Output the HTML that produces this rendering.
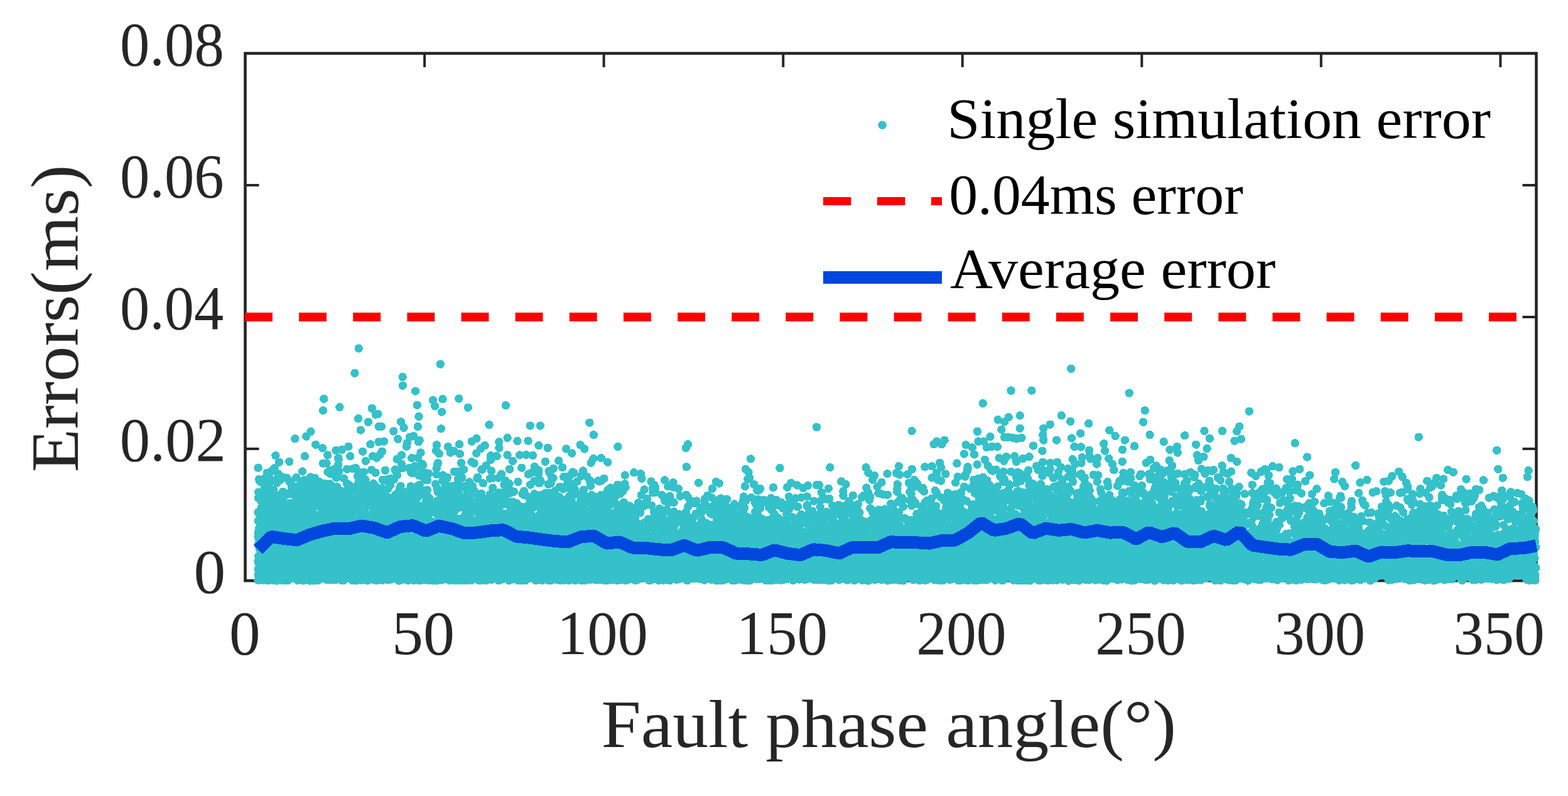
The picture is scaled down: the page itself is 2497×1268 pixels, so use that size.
<!DOCTYPE html>
<html><head><meta charset="utf-8"><title>Errors vs fault phase angle</title>
<style>html,body{margin:0;padding:0;background:#fff}svg{display:block}text{font-family:"Liberation Serif","DejaVu Serif",serif;font-size:100px}</style>
</head><body>
<svg width="2497" height="1268" viewBox="0 0 2497 1268">
<rect width="2497" height="1268" fill="#fff"/>
<rect x="390.5" y="85" width="2056" height="840" fill="none" stroke="#262626" stroke-width="4.6"/><path d="M676.1,85V107M676.1,925V903M961.6,85V107M961.6,925V903M1247.2,85V107M1247.2,925V903M1532.7,85V107M1532.7,925V903M1818.3,85V107M1818.3,925V903M2103.8,85V107M2103.8,925V903M2389.4,85V107M2389.4,925V903M390.5,715.0H412.5M2446.5,715.0H2424.5M390.5,505.0H412.5M2446.5,505.0H2424.5M390.5,295.0H412.5M2446.5,295.0H2424.5" stroke="#262626" stroke-width="4" fill="none"/>
<path d="M411.1 745.1h0m0 71h0m0 13.7h0m0 18.8h0m0 7h0m0 12.4h0m0 25.5h0m0 1.2h0m0 11.7h0m0 9.4h0m0 8.3h0m.3-130.7h0m.3 92.3h0m0 11h0m.1 10.8h0m0 8.8h0m.1-132.3h0m.2 31.1h0m.5-51.5h0m.1 78h0m.2 44.6h0m.1-25.5h0m.2 44.7h0m.1-139.5h0m0 85.9h0m.1 56.1h0m.1-43.4h0m.1-7.8h0m0 10.6h0m0 7.3h0m.1-20.5h0m0 60h0m.1-82.2h0m.1-46.4h0m0 62.5h0m.2 7.9h0m.1-18.1h0m0 3.6h0m.1 67.8h0m0 13.8h0m.1-134.1h0m.1 81.2h0m0 52.6h0m.1-55h0m.1-20.7h0m.1-24.8h0m0 76.8h0m.1 1.9h0m0 5.2h0m.1-66.3h0m.1-2h0m0 6h0m.2-12.5h0m0 40.7h0m.2-54h0m.1 29.2h0m0 9.7h0m.2 62.1h0m.1-34.4h0m.1-86.5h0m.1-30.1h0m0 151.1h0m.1-24.6h0m.1-51.6h0m.1 30.8h0m.2-65.6h0m0 100.5h0m.1-41.6h0m.2 44.1h0m.2-63.5h0m.2 19.1h0m.1-14.7h0m.1 38.6h0m.2-52h0m0 40.1h0m0 38.6h0m.1-91.4h0m.1 25h0m0 22.8h0m.1 36.7h0m.1-92.9h0m0 75.9h0m.2-80.1h0m.1 30.7h0m0 80.1h0m.1-46.3h0m.2 36h0m.1-57h0m0 8.3h0m.1-28.1h0m.1-20.2h0m.2 25.2h0m.4 55h0m.3-76.2h0m.1 38h0m.1-74.5h0m0 128h0m.2-80.2h0m.1 11.6h0m.1-63h0m0 33.1h0m.2 31.7h0m.4-82.9h0m.1 116.7h0m0 17.3h0m.1-46.4h0m0 9h0m0 13.6h0m.1 17.9h0m.1-6.1h0m0 7.4h0m.1-84.1h0m0 22.9h0m.2-54.8h0m0 138.9h0m.1-134.4h0m0 101.7h0m0 7h0m0 14.2h0m.1-28.6h0m0 3.8h0m0 6.6h0m0 28.2h0m.1-117.5h0m.3-2.1h0m.1 81.8h0m0 11.7h0m.1-50.3h0m0 62.6h0m0 12.6h0m.1-2.9h0m.1-95.9h0m.5 24.1h0m0 3h0m0 65.5h0m.1-33.7h0m.1-32.1h0m0 36.4h0m0 21.3h0m.2-4.1h0m0 1.8h0m.1-5.4h0m0 18.2h0m.1-84.7h0m0 44.7h0m0 13.1h0m.1-.1h0m0 28.4h0m0 11h0m.4-80.8h0m.1-16.5h0m0 32.6h0m.1-51.7h0m0 3.1h0m.1 56.7h0m0 11.9h0m.2-112.4h0m0 158.1h0m.1 2.1h0m.1-68.5h0m0 8.1h0m.1-110.3h0m.2 9.1h0m0 76.1h0m.1 4.3h0m.1 40.8h0m.1-21.9h0m0 16.5h0m.1-103.3h0m0 63.3h0m.1 73.4h0m.1-1.4h0m.1-18.3h0m0 32.7h0m.1-164h0m.2 90.9h0m.2 31.8h0m.1-43.4h0m.2 67.4h0m.2-117.3h0m0 6.1h0m.1 65.2h0m.1-43.3h0m.1 58.3h0m0 35.9h0m.1-16.9h0m.1-71.6h0m0 24.4h0m.3-12.3h0m0 29h0m.2-16.4h0m0 53.2h0m.1-94.5h0m.1 74.1h0m.1 14.2h0m.2-85.3h0m0 45.9h0m.1 3.4h0m0 8.9h0m.2-98.1h0m0 111.5h0m0 28.9h0m0 13.8h0m.5-170.8h0m0 61.4h0m.2 90.7h0m.1-59h0m.1-3.9h0m.3-33.9h0m0 92.8h0m.2-81.4h0m0 54h0m.1 8.2h0m0 39.1h0m.1-45.7h0m.1-93.2h0m0 55.6h0m0 64.8h0m0 17h0m.1-6.4h0m.2 2.7h0m0 3h0m.2-32.2h0m.2-52.1h0m0 4.4h0m0 44.2h0m0 .4h0m0 29.9h0m.1-42.4h0m.2-26h0m.2-80.1h0m0 108.8h0m.1-50.7h0m0 56.5h0m.1-129.3h0m.1 154.4h0m.1-24h0m.1-15h0m.2 11.3h0m.3-32.8h0m.1 52.3h0m.1 10.3h0m.1-83.5h0m.2 39.2h0m.1 28.2h0m0 18.9h0m.1-18.3h0m.2 25h0m.3-38.2h0m0 26.8h0m.2-58.9h0m0 13.5h0m0 35.3h0m0 8.9h0m.1-33.8h0m0 25.1h0m0 9.3h0m.1-83.9h0m0 71.8h0m.2 .6h0m.1-98.3h0m.1 27.1h0m.2-35.5h0m0 10.1h0m0 14.7h0m0 55.3h0m0 43.9h0m.4 13.6h0m.1-103.6h0m0 31.3h0m0 18.7h0m0 33h0m0 15.7h0m.1 4.7h0m.1-143.6h0m0 110.2h0m0 24.3h0m.1-19.7h0m.1-78.2h0m.1 6.5h0m.4 48.3h0m0 23.9h0m.2-50.3h0m.2 30.2h0m.1-24.5h0m0 44.1h0m0 7.6h0m.1-156.9h0m.2 40.5h0m0 41.8h0m.1 93.3h0m.1 1.4h0m.3-92h0m.2 47.2h0m.1-40.9h0m0 79.4h0m.2-51.6h0m.3-25h0m0 31.3h0m.2-57.7h0m.1-18h0m.1-69.7h0m.1 197.8h0m.1-50.7h0m.1 12.9h0m0 1.1h0m.1-8.8h0m0 42.1h0m.1-31.4h0m.1-30h0m.1-17.9h0m0 40.1h0m.3-117.3h0m0 99.9h0m.1 16.8h0m0 31h0m.1-34.7h0m0 1.1h0m0 44.7h0m.1-117.1h0m0 8.2h0m.1 22.5h0m.1 74.4h0m.1-39.7h0m.1-19h0m.2-16h0m0 27.7h0m.1-54.3h0m0 76.4h0m0 39.4h0m.3-155.9h0m0 121.9h0m.1 10.9h0m.1-63.6h0m.3-2.6h0m0 27.3h0m.1-38.4h0m0 36h0m0 22.8h0m.1 8.7h0m0 9.5h0m0 20.3h0m.1-20.9h0m.1-56.8h0m.4 30.6h0m0 30.6h0m.1-66.1h0m0 63.2h0m0 1.2h0m.2-63.7h0m.2 63.6h0m.2-141.5h0m0 29.7h0m0 69.4h0m0 58.2h0m0 .8h0m.2-25.6h0m.1-139.7h0m0 143.7h0m0 21.3h0m.2-95.9h0m.1-28.7h0m0 46.8h0m0 44.9h0m.1-53.4h0m.2-18.9h0m0 22.2h0m.2 42.5h0m0 14.8h0m0 1.4h0m0 28.1h0m.1-23.1h0m0 3.3h0m.1-33h0m.1-134.7h0m0 83.2h0m0 83.9h0m.1-57.1h0m.3 34.4h0m0 7.5h0m.3 1.2h0m.2 5.6h0m.3-63h0m0 60.2h0m0 6.1h0m0 16.7h0m.2-23h0m.1-80.2h0m0 63.3h0m.1-85.5h0m0 61.4h0m0 47.8h0m0 21.9h0m.1-90.4h0m0 33h0m.1 28h0m.2-44.7h0m.1-82.3h0m0 108.1h0m0 44h0m.2-51.6h0m0 13.4h0m.1-28.1h0m0 54.5h0m.1-26.3h0m.1 40.7h0m.1-23.7h0m0 22.4h0m.2-31.2h0m.2-71.3h0m.1 56.2h0m0 33.8h0m.1-2.9h0m.1-92.6h0m.1 111.1h0m.4-67h0m0 38.4h0m.1-73.8h0m.1 62.4h0m.2-120.2h0m.1 47.2h0m0 68.1h0m.2-25.1h0m.2 35.4h0m.2-26.8h0m.1 34.1h0m0 19.5h0m0 10.5h0m.2-42.1h0m0 43.1h0m.2-77.2h0m0 36.4h0m.1-27.3h0m0 20h0m.2-93.1h0m.1 63.3h0m0 14.7h0m.1-35h0m0 51h0m.1-24.8h0m.1 56.7h0m.1-18.6h0m.1-101.7h0m.2 80.6h0m0 25.3h0m.2 29.6h0m.1-108.1h0m.1-55.5h0m0 57h0m.1-8.5h0m0 100.1h0m.2-64.6h0m0 57.7h0m.1-69.9h0m0 6.2h0m0 53.6h0m.2-26.7h0m.4 9.6h0m0 18.1h0m.4-28.3h0m.1 57.6h0m.1-71.5h0m.1-41.7h0m0 28.4h0m.1 21.3h0m0 52.3h0m0 3.1h0m.2-6.4h0m.1-106.9h0m0 86.4h0m.1 31.4h0m.1-6.1h0m.1-50.6h0m.1 36.4h0m.2-16.8h0m0 13.4h0m.6-17.8h0m0 17.9h0m.1-106.7h0m.3 56.1h0m.1-33.8h0m.2 .9h0m0 82.5h0m0 26.9h0m.1-18.7h0m.1 1.2h0m0 14.4h0m.1-91.5h0m0 23.7h0m0 34.7h0m0 24.1h0m.3-1.9h0m.1-37.5h0m0 22.8h0m0 26h0m.1-100.7h0m0 90.8h0m0 7.6h0m.2-37.7h0m.1-117.1h0m0 163h0m.1-13.2h0m.1-18.8h0m.2-63.3h0m0 56.6h0m.1-30.1h0m0 49.5h0m.1 1.1h0m.6-15.5h0m.1-103.7h0m.1 96.6h0m.1 5.7h0m0 27.6h0m.1-32.2h0m0 30.1h0m.1-2.3h0m.1 3.6h0m.1-44.6h0m.2-61.7h0m0 114.3h0m.1-79.9h0m0 61.7h0m0 13.3h0m.2-27.9h0m0 23.4h0m0 4.7h0m.1-48.6h0m0 33.3h0m.2-19.6h0m.1-7h0m0 12.6h0m.2-30.1h0m0 44.1h0m0 12h0m.1-85.8h0m.1 92.4h0m.1-106.8h0m0 46.9h0m.1 16.7h0m.3-113.4h0m0 124.6h0m.1 15.4h0m.1-88.8h0m0 54.8h0m.2-136.9h0m.1 30.9h0m.1 42h0m0 87.5h0m0 7.9h0m.1 16.2h0m.1-2.9h0m0 1h0m.1-34.9h0m0 7.2h0m.1 2.4h0m0 26.9h0m.1-151.6h0m0 98.3h0m.1-19.9h0m.3 1.6h0m0 67.3h0m.1-37.6h0m.1-2.6h0m0 25.5h0m.2-13.6h0m.3-10h0m0 37h0m.1-51.9h0m.2-60.8h0m0 119.7h0m.1-21.8h0m.3-11h0m0 25.8h0m.3-59.1h0m0 25.9h0m0 27.8h0m.1-69.8h0m0 81.2h0m.2-92.6h0m0 49.3h0m.1-65h0m0 69.9h0m0 2.6h0m.2-108.4h0m.1-4.3h0m0 70.6h0m0 31.6h0m.4-94.1h0m0 137.8h0m0 3.1h0m.1-63.8h0m.1-69.7h0m0 100.5h0m0 17.4h0m0 6.9h0m.1-20.5h0m0 4.4h0m.3-36.1h0m.3 1h0m0 .3h0m.1 12.4h0m0 2.3h0m.1-27.2h0m0 60.9h0m.1-33.9h0m.2-26.8h0m.2 34.6h0m0 12.4h0m.4 3h0m.1-60.7h0m0 59h0m0 20.8h0m.3-69.8h0m0 60.7h0m.3-70.5h0m.1-8.3h0m.1 79.5h0m.1-133.2h0m.1 74.7h0m0 65.3h0m.2-90.4h0m0 45.7h0m.1-27.7h0m.1 15.5h0m0 21.6h0m.1 28h0m.1-90.5h0m0 80.6h0m.1-95.6h0m0 13.5h0m0 38.8h0m0 5.7h0m0 50.9h0m0 1.1h0m.1-64.4h0m.1 71.6h0m.1-32.1h0m0 21.5h0m.1 7.2h0m.1-134.1h0m.1 92.9h0m0 19.8h0m.1-42.6h0m.2-52.8h0m.1-11.7h0m.1 125.6h0m.1-84h0m.2-131.2h0m.1 152.7h0m.1 42.8h0m.1-12.2h0m0 9.1h0m.3-13.8h0m.1 9.7h0m0 3h0m.1-71.6h0m.3 7h0m0 49.7h0m.2-87.5h0m0 12.5h0m0 105.5h0m.3-43.4h0m.1 42.6h0m.1-68.2h0m0 .7h0m0 46.9h0m.1 11.4h0m0 24.7h0m.1-159.8h0m.1 95.4h0m0 42h0m0 4.9h0m.2-20h0m.2-19.7h0m.2-28.5h0m0 73.9h0m.1-18.5h0m0 29.7h0m.1-21.1h0m0 19.4h0m.1-107.7h0m0 58.9h0m.1-38.9h0m0 52.1h0m0 26.5h0m0 10.6h0m.1-15.8h0m.2-20.7h0m.1 3.3h0m0 10h0m.2-24.5h0m0 30.6h0m.1-34.8h0m0 40h0m.5-113.5h0m0 130.4h0m.2-45.5h0m.2-52.8h0m.4-29h0m.1 39.5h0m0 42.6h0m.2-27.2h0m0 40.6h0m.4 27.3h0m.1-11.8h0m.1-102.1h0m.1-11.4h0m.1 57.3h0m.2-5.1h0m0 25.8h0m0 42h0m.2-51h0m.2-90.6h0m0 37.8h0m0 101.8h0m.1-23.6h0m0 12.2h0m.1 6.1h0m.1-75.1h0m0 64.9h0m.3-32.3h0m0 21.8h0m.2 9h0m0 25.5h0m.2-44.4h0m.1-28.8h0m0 20h0m0 28.2h0m.1-118.9h0m0 32.4h0m.3 48.1h0m0 2.4h0m0 56.8h0m.2-138.5h0m.2 97.8h0m.2 21.9h0m.1-47.3h0m0 17.5h0m0 50.9h0m.2-30.1h0m.2-97.6h0m.1 22.4h0m0 88.7h0m0 12.9h0m.2-47.2h0m0 34.6h0m0 9.4h0m0 8.9h0m.1 1.7h0m.2-7.7h0m.1-37.9h0m0 13.7h0m.2 28.8h0m.1-47.7h0m.1 7.5h0m.2-65h0m0 19.7h0m0 84.2h0m.1-125.5h0m0 8.4h0m.1 13.4h0m0 57.7h0m.2 31.7h0m.1-35.1h0m0 10.3h0m.1 12h0m.1-124.9h0m0 79.6h0m0 28.1h0m.1-69.3h0m.1-54.2h0m0 108.9h0m0 39.3h0m0 24.2h0m.1-92.8h0m.1 9.3h0m.2 3.9h0m.1 .1h0m.1 21.9h0m.1 14h0m.1 29.9h0m.1-97h0m0 75.1h0m.1-62.8h0m0 14.9h0m0 35.8h0m0 28.3h0m.2-25.9h0m0 46.8h0m.2-35.1h0m.1 .5h0m0 33.9h0m.2-134.6h0m0 18.8h0m0 106.7h0m.1-114.4h0m0 66.6h0m.1-43.2h0m0 53.8h0m.3-62.4h0m0 51.2h0m.4-45.3h0m0 71.2h0m.3-54.6h0m0 56.4h0m0 5.7h0m.2-89.8h0m0 21.7h0m0 3.7h0m0 24.9h0m0 20h0m.1 7.8h0m0 25.5h0m.1-11.2h0m.1-138h0m0 68.6h0m0 39.3h0m.3-4.7h0m0 1.5h0m.1-99.1h0m.1-43.6h0m.2 90.8h0m.1-20h0m.1 116.3h0m.2-6.4h0m.1-48.7h0m0 21.5h0m0 1.5h0m0 3.2h0m.2-58h0m0 42.9h0m.1 25h0m0 28.5h0m.5-54h0m.1-78.8h0m.1 55.1h0m.1 51.1h0m0 2.7h0m.2-3.3h0m.3-200.9h0m.1 162h0m0 6.9h0m.1 29.9h0m0 26.2h0m.1-36.5h0m0 40h0m.1-75.5h0m.2 59.8h0m.1-45.4h0m0 41.7h0m.3-93.5h0m0 33.8h0m.2-26.2h0m0 105.5h0m.1-105.1h0m0 96.4h0m.1-109.3h0m0 67.8h0m.1-48.1h0m0 40.5h0m0 26.8h0m0 13h0m.1-125.4h0m0 107.6h0m.1 11.6h0m0 20.6h0m.1-67.1h0m.1-68.4h0m0 124.9h0m.1-68.2h0m.1-41.8h0m0 79.7h0m.1-59.2h0m0 50.9h0m.5-43.9h0m0 41.5h0m.1 26.3h0m.1-59.9h0m0 74.5h0m.1-64.5h0m.1 16.9h0m0 25.6h0m.1-109.6h0m.2 67.2h0m0 23.6h0m0 47.8h0m.1-30.9h0m.3-72.1h0m0 51.4h0m0 53.9h0m.4-116.3h0m0 84.2h0m.2-84h0m.1-22.9h0m0 127.1h0m.3-141.1h0m0 73.8h0m0 30.1h0m.1-1.1h0m.1 53.5h0m.1-35.1h0m.2-20.2h0m0 9.8h0m.2 16.1h0m.1-19.7h0m.1-25.1h0m0 5.3h0m.1 30.5h0m.2-53.2h0m.2 94.4h0m.2-69h0m.1 19.7h0m.1-68.1h0m0 40.6h0m0 24.2h0m0 34.9h0m.1-81.1h0m.1 1.8h0m0 74.5h0m0 16h0m.1-158.5h0m0 71.4h0m.1 51.7h0m0 39.8h0m.1-91.6h0m.1-143.7h0m0 127.7h0m0 42.8h0m.1 15h0m0 30.6h0m.1 1.9h0m.2-14.4h0m0 2.1h0m.1-23.3h0m.1-63.1h0m.1 10.2h0m.2 76.8h0m.1-41.8h0m.1 71.2h0m.1-156.5h0m.3 150.3h0m.1-121.3h0m0 47h0m0 54.6h0m.1-7.7h0m0 23.5h0m.1-73.3h0m.1-5.3h0m.4-19.1h0m0 17.4h0m.1 59.8h0m.1-14.2h0m.1 42.8h0m.1-106.3h0m0 94.8h0m.2 2.7h0m.1-46.2h0m.2-45.4h0m.1 37.5h0m0 23h0m.3 .3h0m0 3.7h0m.1 38.7h0m0 .8h0m.1-137.4h0m.2 86.7h0m0 42.8h0m.1-49.8h0m.2 37.1h0m.1-41.1h0m0 58.9h0m.2-52.3h0m.5-76.3h0m0 8.4h0m.1 5.2h0m0 41.9h0m0 2.5h0m.4-20.7h0m.2 45.5h0m0 17.1h0m.2-23h0m0 16.1h0m.1 27.5h0m.1-77.5h0m0 42h0m.1-103.6h0m0 70.6h0m0 21.7h0m0 6.5h0m0 41.3h0m.1-37.9h0m0 18.8h0m.2-121.6h0m.1 117.5h0m.1-130.1h0m.2 115.6h0m.2-36h0m.1 49h0m0 9.4h0m.2-24.3h0m0 12.5h0m.2-38.5h0m0 59h0m.2-200h0m.2 67.7h0m0 120.1h0m0 18.9h0m.3-57.5h0m0 59.9h0m.2-138.9h0m.1 67.6h0m0 76.6h0m.3-98.4h0m0 12h0m0 75.9h0m.2-64.9h0m0 7.9h0m0 5.2h0m0 27.4h0m0 36.7h0m.1-63.8h0m0 46.3h0m.1 .6h0m.1-66h0m.1 38.8h0m0 35h0m.1-67.1h0m.3-28h0m.1 101.1h0m.2-28.6h0m.3 4.4h0m.2-65.8h0m.1 92.8h0m.2-3.8h0m.1-122.7h0m0 33.6h0m0 48.4h0m.1-52.3h0m0 81.5h0m.1-129.9h0m0 14.4h0m.2 39.8h0m.1 24.7h0m.1-35.9h0m0 31.2h0m.1 54.7h0m0 16.1h0m.2-9.6h0m.1-47.7h0m.1-14.5h0m0 2.3h0m0 53.3h0m.6-31.1h0m0 15.8h0m0 .6h0m.1-111.9h0m.2 53.2h0m.1 82.6h0m.1-147.5h0m0 130.6h0m.1-3.1h0m.1-90.5h0m.2-38.8h0m0 31.1h0m.1 94.6h0m.1-12.6h0m0 19.1h0m0 6.9h0m.1-15.4h0m.1-22.6h0m0 53.2h0m.1-86.3h0m.1 75.6h0m.3-25.3h0m.3 9.2h0m0 3.3h0m.1-75.7h0m0 67.9h0m0 14.3h0m.2 16.9h0m.1-66.6h0m0 7.7h0m.1-3.8h0m0 7.9h0m0 40.9h0m.3-41.9h0m.1 1.4h0m0 11.7h0m0 6h0m0 2.1h0m.3-47.1h0m.1 61.1h0m.1-96.1h0m0 77.3h0m.1 38.2h0m.3-3.7h0m.2-130.9h0m.1 69.3h0m0 21.3h0m0 19.8h0m.2-47.5h0m0 9.9h0m0 20.1h0m0 7.1h0m.1-65.9h0m0 68.8h0m.1 25.4h0m.1-104.7h0m0 46.5h0m0 53.6h0m.2-56.9h0m0 49.2h0m.3-128.4h0m0 92.3h0m0 44.6h0m.1-92h0m0 99h0m.1-31.7h0m.3-45.5h0m0 17.8h0m.1-42.9h0m.2-101.5h0m.1 204.3h0m.2-122.6h0m0 54.8h0m0 35.9h0m0 7.9h0m.1-156.1h0m.1 99.4h0m0 30.2h0m0 43.5h0m0 7.7h0m.1-24.7h0m.1-59.8h0m.1-180.5h0m0 206.8h0m.1 35.6h0m.1-29.8h0m.1 9.8h0m.1-77.6h0m.1 109.2h0m.2-74.9h0m0 60.3h0m.1-89.2h0m0 33.3h0m0 66.1h0m.1-69.1h0m0 76.7h0m.1-132.9h0m.1-142.8h0m0 216.7h0m.2 25.2h0m0 31.5h0m.4 10.1h0m.1-23.1h0m.1-15.5h0m.3 12h0m.3-34.6h0m0 .5h0m0 63.7h0m.1-151.3h0m0 18.3h0m.2 65.9h0m0 10.3h0m.1 33.1h0m.1-55.1h0m.1 19.6h0m.2-56.1h0m0 67.4h0m0 46.8h0m.1 .2h0m.1-31.7h0m.1-61.2h0m0 88.9h0m.3 1.6h0m0 1.8h0m.1-67.7h0m0 31.9h0m0 21.7h0m.1-124.9h0m.1 70.4h0m.2 45.4h0m0 3.1h0m0 .4h0m.1-98.8h0m0 88.8h0m.1-51.7h0m0 24.9h0m0 26.6h0m0 29.4h0m.3-9.7h0m.2-80.5h0m.1 40h0m0 41.7h0m.1-44.9h0m.1-128.5h0m.1 68h0m.4-34.9h0m0 101h0m.1-62.9h0m0 98.8h0m0 9.4h0m.1-37.2h0m0 14h0m.1-32.7h0m.1 62.3h0m.1-116.6h0m.3 51.9h0m.1-51.1h0m.1 103.1h0m.3-186.2h0m0 106h0m0 18.5h0m.1 60.6h0m.1-158.1h0m.1 81.2h0m.1 54.1h0m.1-35.6h0m.1-47.3h0m0 6.3h0m.1 103.5h0m.1-119.5h0m.1 31.1h0m0 59.1h0m.1-13.2h0m.1-31.4h0m0 18.6h0m0 21h0m.2 32.2h0m.2-64.8h0m0 19.3h0m0 33.8h0m.2-17h0m0 3.7h0m.1-100.9h0m0 12.8h0m0 69.6h0m.1 16.1h0m.2-6.1h0m.1-47.7h0m.1 16.6h0m.1-68.4h0m0 29.6h0m0 21.3h0m.2-3.1h0m0 24.4h0m0 43.6h0m0 14.3h0m.1-104.3h0m.1 111.4h0m.2-.5h0m.1-53.4h0m.2 6h0m0 30.8h0m0 11.7h0m0 12.7h0m.3-88.5h0m0 37.1h0m0 14.1h0m0 4.6h0m.2-119.9h0m.3-21.7h0m0 70.3h0m0 4.8h0m.2 4.4h0m.1 49.9h0m0 27h0m0 13.5h0m.1-164.2h0m.1 109.8h0m0 38h0m.4-110h0m0 95h0m.1-43.1h0m.1 76.5h0m.1-124.3h0m.1 110.4h0m.2-127.3h0m.1 49.9h0m.1 20.7h0m0 6.7h0m0 22.1h0m0 17.9h0m0 18.8h0m0 7.4h0m.1-33.5h0m.2-38.9h0m0 1h0m0 38.5h0m.3-32h0m0 14.8h0m.1-39.3h0m0 57.3h0m.2-107.3h0m.1 72.1h0m0 31.9h0m.2 13.8h0m.2-58.5h0m.1 14.8h0m.1 31.2h0m.4-64.8h0m0 4.1h0m0 46.3h0m.2-44.6h0m.1 8.8h0m0 8.9h0m0 15.4h0m0 .7h0m.1 7.1h0m.1-46.7h0m.1 98.7h0m.2-49.7h0m.1 14.2h0m0 .9h0m.2-28.7h0m0 19.3h0m0 25.7h0m.1-25.5h0m0 35.8h0m.1-6.2h0m.2-111.9h0m0 125.5h0m.1-147.4h0m0 95.3h0m.2-57.8h0m0 38.3h0m.1-37.3h0m0 65.4h0m.1-92.2h0m0 87h0m0 49h0m.1-63.3h0m.1 63.7h0m.2-132.1h0m0 126.8h0m.1-71.1h0m0 1h0m.1 19.9h0m.1-120.5h0m0 137.7h0m.2 15.2h0m.1-100.1h0m.1 47.4h0m0 55.1h0m.1-21.6h0m.1-13.2h0m0 40.5h0m.1-22.6h0m.1 14.6h0m0 17.6h0m.1-137.2h0m0 94h0m0 11.9h0m0 20.4h0m.4-30h0m0 46.2h0m.1-81.9h0m.1 60.8h0m.1-79.8h0m.2 24.4h0m.1 10h0m0 38.4h0m.1-45.3h0m0 64.8h0m.2-37.5h0m.1 31.5h0m.1-79.1h0m0 43.8h0m.1-46.8h0m0 37.4h0m.2-146.6h0m0 143.7h0m0 19.7h0m0 19.3h0m.1-15.7h0m.1-54h0m.1 43.4h0m.1-11.4h0m0 21.9h0m0 7.7h0m.3-130.8h0m0 15.6h0m0 76.8h0m.1 69.8h0m.1-91.1h0m.1 84.2h0m.2-106.5h0m.1 98.7h0m.1-157.9h0m.1 41h0m0 25.2h0m0 102.5h0m.1-54.6h0m0 54.9h0m.1-59.7h0m0 44h0m.1-53h0m.1-93.1h0m0 18h0m0 31.8h0m0 62.6h0m.2-83.7h0m.1 47.5h0m0 40.9h0m.3-11.7h0m.1-114.3h0m.1 57.9h0m0 52.8h0m0 2.4h0m.1-66.3h0m0 34.5h0m.1 86.8h0m.2-93.5h0m.1-24.5h0m0 29.8h0m.2 30.4h0m0 45.3h0m.3-84.1h0m0 86.2h0m.1-177.1h0m0 10.4h0m0 90.4h0m.2-16.2h0m0 50.4h0m.1-15.9h0m0 32.3h0m.1-149.4h0m.2 167.9h0m.1-6.8h0m.2-72.2h0m0 33.8h0m0 3.5h0m0 27.5h0m0 2.3h0m0 7.1h0m0 23.7h0m.1-82.3h0m0 2.7h0m.1-88.1h0m.2 136.1h0m.4-3.6h0m.2-36.5h0m.2-198.1h0m.2 261.4h0m0 6.4h0m.1-43h0m.1 12.4h0m0 17.7h0m.1-110.7h0m.3 127.5h0m.1-93.3h0m0 35.5h0m.1 28.9h0m.1-80.1h0m0 35.2h0m0 6.7h0m.2 50h0m0 16.6h0m.1-94.9h0m.1-42.9h0m0 113.4h0m.1-44.1h0m.1 30.1h0m0 14.2h0m.2-29.9h0m.1-8.4h0m.1 35.8h0m.1-35.4h0m.2-7.8h0m0 25.5h0m0 16h0m.4-109.1h0m.1 67.4h0m.1 50.2h0m0 15.1h0m.1-8.7h0m.1-76h0m.1 87.8h0m.1-35.7h0m.2-166.1h0m0 145.6h0m.1-24.4h0m0 63.9h0m0 23h0m.1-106.9h0m0 85.2h0m.1 6.1h0m.1-87.8h0m.1 77.4h0m.1-41.9h0m0 25.5h0m.1 42.3h0m.1-66.5h0m.1-54.8h0m.4 73.8h0m.1-33.1h0m0 43.9h0m.3-68.3h0m.5 78.1h0m0 17.5h0m.2-48.8h0m.1-6.5h0m0 13.9h0m.1 50.8h0m.3-30.4h0m.1-131.8h0m0 70.1h0m0 31.1h0m0 11.5h0m0 2.1h0m0 17h0m.2-108.2h0m0 135.2h0m0 .4h0m.2-129.7h0m0 66.8h0m.4 37.1h0m.1-46.4h0m.1 28.1h0m.1-12h0m0 39.1h0m.1-2.9h0m0 1.7h0m.4-101.1h0m0 95.9h0m.1-67.8h0m0 74.2h0m0 9.1h0m.4-38.5h0m.1-31.7h0m.1-33.2h0m.2 90.2h0m0 15.6h0m.1-48.7h0m0 33.1h0m.5-96.6h0m.1 56.7h0m.1 38.9h0m.1-36.5h0m.1 8h0m0 5.9h0m.1-42.5h0m0 77.5h0m.1-22.7h0m0 32h0m.2-118.1h0m0 49.9h0m.1 43.8h0m.2-85h0m.1 106.1h0m.2-21.1h0m.1-85.3h0m.1 78.4h0m0 24.6h0m.2-52.7h0m.1-91.1h0m0 50h0m0 11.3h0m.2-19.5h0m0 35.3h0m0 42.3h0m.1-142.4h0m0 118.3h0m.2 12.9h0m.1-2.4h0m0 30.9h0m.2-65.2h0m.2-16.6h0m0 58.2h0m.3-110.5h0m0 128.6h0m0 9.5h0m.2-130.2h0m0 4h0m0 70.4h0m0 25.5h0m.2-18h0m0 53.4h0m.1-136h0m0 84.5h0m.3 42h0m.3-195.5h0m0 175.6h0m.1-43h0m.1 66.1h0m.2-2h0m.1-16.1h0m.2-84.9h0m.1-34.5h0m0 79h0m.1 24.7h0m0 37.2h0m.2-32.7h0m0 2.1h0m.3-66.2h0m.1 75.7h0m.2-76.1h0m0 74.3h0m.2 1h0m.3-93.4h0m.1 6.1h0m0 99.1h0m.2-58.7h0m0 73.7h0m.1-88.3h0m.1 58.9h0m.1-162.1h0m0 62.5h0m0 47.9h0m0 79.3h0m.1-10h0m0 3.5h0m.1-91.1h0m.1 29.1h0m0 48.5h0m0 12.4h0m.1-59h0m0 52.8h0m.1-67.3h0m.2 10.5h0m0 10h0m0 27.2h0m0 32.3h0m.2-61.9h0m0 22.5h0m.1 21.9h0m.1-8.7h0m.1-10.3h0m.1-16.3h0m.1-30.3h0m.1 3.7h0m.2 15.3h0m0 11.6h0m0 38.4h0m.1-71.8h0m.2 82.6h0m0 7.7h0m.1-75.3h0m0 39.5h0m0 27.7h0m.2-4.7h0m.1-15.3h0m0 9.6h0m.3-4.6h0m.1-39.1h0m.2-32.8h0m.1 99.6h0m.1-120.2h0m0 58.8h0m.1-36.1h0m0 66.4h0m.2-51.6h0m0 71.7h0m.6-20.2h0m0 29.9h0m.2-87.9h0m.1-32.7h0m.1 113.2h0m.1-37.3h0m.1-131.6h0m.3 95.3h0m0 20h0m0 42.7h0m0 19.4h0m.2-20.5h0m.1 9.4h0m.1-60.4h0m0 .3h0m.2-71.9h0m0 99h0m0 18.2h0m.3-48.6h0m.1 26.6h0m0 13.2h0m.1-28.1h0m.2 9h0m.1-64h0m0 67.9h0m.2-19.3h0m.1 65.9h0m0 1.4h0m.1-73.7h0m.1-2.9h0m.2-50.2h0m0 10.5h0m0 5.1h0m0 90.3h0m.1-307h0m.1 308.7h0m.1-51.1h0m.2 57.8h0m.2 11.6h0m0 .7h0m.2-112.3h0m0 86.5h0m.2-26.6h0m.2-19.4h0m.1-40h0m0 37.7h0m0 62h0m0 5.4h0m.1-80.8h0m0 18.3h0m.1-4.7h0m.2-102.5h0m.1 110h0m.1-9.1h0m.3-71.8h0m.1 150.2h0m.1-72.7h0m0 9.6h0m.1 13.5h0m0 18.3h0m.2-35.1h0m0 38.2h0m.3-44.4h0m0 19h0m0 41.6h0m0 3.5h0m0 5.3h0m.2 1h0m.4-24.6h0m0 3.9h0m.2-98h0m.1 42.9h0m.2 16.6h0m0 14.4h0m.1-9.1h0m.1-54.4h0m0 74.7h0m.3 27.1h0m.1-157.9h0m0 44.1h0m.2-30h0m0 74.2h0m0 44.4h0m.4-18.4h0m.2-5.2h0m0 38.2h0m.1-5h0m.1-233.8h0m0 256.9h0m.2-133.7h0m.1 93.5h0m0 9.4h0m.3 7.1h0m.1-345h0m.2 338.1h0m.1-21.5h0m0 25h0m0 8.9h0m0 8.8h0m.1-124.8h0m0 130.5h0m0 1.1h0m.1-156.6h0m0 15.4h0m0 46.7h0m.6-41.6h0m0 119.6h0m.1-25.5h0m.3-126.7h0m.1 110.8h0m.2-52h0m0 11.8h0m0 3.4h0m0 48.4h0m.1-10h0m0 19.5h0m.2 32.8h0m.3 .7h0m.1-8.2h0m.1-86.4h0m.1 47.8h0m.2 17.9h0m0 32.3h0m.1-236.1h0m.1 88h0m.2 66.3h0m.1-61.9h0m.2-20.7h0m0 131.8h0m.1-1.7h0m0 6.3h0m.1-60.1h0m0 90.9h0m.1-32.2h0m.2-103.3h0m.1 39.8h0m0 32.5h0m.2 61.3h0m.3-101.1h0m0 83.6h0m.1-60.9h0m.1-19.7h0m0 .9h0m.1-7.7h0m0 59.3h0m.2-29.7h0m.2 49.4h0m.1-39.6h0m.2-7.9h0m.2 73h0m.1-46.3h0m.1-16.2h0m.1-71.8h0m0 35.7h0m0 39.7h0m.1-143.6h0m0 197.7h0m.3-125.3h0m0 67.6h0m0 64.3h0m.2-107.1h0m0 4h0m.1 101.6h0m.2-78.6h0m0 73.3h0m.1-18.4h0m.3 2.1h0m.1-23.2h0m0 35.6h0m.1-11.1h0m.2-.2h0m.1-69.2h0m0 90.6h0m.2-170.8h0m.2 150.3h0m.3-117.5h0m0 7.1h0m.1 62.8h0m.1-83.7h0m0 119.1h0m0 11.4h0m0 3h0m0 13.2h0m.1-117.2h0m.1 11.9h0m.4 67.1h0m0 30.1h0m.2 6.2h0m.1-152.3h0m0 108.1h0m0 35.8h0m.1-107.6h0m0 108.4h0m.1-61.6h0m0 16.5h0m0 36.7h0m.1 3.6h0m.1-10.5h0m.3-26.3h0m0 2.8h0m0 26.8h0m.1-132.3h0m0 13h0m.2 146.6h0m.1-136.1h0m.1-53.2h0m0 131.6h0m.1-6h0m0 23.3h0m.2-80.8h0m0 80.6h0m.2-111.8h0m0 13.2h0m0 96.3h0m.2-23.9h0m.2 53.5h0m.2-29.7h0m0 19.3h0m0 6h0m.1-23.3h0m.1 32.2h0m.1-54.1h0m.1-75.4h0m0 16.8h0m.3 69h0m0 6.6h0m.1-71.5h0m0 21.8h0m.1-46.1h0m0 126.5h0m0 4.1h0m.1 6.8h0m.3-16.3h0m0 20.9h0m.1-31.3h0m0 1.7h0m0 13.1h0m.1-26.1h0m.1 8.2h0m.1 35.4h0m.1-43.3h0m.1-34.7h0m.1 1.8h0m.1-65.2h0m.1 70.9h0m.1-55.9h0m0 91.7h0m0 8.8h0m0 15.9h0m.2-2.4h0m.2-12.9h0m.2-12.1h0m.1-215.2h0m0 242h0m.1-88h0m.2-21.5h0m0 53h0m.2-65.7h0m0 69.7h0m.1-.6h0m.2-68.9h0m0 35.9h0m0 18.5h0m.1 68.8h0m.1-52.9h0m.3 22.8h0m0 29.2h0m.1-51.7h0m.1-9.4h0m0 28h0m.1 36.7h0m.2-95.2h0m.1-34.6h0m0 48.9h0m.1 25.9h0m.1 39.4h0m0 7.8h0m0 8.6h0m.2-98.4h0m0 56.8h0m.1-33.7h0m.3 19.5h0m0 21.9h0m0 27.7h0m.4-85.2h0m.1 5h0m0 81.9h0m.2-33.7h0m.1-173h0m.2 193.2h0m.1-81.1h0m.1 .3h0m.1 11.7h0m0 25.4h0m.5-9.1h0m.1-58.4h0m0 63h0m.1 28.3h0m.1-1h0m.2 18.1h0m.1-149.7h0m0 126.4h0m.1 39.3h0m.1-23.9h0m0 7.9h0m.1-8.3h0m.1-22.7h0m0 46.8h0m.2-106.6h0m0 24.9h0m0 23.4h0m.1 4.1h0m0 40.5h0m.1-249.8h0m0 187.2h0m.1 20.9h0m.1-17h0m0 56.3h0m.1-41.6h0m0 66.5h0m.1-127.4h0m0 80.7h0m.2-5.3h0m.1-34.5h0m.1-7.2h0m0 48.3h0m0 36h0m.1-12.7h0m.1-48.4h0m.2 29.6h0m.1-155.2h0m0 171h0m.2-53h0m.1-67.5h0m0 87.2h0m.1 57.9h0m.2-122.9h0m0 25.5h0m0 53.2h0m0 .3h0m0 40.7h0m.2-88.6h0m0 65.4h0m.1-125.8h0m0 42.1h0m0 22.7h0m0 86h0m.1-76.7h0m.1 14.5h0m0 54.5h0m0 9.9h0m.3-116.9h0m0 16h0m0 60.4h0m0 17.3h0m.1-27.7h0m0 51.7h0m.1-102.7h0m0 53.6h0m0 30.8h0m.1-73.7h0m0 66.8h0m0 24.9h0m.1-95.9h0m.1 38.1h0m.1-67.2h0m0 56.7h0m0 65.8h0m.3-112.8h0m.2 55.2h0m0 10.8h0m.1 31.2h0m.1-127.8h0m0 72h0m.1 24.4h0m0 25.2h0m.3-91.7h0m.2 38.6h0m0 57.6h0m.1-67.9h0m.1 76.3h0m.1-1h0m.2-133.6h0m0 106.8h0m.7-131.4h0m0 85.9h0m0 50.9h0m.1-115.1h0m0 122.7h0m0 10h0m.2-247.2h0m0 211.5h0m0 17.7h0m.1 20.6h0m.1-44.1h0m.1 54.4h0m.1-98.2h0m0 80.3h0m.1-100.7h0m.1-12.6h0m0 92.9h0m.1 7h0m0 19.6h0m0 8.2h0m.2-66.7h0m.1-3.7h0m.1 45.7h0m.2-94.6h0m0 114.7h0m.2-182.9h0m0 144.1h0m0 14.1h0m0 37h0m.1-63.6h0m.1 2.3h0m.1 10.7h0m.1-35.2h0m0 55.1h0m.1-2.9h0m.2-4.8h0m.1-1h0m.2 1.4h0m.1-14.5h0m0 13.9h0m0 8.6h0m0 14.2h0m.1-20.9h0m.1-18.6h0m.2 27.8h0m.1-12.6h0m.2-44.4h0m0 28.4h0m.1 25.3h0m0 27h0m.1-261.1h0m0 222.4h0m0 22.3h0m0 6h0m.3-52.6h0m.1 35.5h0m.1-71.5h0m0 96.2h0m.1-81.3h0m0 1.7h0m.1 66.5h0m.1-29.6h0m0 11.6h0m.2-78.2h0m0 17.6h0m0 48h0m.1 22.3h0m.1-217h0m0 24.5h0m.1 89.9h0m0 122.2h0m.2-36.2h0m.1-29h0m0 35h0m.2 16.4h0m0 3h0m.1-118.2h0m0 85.5h0m.2-16h0m0 59.5h0m.1-96.5h0m.1 85.4h0m0 7h0m.1-1.2h0m.1-35.1h0m0 21h0m.1 .1h0m.2-40.9h0m.1-41h0m.1-90.6h0m0 60.4h0m0 56.3h0m0 70.5h0m0 11.8h0m.1-80h0m.1-27.3h0m.1 63.1h0m0 3.5h0m0 3.9h0m0 19h0m.1-106.4h0m0 52.9h0m0 53.9h0m.1-30.6h0m0 32.5h0m.1-126.8h0m0 72.3h0m0 52.3h0m.1-71.1h0m.4 4h0m0 66.9h0m.2-37.8h0m.1-53.1h0m.1 9.8h0m.1 51.9h0m.1-8.4h0m.1-38.2h0m.1-31.3h0m.1 107.2h0m.1-35h0m0 35.2h0m0 14h0m.2-23.8h0m.4-216.4h0m0 222.7h0m.1-86.2h0m.2-19h0m0 113.9h0m.1-56.4h0m.1 61.4h0m.1-138.2h0m.1 69.6h0m0 24.1h0m.1 4.2h0m.1-156.4h0m0 64.9h0m0 1.5h0m.1 67h0m0 14.1h0m0 34.4h0m0 0h0m0 21.7h0m.2-100.6h0m0 70h0m0 .5h0m0 13.9h0m.4 17.5h0m.1-48.7h0m0 30.9h0m.1-141.8h0m0 100.8h0m.2 24.5h0m.2-84.5h0m.1 113.7h0m.1-9.4h0m.1-58h0m.1 20.2h0m0 41.7h0m.1-36.6h0m.2-89.2h0m0 88.2h0m0 31.9h0m.1-17.9h0m0 32.8h0m.1-70.1h0m.1-10.6h0m0 6.9h0m0 55.8h0m.1-50h0m.1-73.2h0m0 32.8h0m0 106.4h0m.2-138.2h0m.2-79.4h0m0 214.1h0m.2-115.6h0m0 12.9h0m0 62.9h0m.2-6.4h0m.1-45.6h0m0 43.2h0m.1 31.2h0m.1-32.6h0m0 44.7h0m.1-43.4h0m.1-33.4h0m.3-1.2h0m.1 21.9h0m.2-2.9h0m.1 21.9h0m0 37.8h0m.2-32.4h0m.1-6.3h0m.2-124.6h0m0 167.6h0m.1-20.9h0m.1 16h0m0 3h0m.1-77h0m.1 68.2h0m.1-103.5h0m.2 32.4h0m0 9.7h0m.1-9.7h0m.6-10.8h0m0 35.8h0m0 12h0m0 5.8h0m0 29.3h0m.1-55.2h0m.1 30.4h0m.1-29.1h0m.2 47.5h0m.1-136.7h0m.2 138.3h0m.1-104.5h0m.2 87.7h0m.1-10.9h0m.1-31.8h0m.2-17.5h0m.1-9.3h0m.1-9h0m0 108h0m.2-89.6h0m.1 33.9h0m0 45.5h0m.1-79.1h0m0 48.8h0m0 48.8h0m.2-6.6h0m.1-7.5h0m.2-34.5h0m.2-40.9h0m.1-54.9h0m.3 78.6h0m.1-18h0m.1-70.9h0m0 26h0m0 84.5h0m0 33.5h0m.1-46.3h0m0 2.1h0m.1-14.3h0m.1-8.9h0m.1 32.8h0m.2-85.3h0m.2 127.1h0m.1-94.7h0m.1 39.3h0m0 22.9h0m.1-35.1h0m.1-9.2h0m0 21.8h0m.2-34.4h0m.1-14.4h0m0 77.9h0m.1-123.4h0m.1 29.1h0m0 25.9h0m0 56.9h0m0 2.6h0m.1-38.2h0m.1 54.9h0m.1 12.3h0m.2-102.6h0m0 50.2h0m0 14.1h0m.1 20.8h0m.1 14.5h0m.2-48.6h0m0 50.2h0m.2-93.5h0m.1-57h0m.1 142.9h0m.3-34.1h0m.1-98.2h0m0 62.6h0m.2 87.7h0m.6-81.3h0m.1 6.4h0m0 64.5h0m.1-48.2h0m.2 5.2h0m0 35.3h0m0 13.8h0m.2-124.4h0m0 44.3h0m.1-26.2h0m.1 37.1h0m.3 2.5h0m0 64.7h0m.1-7.7h0m.4-67.2h0m.1 36.6h0m0 42.5h0m.2-126.7h0m.1 51.8h0m.1 1.5h0m0 31h0m0 5.2h0m0 13.7h0m.1-46.5h0m.2 53.4h0m.1-9.2h0m.1-29.5h0m0 2.3h0m.1-38.8h0m.2 87.1h0m.1-62.4h0m.2 20.2h0m.6-37.3h0m.3 67.4h0m.2-1h0m.1-216.2h0m0 109.2h0m0 24.7h0m.3-57.1h0m.2 36.7h0m.2-4h0m.1 74.9h0m.1-56h0m0 45.7h0m.1-24.1h0m.2 47.2h0m0 19.1h0m.1-74.8h0m.1 74.6h0m.1-12.3h0m.1-30.1h0m0 30.9h0m.2 4.6h0m.1-51.9h0m0 48.9h0m.1 2.7h0m.1-7.6h0m0 26.2h0m.1-166.4h0m0 143.9h0m0 2.3h0m.1-87.7h0m.1 82.9h0m0 20.4h0m.2-121.3h0m0 51h0m0 20.3h0m.3 61.8h0m.2-42h0m.3 7.8h0m0 5h0m.1-34.1h0m0 25.2h0m0 26.3h0m.3-16.3h0m.1-69.7h0m0 71.4h0m.2 10.2h0m.1-87h0m.1 70.3h0m.1-135.7h0m0 106.5h0m0 23.5h0m.1-36.3h0m.1 4.7h0m.4 63.9h0m.1-62.9h0m.2-121h0m0 70.3h0m.1 71.6h0m0 37.3h0m.1-85.4h0m.3-68.5h0m.1 87.2h0m.2 43.2h0m.1-76.5h0m.1 36.8h0m.3-56.1h0m0 91.6h0m0 24.1h0m.1-28.8h0m.1-179h0m0 86.1h0m.1 12h0m0 100.5h0m0 4.8h0m0 17.1h0m.1-43.7h0m0 8.5h0m0 10.1h0m.2-71.2h0m0 88.2h0m0 3.5h0m.1-73.7h0m.1 38.4h0m0 10.8h0m.1-18.7h0m0 8.7h0m.1-77.8h0m.1 18.5h0m0 7.3h0m0 13.8h0m.3-16.6h0m.2 36h0m0 63.1h0m.1-86h0m.1 31.8h0m0 43.8h0m.1-126.1h0m.2 65.2h0m0 58.5h0m.2-54.1h0m0 38.1h0m.2-20.8h0m.1-84.8h0m.1 61.9h0m.2-30.4h0m0 56.5h0m.2-99.7h0m0 27.9h0m0 86.1h0m.1 15.4h0m.1-62.7h0m0 22.7h0m0 9.7h0m.1-45h0m.1-43.1h0m.1 48.6h0m0 44.4h0m0 37.2h0m.2-73.2h0m0 50.1h0m.1-76h0m0 21.5h0m.1 48.5h0m.1 2.4h0m.1-89.9h0m.2 49.7h0m0 19.3h0m.1-98.2h0m0 83.6h0m.2 10.4h0m0 19.3h0m0 3.5h0m0 25.1h0m.1-107h0m0 17.6h0m.1-154.9h0m0 118h0m.1 112.4h0m.1 17.4h0m.1-55.4h0m.2 41.6h0m0 16.6h0m.3-16.6h0m.1-166.8h0m0 78.3h0m.1 100.5h0m.3-193h0m.2 66.4h0m0 57.8h0m0 37.1h0m0 36.9h0m.1-24.6h0m.1-52.8h0m0 4.8h0m0 11.6h0m0 23.2h0m.1-52.7h0m.2 67.5h0m.1-110.1h0m0 90.5h0m0 4.1h0m0 29.7h0m.2-10.3h0m.2 4.9h0m0 10.8h0m.1-63.5h0m0 26.1h0m0 16.8h0m.1-298.7h0m0 235h0m0 36.3h0m.2-1.6h0m0 51.6h0m.1-307.5h0m0 131.4h0m.1 170.9h0m.1-13.8h0m.1-118.4h0m.2 105.9h0m.1 26.6h0m.1-24.2h0m.1-40.1h0m0 69.5h0m.1-97.8h0m0 98.8h0m.1-88.4h0m.1 76.4h0m.1-107.5h0m0 105.2h0m0 13h0m.4-103.9h0m0 90.9h0m.1-227.4h0m.1 125.5h0m0 74.2h0m0 1.3h0m0 6.7h0m0 30.2h0m.1-96.5h0m.2 78.8h0m.1-39.5h0m.2-23.1h0m.2 67.9h0m.2-105.7h0m0 64h0m.1-32.7h0m.1 39.3h0m.3-41.7h0m.1 39.6h0m0 22.2h0m.1 20.7h0m.2-99.8h0m0 29.7h0m0 17.2h0m.2 41h0m.1-59.8h0m0 71.3h0m.1-24.4h0m.1-57.6h0m0 33.7h0m0 48.3h0m0 9.9h0m.1-129h0m.1 11.9h0m0 99h0m.2-50.3h0m0 29.7h0m.2-7.1h0m.1-55.9h0m0 75.3h0m.1-50.8h0m.1 53.2h0m.1 20.5h0m.1-19.7h0m.1-81.3h0m0 51.9h0m.3-38.7h0m0 65.5h0m0 15.7h0m.3-20.2h0m.1-180.5h0m.2 139.3h0m0 16.4h0m.1 13.9h0m.1 33.1h0m.1-65.3h0m.1 4.4h0m.1-147.1h0m0 145.6h0m.1 32.9h0m.3-73.9h0m.1 19.4h0m0 59.8h0m.3-10.4h0m.1-37.1h0m0 21.3h0m0 36.3h0m0 22.5h0m.1-41.4h0m.1-4h0m0 46.9h0m.1-13.9h0m.2-50.7h0m0 18.5h0m0 36.1h0m.1 10.9h0m.6-27.1h0m.1-.6h0m0 25.3h0m.1-49.3h0m0 33.9h0m.1-52.5h0m.1-45.9h0m.1 66.2h0m.1 .9h0m.3-83.9h0m0 100.3h0m.1-146.4h0m.1 106.6h0m.1 42.1h0m.1-113.2h0m.1 115.1h0m0 23.9h0m.2-15.9h0m.1-28.4h0m0 15.8h0m0 5h0m0 4.6h0m.1-95.3h0m0 73h0m.1 11.9h0m.1-43.1h0m0 12.8h0m0 44.8h0m.2-208.9h0m0 207.6h0m.1-82.2h0m0 66.5h0m.1 8.9h0m.1-103.9h0m0 30.3h0m0 86.7h0m0 8h0m.1-56.4h0m0 34.1h0m0 18h0m.1-4.8h0m.1-58.6h0m.1-1.7h0m.1 62.9h0m0 9.3h0m.2-61.6h0m0 2.5h0m.1-78.3h0m0 138.5h0m.2-14.7h0m.1-37.6h0m.1-47.4h0m.2 83.2h0m.1-131h0m0 144.2h0m.5-166.3h0m0 160.7h0m.1-95.4h0m0 22.6h0m0 64.9h0m0 10.6h0m.1-2.2h0m.1-70.6h0m.1 73.3h0m.1-74.4h0m.1-63.9h0m0 15.7h0m.3 107h0m0 22.1h0m.1-193.4h0m0 144.2h0m0 28.7h0m.1-82.9h0m0 28.9h0m.3-52.9h0m0 105.6h0m.2-30.3h0m0 33.7h0m.1-150.7h0m.2 137h0m.5-61.4h0m0 4.2h0m0 56.5h0m.1 22.3h0m0 2h0m.1-111.3h0m.1 82.2h0m0 22.9h0m.1-14.1h0m.2-27.2h0m0 10.4h0m.1 14.2h0m.2-39.6h0m0 .8h0m0 44.2h0m.2-64h0m0 45.6h0m.1-99.5h0m0 19.7h0m0 7h0m0 108.3h0m.2-219.5h0m0 144.1h0m.3-16.1h0m0 45.7h0m0 32.4h0m0 6.6h0m0 17.1h0m.2-106.1h0m0 103.5h0m.2-59.7h0m0 26.9h0m0 26h0m.2-49h0m.3 22h0m0 2.7h0m.2-9.5h0m.3-26.2h0m.1 10.4h0m.2-34.7h0m0 72.1h0m0 2.1h0m.1-162.5h0m.1 169h0m0 9.2h0m.1-133.8h0m0 75.3h0m0 30.4h0m.1 17.6h0m.2-56.4h0m.1 58.5h0m.1-46.1h0m.1-243h0m0 200.9h0m0 40.8h0m0 32.5h0m.2-31.4h0m0 40h0m.2 6.4h0m.3-23.6h0m.2-42h0m0 61.4h0m.2-45h0m.4 18.3h0m.2-29.2h0m0 17.5h0m.2 22h0m.1-75.8h0m.1 34.2h0m0 27.2h0m0 2.8h0m.1-3.8h0m.1-2.8h0m.2 10.2h0m0 2h0m.1-110.9h0m0 94.4h0m.1-29.4h0m0 54.1h0m0 6h0m.1-254.5h0m0 181.6h0m.4 29.5h0m.1 12.4h0m0 28.9h0m.3-39.8h0m0 32.5h0m.2-211h0m0 207.6h0m.2-142.1h0m0 59.5h0m.1-75.2h0m0 135.8h0m.1-73.1h0m0 101.9h0m0 8.8h0m.2-91.8h0m.1 56.7h0m0 9.7h0m.3 8.4h0m0 17.2h0m0 12.8h0m0 8.6h0m.1-220.5h0m0 84h0m0 62.4h0m0 14.5h0m.1 20.2h0m.1 22.5h0m.1-28.8h0m.1-28.2h0m0 36.2h0m0 29.8h0m.2-253h0m0 240.6h0m.1-66.3h0m.1 69.7h0m.1-149.7h0m0 62.5h0m.2-34.7h0m.3 126.9h0m.1-4.2h0m.2-207h0m0 71.2h0m.2 117.9h0m0 27.8h0m.1-16h0m.3-20.7h0m.2 .1h0m.6-101.7h0m.1 61.1h0m0 36.7h0m.2-12h0m0 7.6h0m0 28.5h0m0 13h0m0 9.6h0m.1-166.3h0m0 51.9h0m.1-88.8h0m0 165h0m0 32h0m.1-94.3h0m.3 1.7h0m.2-73.4h0m.1 148.4h0m0 8.4h0m.1 .2h0m.1-73.2h0m0 77.6h0m.1-51.3h0m.1 19h0m.2 31.9h0m.2-103.7h0m0 111.5h0m.1-134.9h0m0 20.7h0m0 21.7h0m0 8h0m0 4.9h0m.3-102.3h0m.3 114.4h0m.3-24.8h0m0 73.8h0m.1-69.3h0m0 56.7h0m0 3.3h0m0 18.6h0m.1-32.4h0m.1-95.8h0m0 49.4h0m.1 41.6h0m0 22h0m.2-139.5h0m0 138.8h0m.1-29.1h0m.2 54.2h0m.3-99.2h0m.1-80.9h0m0 135.2h0m0 43.2h0m.1-166.5h0m0 144h0m.2 8.6h0m.1-48.7h0m.1 15.9h0m.2 13.8h0m0 33.9h0m.2-138.8h0m0 109.3h0m.1-78.2h0m0 58.7h0m.2-37.3h0m.1 41.6h0m.2 5.2h0m0 40.4h0m.1-54.9h0m0 25.7h0m.4-28.8h0m0 42.4h0m.1-51h0m.1-13.4h0m.1-77h0m.2 118h0m0 36.5h0m.1-76.7h0m0 73.2h0m.1 1.7h0m.3-31.5h0m0 3.5h0m.1-79.5h0m.2 8.4h0m0 50.7h0m0 36h0m0 19.1h0m.1-169.1h0m.1 102.4h0m.1-67.2h0m0 59.9h0m.1 26.7h0m.1-10.9h0m.1-44.1h0m.3 88.6h0m.1-56.8h0m.1 13.9h0m0 46.3h0m.1-113.8h0m.3-13.9h0m.2 125.3h0m.2-157.3h0m.1 111.1h0m0 56.6h0m.1-85.8h0m0 5.8h0m0 13.5h0m0 54.4h0m.1-.8h0m.1-113.5h0m0 112.2h0m0 .5h0m.1-79.7h0m0 79.1h0m0 7.9h0m.2-31.2h0m.3-57.6h0m0 47h0m.2-14h0m.1 43.3h0m0 13.6h0m.2-135.4h0m0 58.8h0m0 40h0m0 2.7h0m0 15.2h0m0 23.3h0m.2-77.3h0m.1-78.3h0m0 106.3h0m.2-35.1h0m0 66.6h0m.1-88h0m0 31.6h0m.2-7h0m.2 46.2h0m0 28.3h0m0 8.9h0m.2-82.3h0m.1 79.1h0m.1-49.9h0m.2 35.5h0m.1-26.1h0m.1-65.6h0m.1-.7h0m.1 93.6h0m0 15.2h0m.2-14.2h0m.2-152.7h0m0 47.7h0m0 122h0m.3-52.6h0m.1-52.5h0m0 71.6h0m.2 14.5h0m.2-63.3h0m.1-46.5h0m.1-2.1h0m0 85.1h0m.1 3.7h0m.1-36.8h0m.1-30.2h0m.2-9h0m0 57h0m0 8.7h0m0 5.1h0m.1-1.9h0m0 45.4h0m.2-88.3h0m0 79.2h0m.2-65.2h0m0 63.7h0m.3-29.4h0m.1-51.1h0m0 35.5h0m.1 25.8h0m.1 11.2h0m.1-103.4h0m0 2.4h0m.1 50.9h0m.1 8.4h0m0 3h0m.2-5h0m0 37.7h0m.3-79.8h0m.2 79.8h0m.1-1.3h0m0 18.4h0m.1-80.9h0m0 37.8h0m.1-59.1h0m.1 50h0m.3-23.7h0m.2 63.9h0m.4 4h0m.1-36.7h0m.1 8.5h0m0 40.4h0m.3-65h0m0 47.5h0m0 24.1h0m.2-8.3h0m.1-67h0m0 14h0m0 22.2h0m.1-13.5h0m.2-66.5h0m.1 2.1h0m0 49.8h0m0 67.9h0m.2-65.3h0m.2-49.7h0m.1-172h0m0 255.9h0m.2-56.9h0m0 32.1h0m0 17.8h0m0 20.9h0m.1-70.5h0m.1 8.5h0m.1 33.2h0m.2-77.3h0m0 85h0m0 8.5h0m.1 30.2h0m.2-69.7h0m.1 27.6h0m.1 37.8h0m.1-82.3h0m.1 80.6h0m.1-26.8h0m.1-21.6h0m0 46.8h0m.1-4.2h0m.1-102.4h0m.5 75.9h0m0 25.5h0m.2-60.1h0m.5 10h0m.2-215.1h0m0 276.4h0m.2-49.5h0m0 45.6h0m.1-68.2h0m0 13.2h0m.1-10.8h0m0 34.1h0m.2-1.5h0m.1 1.4h0m.3-82h0m.1 114.3h0m.1-148.8h0m0 108.8h0m0 .1h0m.3-62.8h0m.1-99.4h0m0 183.4h0m.2-9.5h0m0 1.9h0m0 19.8h0m.1-10.1h0m.2-7h0m.3-149.8h0m0 178.4h0m.2-68.9h0m.1-100.3h0m.1-46.9h0m.1 210.5h0m.1-42.5h0m.1-78.8h0m0 70.5h0m.2 25.5h0m.1 2.2h0m0 1.7h0m0 15.3h0m0 5.6h0m.2-140.3h0m0 25.9h0m0 84h0m0 4.4h0m.1-73.6h0m0 58.7h0m0 39h0m.1-176.9h0m0 161.2h0m.1-13h0m.4-15.7h0m.1-88.7h0m.1 65h0m0 69h0m.1-76.1h0m.1 42.9h0m.1-55.6h0m0 27.9h0m.1-119.4h0m0 63.7h0m0 52.8h0m0 4.4h0m0 33.2h0m.3 12h0m.7-90.6h0m.3 70.1h0m.1-29h0m.1 43.9h0m.2-175.3h0m0 151.8h0m0 49h0m.5-95.4h0m.2-8.8h0m0 73.9h0m.1-34.7h0m.2 33.6h0m0 27h0m.1-1.2h0m0 4.9h0m.1-.4h0m.1-62.4h0m0 9h0m0 27.7h0m.3-17.4h0m0 32.8h0m.1-63.3h0m.1 50.3h0m.1-319h0m.2 241.1h0m0 86.3h0m.2-55.3h0m.2 50.2h0m0 1.9h0m.1-48.6h0m.2 68.2h0m.1-132.8h0m.1-108.2h0m.1 212.8h0m.2 23.9h0m.3-134.4h0m0 34.9h0m0 64.6h0m.1-44.2h0m0 68.9h0m.1-65.1h0m.1 42.6h0m0 15.1h0m.1-18h0m.1-11.5h0m0 19.4h0m.1-235.7h0m.1 126h0m.1 14.6h0m0 29.4h0m0 13.6h0m.1 10h0m0 71.4h0m.1-49h0m.1-68.6h0m0 42.5h0m0 61.6h0m.1-62.2h0m.2 72.8h0m.3 5.1h0m.3-1.9h0m.1-285.6h0m0 279.8h0m.1-149.6h0m0 82.6h0m0 54.4h0m0 10.8h0m0 4.9h0m.1-161.8h0m0 51.9h0m.3 65.6h0m.3-44.5h0m.1 85.7h0m.2-25h0m.1-10.2h0m.1 24.4h0m0 13.6h0m0 1.7h0m.1-75.3h0m0 23.9h0m.1-7.9h0m0 47.4h0m.1-93.5h0m0 17.9h0m0 88.7h0m.1-35.9h0m0 1.4h0m0 5.5h0m.1-125.2h0m0 129.4h0m.2-8.4h0m0 7.3h0m.1-11.6h0m0 27.5h0m.3 3.9h0m.1-118.3h0m0 49.8h0m0 9h0m0 46.7h0m.3-33.3h0m.1 11.1h0m.1 18.2h0m.6 8.2h0m0 15.7h0m.1-119.8h0m0 25.4h0m0 18h0m0 70.1h0m.3 2.5h0m.1-144.2h0m0 83.7h0m0 52.7h0m.1-12.6h0m0 5.9h0m.1-95h0m0 58.3h0m.1-16.2h0m.1-26.9h0m.2 29h0m.4-91.1h0m0 138.3h0m.3-74.8h0m0 49.1h0m0 15.3h0m.1-33.7h0m0 1.7h0m0 9.5h0m0 29.9h0m.2-78.2h0m.1 17.7h0m0 43.7h0m.2 31.9h0m.1-29.4h0m0 18h0m.3-30.6h0m0 18.8h0m0 24.4h0m.1-2h0m.1-110.2h0m.2 34.4h0m0 11.3h0m.2-85h0m.2 51.7h0m.1 77.9h0m.1 29.1h0m.1-160.4h0m0 71.4h0m.1 24.7h0m0 39.8h0m.2-4.2h0m.1-101.7h0m0 84.1h0m.1-22.3h0m0 12.7h0m0 7.6h0m0 25.5h0m.1-115h0m0 32h0m.2 22.3h0m.2-125.9h0m.2 94.8h0m0 24.3h0m.1 73.5h0m.2-64h0m0 41.7h0m.2-89.6h0m0 130.5h0m.3-62.4h0m.1-71.8h0m.1 15.4h0m0 106h0m.2-93h0m0 92.4h0m.1-61h0m0 27h0m.1 1.8h0m0 26.3h0m.2-8.1h0m0 21.2h0m.1-99.6h0m.1 91.7h0m.1-10.3h0m.1-2.8h0m.1 28.7h0m.1-136.7h0m0 54.8h0m.1 17.6h0m.2-80.6h0m.2 45.9h0m0 77.3h0m.3-63.3h0m0 21h0m.1 35.6h0m0 4.7h0m.1-9.7h0m0 5.5h0m.3-46.8h0m0 19.9h0m.1-148.4h0m0 117.1h0m.1 37.5h0m0 6.8h0m.1 40.1h0m.1-17.8h0m.2-13.3h0m0 28.7h0m.1-10h0m.1-11.6h0m.1-85.8h0m0 11.7h0m0 70.8h0m.2-120.5h0m.2 108.8h0m.1-29.7h0m.1 45.2h0m.1-5.1h0m.2-72.3h0m.1-19.2h0m0 57.5h0m0 63.2h0m.1-44.8h0m.2-20.4h0m.1 58.3h0m.1-33.8h0m.5-41.1h0m0 74.1h0m.1-123h0m0 126.1h0m.1-137.2h0m0 46.1h0m.1 38.4h0m.3-31h0m.1-19.7h0m0 107.7h0m.1-.3h0m.2-66.8h0m.2 37.4h0m.1-22.4h0m.1 42.4h0m.1-110.8h0m.1 104.5h0m.1-107.2h0m.1 57.1h0m.1 5.5h0m.1-17.4h0m0 40.6h0m.3-85.3h0m.1 1.2h0m0 91.5h0m.3-118.9h0m0 74.5h0m0 61.5h0m.1-71.7h0m.1-25.5h0m.1-94.2h0m0 123.7h0m0 50.4h0m0 4.1h0m.3-145.4h0m0 115.8h0m.1 46.5h0m0 6.2h0m.1-117.6h0m.2 122.5h0m.2-39.1h0m0 17.3h0m0 20.6h0m.1-109.1h0m0 59.5h0m.2-18.4h0m0 22h0m.2 43.6h0m.1-124.2h0m0 38.2h0m0 23.7h0m.1-.3h0m.3 37.7h0m0 9.9h0m0 6.6h0m.1-28.9h0m.1 11.2h0m.3-40.8h0m0 7.2h0m0 54.1h0m.1-105.8h0m0 66.8h0m0 23.6h0m.2-11.2h0m.1-103h0m0 93.7h0m.1-17.5h0m.1-13.7h0m.1-63.8h0m0 87.9h0m.1-45.9h0m0 23h0m.3-14.9h0m.1 4.4h0m.1 33h0m0 33.2h0m.1 .7h0m0 7.6h0m.2-27.3h0m.1 33h0m.1-43.6h0m.1 48.5h0m.1-46.8h0m.1 25.6h0m.1-38.9h0m0 50.9h0m0 9.3h0m.1-24.8h0m.2-31.2h0m.1 44.5h0m.1-122.5h0m0 94h0m.1 37.3h0m.1-2.2h0m.1-167.8h0m.1 22.5h0m.1 140.8h0m.1-69.6h0m.1 73.7h0m.4-72.7h0m0 3.9h0m0 8.3h0m0 30.7h0m0 28.1h0m.2-154h0m0 11.1h0m.3 79.9h0m.1 12.8h0m0 38.4h0m.1-121.7h0m0 92.3h0m.1 16.2h0m0 9.4h0m0 22h0m.1-151.6h0m0 80.1h0m0 34.6h0m.1-32.6h0m.1 11.2h0m.1 46.9h0m.1-85.5h0m0 4.3h0m0 68.2h0m0 15.8h0m.1-30.7h0m.2-249.5h0m.1 131.8h0m0 72.4h0m0 56.1h0m.2-107.5h0m0 76.1h0m.1 45.3h0m.1-116.3h0m.1-85.1h0m0 170.2h0m.1-69.8h0m.2-12.2h0m0 75.6h0m0 35.4h0m.2-59.5h0m0 30.8h0m.3-8.3h0m.1-147h0m0 40.9h0m0 101.7h0m.1 49.1h0m0 6.9h0m.2-52.2h0m0 10.5h0m.3-48.4h0m0 84.9h0m.1-13.4h0m.3-110.9h0m0 127.5h0m.1-122.9h0m.1 104.2h0m.1-28.3h0m0 52.2h0m.2-98.3h0m.2 48h0m.1-31.4h0m.1 39.7h0m0 27.3h0m0 7.8h0m.1-22h0m.1-137.1h0m0 73.2h0m.1-94.5h0m0 91.2h0m0 60.5h0m.3-28h0m0 30.3h0m.1-28.7h0m.3-36.9h0m.1-27.7h0m0 41.6h0m0 84.6h0m.2-94h0m.1-68.8h0m0 142.6h0m.1-128.5h0m.2 133.3h0m0 1.9h0m.1-60.5h0m.1-101.7h0m0 48.3h0m.2 56.8h0m0 21.3h0m.2-41.5h0m0 82.1h0m.3-81.1h0m.5 33.5h0m0 39.5h0m0 11.9h0m.2-7.3h0m.3-65.9h0m.1 37.4h0m.1-13.6h0m.1-33.7h0m.1 68.1h0m.1 13.3h0m.1-118h0m0 113.9h0m.1-119.9h0m.1-45.9h0m0 161.6h0m.1-70h0m.1-63.3h0m.1 87.2h0m0 56.1h0m.1-34.5h0m0 20.9h0m.2-58.4h0m.2 40.6h0m.1-53.2h0m0 80.8h0m.1-91.8h0m0 82.4h0m.1-57.5h0m0 61.6h0m.2-1.5h0m.2-56.7h0m0 21.6h0m0 7.6h0m0 41h0m.2-78.5h0m.2 34.3h0m0 10.6h0m.1-12.8h0m0 25.8h0m.2-82.4h0m.1 48.8h0m.2 42.7h0m0 11.1h0m.1-111.7h0m0 23.5h0m0 57.2h0m.1 25h0m0 1.2h0m.1-37.8h0m.1-37.5h0m0 82.7h0m.1-80.5h0m0 25.5h0m0 7.2h0m.1-41.2h0m0 38h0m0 4.9h0m.2-14.5h0m.1-89.6h0m0 23.6h0m0 107.9h0m.3-38.1h0m.1 3.8h0m0 37.7h0m.1-41.9h0m.1 26.9h0m0 27.9h0m.1-111.2h0m.1 89.8h0m.1-94h0m0 76.7h0m0 16.2h0m0 2h0m.1 3.4h0m.1-38.3h0m0 31.6h0m0 24h0m.1-97.4h0m.3-43.7h0m0 57.9h0m.2 62.3h0m.1-71.5h0m0 48.8h0m.2 24.5h0m.1-6h0m.1 9h0m.1-12.7h0m0 15.6h0m.2-10.4h0m.1-112.8h0m0 74.9h0m.2-58.6h0m.1 59.8h0m0 54.9h0m.3-267.8h0m0 268.9h0m.1-9.7h0m.2-5.8h0m.1 11.3h0m.1-54.2h0m0 3.6h0m.2-33.2h0m.1-29.4h0m.1 123.5h0m.1-130.2h0m0 107.3h0m.2-22.1h0m0 16h0m0 3.1h0m.2-119.6h0m0 57.2h0m.2-41.7h0m.1 74.4h0m0 40.2h0m0 1.2h0m.1-10.8h0m.1-16.5h0m.2-35.3h0m.1-79.4h0m.2 143.2h0m.2-47.9h0m0 11.3h0m.1-55.6h0m0 5.1h0m.3 65h0m0 19h0m.2-120.3h0m.5 25.7h0m0 41.4h0m0 24.2h0m.1-33.6h0m.1-62.3h0m.1 108h0m.3-65h0m.1 73.1h0m.1-95.7h0m0 23.6h0m0 23.3h0m0 47.9h0m.2-94.4h0m0 82.1h0m.2-46h0m.1 9.3h0m0 21.2h0m.1-16.7h0m.1-41.5h0m0 96.2h0m.1-82.4h0m.2 22.8h0m0 19.4h0m0 3.8h0m.2-136.4h0m0 161.6h0m.2-90.9h0m.1-103.4h0m.1 221h0m.1-63.9h0m.1 29.6h0m.4-31.2h0m.1 29.9h0m0 26.1h0m.1-140.4h0m0 .5h0m0 12.4h0m0 101.8h0m.1 11.6h0m.3 15.1h0m.3-34.4h0m0 30.8h0m.1-5.9h0m.1-20.3h0m.2-41.9h0m0 2.2h0m.2 27.5h0m0 25.8h0m.3-5.4h0m0 12h0m.1-1.6h0m.1-95.7h0m0 60.5h0m0 25h0m.2-40.9h0m.1 57.8h0m.2-69.5h0m.3 23.1h0m0 22.3h0m0 6.4h0m0 4.3h0m.3-159.6h0m0 160.3h0m0 12.1h0m.1-67.9h0m.1-8.5h0m.1 6.5h0m0 9.8h0m.1-10.6h0m0 60.3h0m.1-117.6h0m0 86.5h0m.1 39h0m.1 13.5h0m.1-115h0m0 34.5h0m0 31.6h0m.3 42.5h0m.1 5h0m.6-42.1h0m0 21.7h0m.1-14.7h0m.1 11.9h0m.1-17h0m.1 6h0m.3-81.7h0m0 67.6h0m0 12.1h0m0 36.3h0m.1-64.9h0m.1-12h0m.1 3.7h0m0 24.7h0m.1-12.1h0m0 3.6h0m.1-22.9h0m0 10.7h0m0 17.1h0m.1-55h0m0 87.5h0m.4-99.4h0m.1-2.2h0m.1 32.6h0m.1-133.2h0m0 23.6h0m.1 180.1h0m0 10.2h0m.2-36.3h0m0 45.8h0m.3-3.6h0m.2-45.1h0m0 19.9h0m.2 25.7h0m.1-156.3h0m.1 144.6h0m.2-41.7h0m.3-22.8h0m.1-82.1h0m0 90.2h0m0 72.5h0m.1-33.9h0m0 30.6h0m.3-102.5h0m.2 81.1h0m0 8.6h0m.1-24.7h0m.1 41.8h0m.1-126.3h0m0 8.8h0m.1 28.4h0m.2 35.1h0m.1 21.8h0m.3-53.1h0m0 79.3h0m.2-70.6h0m.2-57.7h0m0 46.7h0m0 38.6h0m.2 30.4h0m.1-9.4h0m.1-69.6h0m0 38.3h0m.2 58.6h0m.2-28.9h0m.1-27.4h0m.1-31.8h0m0 67.1h0m.1 11.1h0m.1-96.3h0m.3 77.1h0m.1-64.7h0m0 78.1h0m.1-36.1h0m0 24.1h0m.2-58.9h0m0 41.3h0m.3 27h0m.5-72.9h0m0 92.3h0m.4-210h0m0 101.1h0m0 46.9h0m.4 44.5h0m.2-37.5h0m.1-83.2h0m0 114.9h0m.1-19.8h0m0 14h0m.1 26h0m.1-173.6h0m0 160.1h0m0 7.4h0m.1-7.9h0m0 .1h0m.2 13.2h0m.6-172.6h0m.2 99.6h0m.1-3.4h0m.2-2h0m0 62.4h0m.1-22.2h0m.1-62.2h0m0 52.1h0m0 37.5h0m.2-100.8h0m0 67.6h0m.2-.8h0m0 16.9h0m.1-53.5h0m.1-29.7h0m.2 91.4h0m.1-131.2h0m.1 52.3h0m.1 67.8h0m0 11.9h0m.1-57.4h0m.1 7.1h0m.1 50h0m0 8.1h0m.1-95.9h0m0 41.3h0m0 29.6h0m.2 15h0m.1-65.5h0m0 43.1h0m.1-23.7h0m.1 39.5h0m0 30.9h0m.1-126.9h0m.1 112.7h0m.1-103.2h0m0 84.5h0m.2-29.2h0m0 33.5h0m.2 9.5h0m.2-56.4h0m.1-8.2h0m0 28.6h0m0 20.7h0m.1 26.1h0m.1-94.5h0m0 55.3h0m.1-58.9h0m.1 76.7h0m0 27.1h0m.1-91.7h0m0 36.4h0m.1 28.2h0m.2-184.5h0m0 203.7h0m.1-19.3h0m.1-17.3h0m.1 7.1h0m0 40.6h0m.3-23.5h0m.1-16.3h0m.1 26h0m0 .4h0m0 9.9h0m.2-39.9h0m0 16.4h0m.1-84.5h0m.2 13.4h0m.5-84.5h0m0 85h0m0 5.4h0m0 58.9h0m.1-12h0m0 30.7h0m0 13h0m.2-58.7h0m0 32.7h0m.2-14.9h0m0 16.5h0m.1-38.2h0m0 23.8h0m.1 3.8h0m0 24h0m0 5.8h0m.1-27.9h0m.2-43.3h0m0 18h0m.1 31.1h0m0 5.6h0m0 18.1h0m.1-52.6h0m0 57.5h0m.2-17.6h0m.2-60.3h0m.2 31.8h0m0 13.4h0m.2-11h0m0 2.7h0m.1 9.9h0m0 .7h0m.1-10.1h0m.3-1.8h0m.1 22.1h0m0 2.3h0m0 17.2h0m.1-9.5h0m.2-50.8h0m.1 17.5h0m0 24.5h0m.2-38.4h0m0 49.3h0m.1-107.3h0m0 27.6h0m.4-12.8h0m0 10.9h0m0 56.5h0m.5 15.9h0m.2-114.7h0m.1 115.4h0m.2-109.8h0m0 70.7h0m.3-191.7h0m.2 185.5h0m0 54.5h0m.2-104.3h0m.2 57.1h0m0 .3h0m.4-62.8h0m.1 79.7h0m0 22.6h0m.1-64.2h0m0 75.4h0m.2-133h0m0 49.2h0m0 75.2h0m.1-149.9h0m0 118.8h0m0 9.5h0m0 15.5h0m.1-92.6h0m.1 18.7h0m0 5.2h0m0 36.2h0m.4-43h0m0 60h0m.2-88.7h0m0 16.7h0m.1-85.9h0m.2-6.7h0m0 170.5h0m.2 22h0m.2-5.6h0m0 5h0m.1-19.8h0m0 9h0m.1-48.5h0m.1-56.7h0m0 74.3h0m0 3.2h0m0 15.6h0m.1-144.8h0m.1 107.6h0m.1 65.9h0m.2-27.8h0m.4-11.4h0m.1 26.7h0m.1-47.5h0m.1 25.8h0m.1-7.5h0m.1-27.2h0m0 12.5h0m.5-24.1h0m0 3.5h0m0 63.5h0m.1-148.4h0m.1 103h0m0 15.1h0m.1-30.9h0m.1-9.1h0m0 73.9h0m.1-39.7h0m0 2.8h0m0 42.6h0m.1-47.3h0m.1-94.9h0m0 26.5h0m.1 47.4h0m.1 57.3h0m.1-34.6h0m.2-26.4h0m.1-4.7h0m0 34.2h0m.1-34.7h0m0 10.8h0m.1 13.2h0m.1 24.8h0m0 2.9h0m.1-47h0m0 29.5h0m0 10.3h0m.1-73.6h0m0 36.1h0m0 37.5h0m.1-72.4h0m.2 73.6h0m.2-11.2h0m0 20.8h0m.1-89.3h0m0 111.4h0m.1-106.4h0m0 48h0m0 53.4h0m.3-78.6h0m.1 84.6h0m.1-61.4h0m.2 30h0m.1-10.6h0m.1-88.1h0m0 21.9h0m.1 91.1h0m.2 14.4h0m.1-77.8h0m.1 36.2h0m.1-29.8h0m0 20.8h0m.1 2.9h0m.2 12.6h0m.2-66.5h0m0 15.5h0m0 85.5h0m.2-85.1h0m0 41.3h0m0 24.2h0m0 2.2h0m.3-75.8h0m.2 96.9h0m.1-129.9h0m0 68.2h0m.3-25.5h0m.1 77.4h0m.2-23.2h0m.3-5.3h0m.2-72.4h0m0 96.9h0m.2-117.8h0m0 7.3h0m.1 73.1h0m0 51.4h0m.1-18.7h0m.1-175.7h0m0 146.7h0m.1-26.8h0m0 27.8h0m.1-39.4h0m.1 36.5h0m0 11.1h0m0 3h0m.2-29.2h0m0 38.6h0m0 18.8h0m.2-85h0m0 40.6h0m0 47.6h0m.6-84.8h0m0 59.1h0m0 25.4h0m.5-130.9h0m0 72.9h0m.4 33h0m.2-41h0m.1 28.8h0m0 14.2h0m.2-89.9h0m0 83.3h0m.1-125.8h0m0 132.5h0m.1-108.9h0m.1 102.4h0m0 37.4h0m.1-42.2h0m.1-16.1h0m.1-5.6h0m.2-15.3h0m0 9.2h0m.2-54.1h0m0 58.5h0m0 64.2h0m.1-219.3h0m0 9.5h0m.1 81.1h0m0 94h0m.5-80h0m0 49.6h0m.1 4.1h0m.2 59.7h0m.1-73.2h0m.1 10.2h0m0 34.7h0m.1-29.5h0m0 49.1h0m.3-2.9h0m.1-83.3h0m.2-5.2h0m0 38.9h0m0 9.9h0m0 30.1h0m.2-12.5h0m.1 27.7h0m.2-28.5h0m0 14.1h0m.2-9.9h0m0 24.4h0m.1-3.1h0m.1-.5h0m.1-72.1h0m.2 38.6h0m0 34.2h0m.1-128.1h0m0 43.2h0m.1 46.8h0m0 6.2h0m.3-59.9h0m.1 97.2h0m.1-163.5h0m0 144.8h0m.1-48.4h0m.1 17.4h0m0 54.2h0m.1-70.1h0m0 4.1h0m.1 32.6h0m.2-20h0m.1 15.3h0m.2-98.4h0m.1 14.8h0m0 29.5h0m0 48.5h0m.2-61.2h0m0 55.2h0m0 13.1h0m.2-85.1h0m0 27.1h0m.2 70.5h0m0 15.8h0m.2 3.7h0m.1-89.7h0m.2 84.6h0m.1-7.3h0m.1-65.5h0m.4 43.9h0m.1-24.9h0m.1-19.2h0m.1 33.4h0m.2-48.1h0m0 24.1h0m.1 28.4h0m0 19.3h0m.2-20.8h0m.1 39.2h0m0 5.5h0m.1-19.1h0m0 .1h0m0 18.2h0m.1-69.1h0m.1 50.4h0m.1-24.1h0m.3 35.5h0m.2-141.3h0m.1 115.7h0m0 25h0m.1-30.8h0m0 30.2h0m.1-109.3h0m0 54.6h0m.1-71.1h0m.1-2.3h0m0 70.7h0m.2 51h0m0 2h0m.1-40.4h0m0 47.7h0m.1-4.1h0m.2-33.8h0m0 13.7h0m0 23h0m.1-24.1h0m0 5.4h0m.1-15.5h0m.1-86.5h0m0 64.1h0m0 16.7h0m0 9.8h0m0 26.3h0m0 7.9h0m.1-74.5h0m0 19.6h0m.1 40.3h0m.1-85.2h0m0 5.8h0m0 47.4h0m0 2.4h0m.1-35.9h0m.2-72.1h0m0 74.8h0m0 29.9h0m.2-224.6h0m.3 229.1h0m.1-34.8h0m.2 68.5h0m0 1.6h0m.1-122.1h0m0 62h0m0 24h0m.2 5.9h0m.1 5h0m0 24.1h0m.3-77.7h0m0 21.3h0m.1-13h0m0 37.7h0m0 13.7h0m.1-67.4h0m0 56.2h0m.1-14.7h0m0 .6h0m.1 2.3h0m.2-40.6h0m.1-24.3h0m0 95.3h0m.1-34.4h0m0 45.3h0m.2-25.4h0m.1-55.3h0m0 60.1h0m.1-43.1h0m.1-13.1h0m0 76.1h0m0 12h0m.2-223.3h0m0 27.5h0m0 50.6h0m0 91.8h0m.1 35.7h0m0 .5h0m0 5.6h0m.1-91.1h0m.1 68.6h0m.1-60.3h0m.1 71.5h0m.1 12.1h0m.4-44.9h0m.1 49.1h0m.1-31.9h0m.4-4.7h0m.2-48h0m0 65.6h0m0 3.6h0m.3-25.3h0m.1 48.3h0m.1-94.5h0m.1 72.6h0m.2-28.5h0m0 36.9h0m0 16.5h0m.1-23.8h0m.1 15.4h0m.2-59.3h0m0 37.8h0m.1-124.2h0m.2 55.6h0m0 41.2h0m.1-120.1h0m0 92.2h0m0 33.5h0m.1-35.2h0m0 23.8h0m.1 56.5h0m.1-54.5h0m.4 9.2h0m.1-.9h0m.1 40.6h0m.1-127h0m.1 98.7h0m.1-34.5h0m0 32.7h0m.1-74.6h0m0 58.9h0m.1-34.2h0m.1-31.2h0m0 74.4h0m.2-10.9h0m.1-13.8h0m.2-37.9h0m0 93.6h0m.1-62.5h0m0 30.7h0m0 26.6h0m.2-15.7h0m.1-17.5h0m.1-68.4h0m0 17.7h0m.2-12.2h0m0 68.3h0m0 37.9h0m.4-48.5h0m.1 41.7h0m.1-122.5h0m0 96.1h0m.2-33.8h0m.1 73.8h0m.1-18.3h0m.2-49.1h0m0 64.2h0m.1 7h0m0 .6h0m.1-23.8h0m.1-74.7h0m.1 20.8h0m0 11.7h0m0 65.1h0m.1-67h0m.1 8.1h0m0 53.5h0m.1-67.3h0m0 38.8h0m.1-87.4h0m0 116.1h0m.1 3.3h0m0 2.9h0m.1-188.6h0m.1 65.1h0m.3 111.9h0m.1-33.8h0m0 34.8h0m.1-4.5h0m.1-80.9h0m.1 1.6h0m0 49.8h0m0 40.6h0m.3-32.9h0m0 29.4h0m.5-99.4h0m0 86.7h0m0 4.1h0m.1-24.8h0m.2-.1h0m.1-98.6h0m0 70.7h0m.1-44.9h0m0 66.3h0m.1-61.2h0m0 93.3h0m.1-54h0m.1 17.8h0m0 22h0m.1-31.7h0m0 1.7h0m0 23.1h0m0 4.4h0m.1-41.4h0m0 73.2h0m.1-46.4h0m.3 39.1h0m.3-4h0m.3-28.1h0m.1 22.1h0m0 10h0m.1-55h0m.1 61.8h0m.3-67.2h0m.2-15.4h0m0 19.6h0m0 18.3h0m0 16.4h0m.1-6.1h0m0 7.5h0m0 12.8h0m.1-14.1h0m.3-17.9h0m.2 27.3h0m.1-25.5h0m.5-52.3h0m.3-4.9h0m0 35h0m0 29.4h0m.1-50.7h0m.1 16.7h0m.2-49.3h0m.2 98.5h0m.2-3.4h0m.1-24.1h0m0 20.4h0m0 3h0m.1 2.3h0m.1-6.7h0m.1-25.2h0m0 7h0m.1-35.1h0m0 60.5h0m.1 7.5h0m.1-203.9h0m0 151.1h0m.5-32.6h0m0 60.8h0m.2 3.9h0m.3-118.2h0m0 156h0m.1-89.8h0m.2 90.7h0m.3-49.9h0m.1 27.8h0m0 15h0m.2-37h0m.1-10.2h0m0 11.5h0m.1-51.7h0m0 21.5h0m.1-45.6h0m0 30.8h0m.1-22h0m.1 86.3h0m.2 18.3h0m.1-31.3h0m.3 1h0m0 30.6h0m.1-26.9h0m.1-11.6h0m0 33h0m.2-80.4h0m.1 79.6h0m0 .1h0m.2-66.1h0m0 8.5h0m.1-130.8h0m0 173.9h0m.1-69.4h0m.1 80.3h0m.1-54.6h0m.2 58.2h0m.1-31.1h0m0 28.5h0m.1-42.1h0m.2 51.4h0m.2-67.3h0m.1 21.1h0m.1 11h0m.1 31.5h0m0 6.6h0m.1-105.8h0m0 81.6h0m.3-71.7h0m.2 .1h0m.4 4.8h0m0 83.1h0m.1-103.4h0m.1 91.1h0m.1-63.4h0m.1 55.1h0m0 10h0m0 19.9h0m.1-5.4h0m.1-48.5h0m0 54h0m.1-179.2h0m0 101.1h0m.1 63h0m.1-44.2h0m0 49.1h0m.2-72.2h0m0 67.3h0m.1-9.3h0m.1-92.4h0m0 98.8h0m.3-14.8h0m.3-105h0m0 107.9h0m.1-61.3h0m.1 79.6h0m.1-62h0m.4 54.6h0m.1-19.9h0m.1 8.7h0m.3-19.6h0m0 9.6h0m.1-3h0m.1-43.6h0m0 55.4h0m.1-58.6h0m.1 55h0m.1 0h0m.1-8.2h0m.1-67.6h0m.1 71.5h0m0 29.7h0m.2-31.8h0m0 21.8h0m.1-72.6h0m0 48.6h0m.2 20.9h0m.1-119.5h0m0 32.6h0m.1 26.9h0m0 74h0m.1-33.1h0m.1 3.1h0m.1-97h0m0 117.4h0m.2-68.2h0m0 72.2h0m.1-16.7h0m.5-30.2h0m.1-30.8h0m0 39.7h0m.3-2.9h0m.1-36.2h0m0 78.9h0m.1-11.5h0m.1 24.3h0m.1-91.7h0m0 38.1h0m0 15.4h0m.1-30.5h0m0 9.7h0m.2 44.5h0m.1-13.7h0m.1-40.9h0m.2 37.2h0m.1-9.9h0m.4-63.1h0m.1-30h0m.1 128.3h0m.1-193.6h0m0 162.5h0m.1-21h0m0 36.9h0m.1-35.8h0m.1 39h0m.1-46.1h0m0 9.7h0m.1 48.6h0m.1-4.1h0m.2-59.6h0m.2-24.1h0m.1 41.4h0m.1 5.1h0m0 17.4h0m.1-45.1h0m0 48.3h0m.1-6.8h0m.2-5.8h0m0 3.5h0m0 6h0m.4 8.7h0m0 13h0m.1-27.1h0m0 30.8h0m.1-42.3h0m.1-46.9h0m.2-25.1h0m.2 75.1h0m0 19.6h0m.1-16h0m.1-182.1h0m0 191.5h0m.2-5.6h0m.2-132.6h0m0 141.2h0m.1 8.8h0m.2-49.9h0m.1 10.5h0m.2-2h0m.2-5h0m.1-36.3h0m.1 91.1h0m.1-96.2h0m0 80.5h0m.1-74.7h0m.2 24h0m0 48.2h0m.3-86.9h0m0 42.6h0m.1 34.1h0m0 22.7h0m.4-23.3h0m.3 15.5h0m0 16h0m.2-118.3h0m.2-120h0m0 139.1h0m.3 69.2h0m.1-114.3h0m.3 65.3h0m0 79.5h0m.1-62.4h0m.2 63h0m.2-93.1h0m0 2.6h0m0 82.3h0m.2-39.1h0m.1 15.5h0m.1-132.4h0m0 120.7h0m.1 46.3h0m.1-19.5h0m.1-17.1h0m.1-26.6h0m0 3h0m.1-67h0m.1 44.5h0m.1-45.3h0m0 32.3h0m0 85.7h0m.2 1.9h0m.1-22.3h0m.1-51.7h0m.3 82.3h0m.3-126.7h0m.4 106.2h0m.3-76h0m.2-98.6h0m0 172h0m.2-99.3h0m0 55.7h0m.1-7.8h0m0 53.7h0m.1-50.7h0m0 65.3h0m.2-92.1h0m.2 65.8h0m0 6.1h0m0 3h0m0 14.7h0m.1-33h0m0 36h0m.1-72.2h0m.1 60.4h0m.3-94.9h0m.1 32.9h0m.2 67.1h0m.1-36.2h0m.1 5.1h0m0 14h0m.1-8.5h0m0 2h0m.3-118h0m0 148.5h0m.2-128.1h0m0 66.6h0m0 26.5h0m0 3.4h0m.3-140h0m0 45.6h0m0 37h0m.3 44.8h0m0 24.2h0m.3-22.7h0m.2-6.3h0m0 43.5h0m.2-38.4h0m0 3.9h0m.2-4.2h0m.1 3.5h0m.1 8.2h0m.2-6h0m.2-13.7h0m0 36h0m.2-61.1h0m0 27.6h0m0 45.2h0m0 4.8h0m0 9.2h0m.2-28.8h0m.3-49.7h0m.1 3.5h0m.1 49h0m.3 16.6h0m.3-115.9h0m.1 108.6h0m.1-103h0m.1 103.8h0m.1 3.5h0m.1-89.3h0m0 100.6h0m.1-55.7h0m0 52.6h0m.3-77h0m.1 65.9h0m0 3h0m.1 6.2h0m.1-84.7h0m.2-6.8h0m0 72.7h0m.1-23h0m0 34.4h0m.1-78.3h0m.2 90.5h0m.1-61.3h0m.1-39h0m0 68.5h0m.1-64.4h0m.2 83.3h0m0 .5h0m.2-35.9h0m0 43.7h0m.1-44.9h0m.1-28.7h0m0 60.8h0m.1-57.6h0m.1-93.5h0m.1 132.9h0m.1 36.1h0m.1-174.7h0m0 106.7h0m0 66.8h0m.1-41.8h0m.1-171h0m.2 181.1h0m.1-29.5h0m.2 6.8h0m.1-29.2h0m0 22h0m.2-91.1h0m.1 126.6h0m0 24.5h0m.8-32.2h0m.2-48.4h0m0 19.3h0m.1-18h0m0 57.2h0m0 15h0m.1-149.3h0m.1-86.4h0m0 213.5h0m.1-34.1h0m.1-9.8h0m.4 66.7h0m.2-125.5h0m0 53.4h0m.1-75.7h0m0 45.9h0m0 88.6h0m.1 8h0m0 6.9h0m.2 3.5h0m.1-38.5h0m.1-3.4h0m.2 26.7h0m.1-44.2h0m0 9.9h0m.1 42.5h0m.1-104.4h0m0 42.3h0m0 70.6h0m.3-127.6h0m.1 87.5h0m.1-40.1h0m0 48.6h0m.1 15.9h0m.1-36.6h0m0 49.3h0m0 .2h0m.1-32.3h0m0 13.3h0m0 4.5h0m0 17h0m.1-113.2h0m.1 104.8h0m.1-52.7h0m0 15.3h0m.1-76.7h0m0 126.2h0m.1-120.4h0m0 46.5h0m.2-51.3h0m0 58.4h0m0 8.7h0m0 36.1h0m.2-18.7h0m.1-16.1h0m0 38.5h0m0 .7h0m.4-20.8h0m.2-46.4h0m0 11.8h0m0 18.9h0m0 43.4h0m0 3.8h0m.4-83.8h0m0 67.3h0m.1-53.7h0m0 2.6h0m0 55.3h0m.1 11.5h0m.1-115h0m0 18.8h0m0 97h0m.1-23.7h0m0 .4h0m.1-33h0m.1-13.2h0m.1 37.9h0m.5-47.4h0m.1 78.4h0m.1-12.4h0m0 8.5h0m.1-39.4h0m.4-47.1h0m0 55.8h0m.1 9.3h0m0 8.1h0m.5 22.5h0m.1-22.1h0m.2 7.5h0m0 14h0m.1-2h0m.1-80.6h0m.2-42.1h0m0 28.5h0m0 75.4h0m.1-111.9h0m.1 55.2h0m.1-108.8h0m0 158h0m.1 14.6h0m.1-48.9h0m0 57.9h0m.1-123.7h0m0 25.4h0m0 22h0m.2 23.3h0m0 55.7h0m.1-134.4h0m0 83.5h0m0 18.6h0m0 12.5h0m0 7.3h0m.2-29.5h0m.1-21.6h0m.2-54.3h0m0 84.3h0m.1-39.3h0m0 18h0m.2 9.9h0m.1 35.6h0m.1-23.7h0m.1-65.7h0m.1 45.8h0m.1-57.6h0m0 55.7h0m.1-46.3h0m0 77.1h0m0 10.9h0m.1-42.1h0m.1-55.6h0m.1 83.4h0m.2-32.3h0m.1 14.2h0m0 11.5h0m.1 34.4h0m.1-122.9h0m0 45.1h0m0 50.5h0m0 9.5h0m.3 11h0m.2-31.7h0m0 40.1h0m.2-1.2h0m.2-32.7h0m0 36.4h0m.2-210.5h0m0 180.3h0m.1 23.8h0m.2-13.2h0m0 6.2h0m0 .3h0m.1-71.5h0m0 60.8h0m.1-14.6h0m0 16.6h0m.1-49.2h0m0 15.7h0m0 33.2h0m.1-51.2h0m0 8.1h0m.1-87.3h0m.1 130.8h0m0 17.3h0m0 2.2h0m.1-33h0m.1-23.1h0m0 7.8h0m.1-44.9h0m0 60h0m0 17.3h0m.1 18h0m.2-61.5h0m0 11.1h0m0 49.5h0m.1-3.8h0m.1-63.9h0m.1-104.9h0m.2 112.1h0m0 40.2h0m.1-49.6h0m.1 10.1h0m.6-15.6h0m.1-58.8h0m0 112.4h0m.1-45h0m0 11.8h0m0 29.6h0m0 16.3h0m.1 3.6h0m.1-132.2h0m0 43.7h0m.2-24.9h0m0 105.8h0m0 .4h0m.1-155.9h0m0 125.4h0m.1-65.7h0m.1 61.2h0m.1-26.9h0m.1 21.6h0m0 10.6h0m.2-.6h0m0 15.5h0m0 14.1h0m.1-16.3h0m.1-97.2h0m0 46.7h0m.2 82h0m.2-154.7h0m.1 130.9h0m0 17.4h0m0 4.4h0m.2-80.1h0m.8 56.9h0m0 15.7h0m.2 6.9h0m.1-161.5h0m0 128.1h0m.7-12.4h0m.1-17h0m0 9.9h0m0 22h0m.1 5.1h0m0 25h0m.2-67h0m0 17h0m.1-10.5h0m.1 44.3h0m0 14.6h0m.3-93.9h0m0 20.5h0m0 8.1h0m0 30.5h0m.1-94.3h0m.1 25h0m.1 65.1h0m0 13.6h0m0 23.9h0m.1-69.9h0m.1 9.8h0m.2-55.6h0m0 78.8h0m0 40.7h0m.3-160.5h0m0 154.3h0m.1-87.9h0m0 45.2h0m0 6.7h0m0 34.9h0m.1-43.4h0m0 5.5h0m.1-130.4h0m0 167.1h0m.2-90.9h0m0 94.4h0m.1-99.5h0m.3 13.4h0m.2 42.7h0m.4-3.8h0m.1-60.4h0m.1 59.4h0m.1 52.3h0m.3-48.3h0m0 3.5h0m0 1.2h0m0 1.5h0m0 18.9h0m.1 7.1h0m.2-28.6h0m.1-1.9h0m.2 36.9h0m.1-73.5h0m.3-56h0m0 82.8h0m.1 46h0m.3-25h0m0 23.8h0m.1-31h0m.1-13.7h0m0 57.1h0m.1-31.7h0m.1-87h0m0 57.7h0m.1-.3h0m.1-54.1h0m.1 85.6h0m.1-92.1h0m0 79.3h0m.1-51.2h0m0 53.2h0m0 11.7h0m.1 21.9h0m.1-58.5h0m0 18.3h0m.2 31.9h0m.2-37.5h0m0 16.9h0m.1-85.8h0m0 73.2h0m0 7h0m.1-66h0m0 89h0m.2-97.2h0m0 6.1h0m0 83.1h0m.1-94.2h0m0 117h0m.1-18.9h0m0 24h0m.2-118.3h0m0 2.9h0m0 69.8h0m.1 40.8h0m.2-11.7h0m.1-37.9h0m.2 30.8h0m.4 .4h0m0 8.1h0m.1-15.1h0m.2-65.4h0m.1 87h0m.1-95.5h0m0 101.6h0m.1-40.6h0m.1 31.1h0m.2-.6h0m.1-76.2h0m.2 67.4h0m0 17.9h0m.1-25.9h0m0 21.9h0m.1-41.1h0m0 18.5h0m.3 5.2h0m.2-57.9h0m0 15.6h0m0 22.6h0m.1-144.9h0m0 181.6h0m.1-65.8h0m0 21.6h0m.1-43.4h0m.1 .1h0m.1 23h0m0 46.9h0m.1 9.4h0m.2-35.3h0m.1 27.6h0m.2-9.7h0m0 5.2h0m0 28.1h0m.1-58.9h0m.2 48.1h0m.1-120.5h0m0 49.3h0m.1 69.1h0m.1-87.1h0m.1-47.6h0m.3 85.5h0m0 34.2h0m0 21.7h0m.2-4.5h0m.1-60.6h0m.6 .8h0m0 2.4h0m0 69.2h0m.1-3.6h0m.2 .2h0m.1-7.5h0m.1-75.9h0m.1 55.5h0m.6-90.5h0m0 98.6h0m.1 8.2h0m.1-37.2h0m0 5.7h0m0 33.2h0m.1-44.9h0m.1-46.6h0m0 40.7h0m.3-13.5h0m.1-17.7h0m.2 1.2h0m.2 6.2h0m.1 64.1h0m.1-36.3h0m.1 4.3h0m0 39.3h0m.1-131.4h0m0 33.8h0m0 88h0m.2-51.9h0m.1-101.6h0m.2 123h0m0 17.3h0m0 4h0m.1-63.2h0m.3 43h0m.1 40.8h0m.2-68.1h0m0 14.5h0m0 23h0m.1-100h0m.1 67.8h0m0 76.8h0m.1-22.8h0m0 21.2h0m.2-50.5h0m0 40h0m.1-115.2h0m.1 127.8h0m.1-70.7h0m.1 67.7h0m.2-161.6h0m0 57.7h0m0 94.3h0m.1-94.7h0m.1 71.4h0m.2 19.3h0m.1-21.2h0m0 35.7h0m.1-67.9h0m.1 23.8h0m0 26.3h0m.3-60.1h0m0 60.1h0m.1-82.3h0m0 49.5h0m.1-29h0m.1 77h0m.1-86.9h0m0 79.8h0m.1-19.9h0m.2-80.8h0m0 16.7h0m0 87.3h0m.3-45.4h0m.1 15.7h0m.3-8.4h0m0 14.8h0m.1-3.3h0m0 19.2h0m.1-51.6h0m.1-51.3h0m0 35.5h0m.1 39.2h0m.3-24h0m.3-24.5h0m0 25.4h0m.2-33.5h0m.1 99.4h0m.2-110.7h0m.1 51.1h0m0 30.2h0m0 29.7h0m.1-208.1h0m.1 157.3h0m.1 3.3h0m.1-77.8h0m0 15.4h0m0 73.8h0m.2 17.4h0m.1-144.8h0m0 138.5h0m.7-11.2h0m.3 10.2h0m.1-39.7h0m.1-80.6h0m0 83.9h0m0 45.6h0m.1-99.7h0m.1-37h0m0 78.3h0m0 53.6h0m0 22.5h0m.1-40.8h0m.1 18h0m.1-49.8h0m0 41.8h0m.1-30.2h0m.2-89h0m.3 84.9h0m.1 62h0m.5-37.4h0m.2-12h0m0 53.1h0m.2-74.9h0m0 23.6h0m.2 6.4h0m.3-88.8h0m.2 26.3h0m.2 9.5h0m.1 44.6h0m0 12.3h0m0 19.2h0m0 4.9h0m0 3.2h0m.1 9.7h0m.2-85.1h0m0 43.3h0m.1-79.5h0m0 10.3h0m.1 93.3h0m0 9.4h0m.1-154h0m0 11.7h0m0 53.8h0m.2 51.9h0m.2-96.4h0m0 126.5h0m.1 1.3h0m.2-102.9h0m0 16.1h0m0 44.8h0m0 1.7h0m0 30.1h0m.1-102.9h0m.1 85h0m.1-48.3h0m0 54.6h0m.1-25.2h0m.1 56.9h0m.1-77.1h0m.1 75.8h0m.1-45.9h0m.1 1.3h0m.2 7.1h0m.2 36.6h0m.3-23.1h0m0 11.1h0m.2-53.8h0m0 4.9h0m0 59.4h0m.2-73.7h0m.1 52.9h0m.1-3h0m0 28.4h0m.3-75.4h0m0 4.7h0m0 24.4h0m0 10.6h0m0 18.9h0m.2 16.6h0m.1-195.7h0m0 77.2h0m0 122.9h0m.1-71.5h0m.1 19.6h0m.1 29.5h0m.1-128h0m0 74.5h0m.1 53.6h0m0 1.9h0m.2-42.4h0m.1 48.3h0m.1-155.7h0m.2 56.7h0m.1 86.1h0m0 8.7h0m.1-52.8h0m.1-46.7h0m0 89.6h0m.1-44.1h0m.1 3.3h0m.1 30.8h0m0 28.4h0m.1-97.6h0m.1 108.3h0m.1-33.1h0m.1-100.7h0m0 113.2h0m.1 6.7h0m.2-123.6h0m.1 103h0m.1 28.3h0m.1-29.8h0m.2 11h0m.1-30.8h0m0 22.2h0m0 26.3h0m0 5.2h0m0 3.1h0m.1-170.3h0m0 87.7h0m.1 33.2h0m0 29.4h0m.1-40.5h0m.1-34.7h0m0 21.1h0m.1-27.1h0m.2 86.6h0m.4-128.7h0m0 120.5h0m.1-45.7h0m0 24.9h0m.2-52.3h0m.1 40.3h0m0 48.7h0m.2-137.1h0m.1 52.4h0m.3 3h0m0 89.7h0m.1-13.7h0m.1-82.1h0m0 42.4h0m.1 24.8h0m.1-39.8h0m.1 48.6h0m.1-76.1h0m0 42.8h0m.5-45.4h0m0 41.3h0m0 .9h0m0 8.8h0m.1 25.5h0m.3-31.1h0m0 20.7h0m.6 9.2h0m0 4.6h0m0 6.7h0m0 7.1h0m.3-91.8h0m0 52.8h0m0 16.6h0m.1-92.4h0m0 82.4h0m0 28h0m.2-55.6h0m0 10.7h0m0 14.7h0m0 14.8h0m.1-5.9h0m.2-127.1h0m0 111h0m0 19.5h0m.1 11.4h0m.1-122.1h0m0 96.4h0m.2-64.3h0m.4 103.4h0m.1-17.8h0m0 15.6h0m.1-34h0m0 6.2h0m.1-48.5h0m0 25.7h0m.3 26.6h0m.2-39.3h0m.2 58.6h0m.1-31.1h0m.1-65.7h0m.1-9.9h0m.1 31.7h0m.1 61.8h0m0 4.5h0m.4 10.4h0m.1-65.5h0m.5 42.9h0m.1-12.4h0m0 23.4h0m0 5.9h0m.1 2.1h0m0 2.5h0m.2 3.5h0m.1-32.5h0m.2-16.2h0m.1 5.2h0m.3-19.8h0m.1-68.2h0m.2 108.2h0m.1-57.9h0m0 14.6h0m.1 11h0m.2 21.8h0m.1-177h0m0 141.9h0m.1 55.9h0m.2-11.4h0m0 10.8h0m0 16.9h0m.1-90.9h0m.1 20.7h0m.1-55.2h0m.1 7.9h0m.1 112.4h0m.1-74.8h0m0 17.5h0m0 6.6h0m0 1.2h0m0 48.2h0m.1-124.6h0m.1-33.6h0m0 117.2h0m0 1.3h0m.1-56.1h0m0 26h0m0 44.1h0m.1-98.7h0m.1 64.7h0m.1 34.2h0m.1-38.2h0m.2 63.5h0m0 8.2h0m.1-37.6h0m.1 12.2h0m0 21.5h0m.4-9.6h0m.2 10.1h0m.1-72.5h0m0 21.2h0m.3 25.7h0m.1 6.4h0m.2-71.5h0m.1 21.4h0m.2 69.3h0m.1-14.7h0m.1-22.8h0m.6-133.6h0m0 81.8h0m.2-77.1h0m.2 169.5h0m.1-54.3h0m0 2h0m.2 3.3h0m.1-55.7h0m0 78.9h0m.1-92.3h0m0 88.3h0m.1-114.1h0m0 120h0m0 23.3h0m.1-135.1h0m.4 29.1h0m0 7.9h0m0 73.8h0m.1-44.2h0m0 54.2h0m.1-84.7h0m.1-18.5h0m.3 30.8h0m.1-121.9h0m.1 191.7h0m.1-77.5h0m.1 34.4h0m.1 37.6h0m.2-18.7h0m.1-21.2h0m.1-17.2h0m0 31.8h0m0 36.9h0m.3-73.1h0m.3-19.5h0m.4 51.6h0m0 28.1h0m.1-22.6h0m.1-25.2h0m0 61.9h0m0 10.2h0m.1-92.5h0m0 29.8h0m.1-20.9h0m0 20h0m0 26.1h0m.2 11.9h0m0 11.8h0m.1 1.6h0m.1-111.3h0m0 64.1h0m.1 19.9h0m.1-13.2h0m.1 11.5h0m.2-83.9h0m0 21h0m.3 48.4h0m.3 42.4h0m.3-92.4h0m0 29.5h0m0 58.6h0m.1-67.6h0m0 1h0m0 1.6h0m0 27.7h0m.1-110h0m.1 130.9h0m0 22.6h0m.2-59.4h0m0 40.9h0m0 8.8h0m.1-47h0m.2-30.7h0m.1 39.4h0m0 35.9h0m.4 12.3h0m.2-72.8h0m0 56.1h0m.1-.7h0m.4-25.3h0m.1 24.5h0m.2-80.4h0m0 97.2h0m.2-80h0m.2 56h0m0 31.9h0m.1-44h0m.1-.6h0m0 10.4h0m.5 29.5h0m.2-82h0m0 3.5h0m0 57.4h0m0 15.8h0m.1-4.6h0m.2-85.6h0m0 46h0m.1-2.1h0m.1-190h0m.2 248.5h0m.2-156.3h0m.1 33.8h0m.2 38.9h0m.1 82.7h0m.1-70h0m.1-14.9h0m0 26.6h0m0 2.3h0m0 8.3h0m.1 26.7h0m0 23.4h0m.1-154.5h0m.1 23.4h0m0 55.6h0m0 34.7h0m0 37h0m.3-145.3h0m0 39.9h0m0 71.7h0m.1 22.9h0m.1-58.4h0m.1 32.8h0m.1 36.2h0m.1-77h0m.2-105h0m0 144.6h0m.5 33.4h0m.2-113.1h0m.1-13.5h0m0 97h0m.1-60.7h0m0 .2h0m.1 16.8h0m.2 80.8h0m.2-37.6h0m.1-5.3h0m.3-.9h0m.1-16.3h0m0 58.2h0m.1-36.3h0m.3 36.9h0m.3-4h0m.1-46.2h0m0 15.8h0m.2 18.8h0m.5 1.9h0m.2 9.9h0m.1-2.9h0m.1-184.2h0m.4-37.8h0m0 158.3h0m.1-18.7h0m.2 8.3h0m0 80.3h0m.4-54.5h0m0 12.7h0m.1-73.3h0m0 113.8h0m.3-24.9h0m0 7.8h0m.1 13.4h0m.1-105.2h0m.2 45.2h0m.1 67.2h0m.1-129.1h0m.2 64.4h0m0 6.7h0m.2-73.5h0m0 93.6h0m.1-12.2h0m.1-26.9h0m.1 34.1h0m.1 19.1h0m.2 12.2h0m.1-42.4h0m0 44.6h0m.2-24.3h0m.1 7.6h0m.1-68.5h0m0 56.9h0m.6-39.7h0m0 51.7h0m0 5.4h0m.1-19.6h0m.1 40.7h0m.1-81.5h0m0 43.4h0m.2-14.8h0m.2 17.7h0m.2-26.8h0m.1-29.1h0m0 44.2h0m.2 39.8h0m.1-98h0m0 95.8h0m.1-78h0m0 80.7h0m.1-62h0m0 28h0m.1-12.1h0m.3 42h0m.1 2h0m.1-1.8h0m.2-6.8h0m.5-6.7h0m.1-60.8h0m.1 24.3h0m.1-.3h0m0 41.5h0m.1-34.1h0m.1-104.5h0m0 71.1h0m.1-35.8h0m.2 71h0m.1-38.3h0m0 13.7h0m0 16.7h0m.1 53.3h0m.1-74.5h0m.2 76.9h0m.2-45.9h0m.4-57.1h0m.1-8h0m0 29.8h0m0 7.5h0m0 53.8h0m.1-50.8h0m0 3.2h0m0 33.8h0m.1 18.8h0m.2-93.2h0m0 57.1h0m.4-102.2h0m.5 146.4h0m0 10.3h0m.3-121.4h0m.1 65.4h0m.1 29.5h0m.1-54.1h0m.1 59.6h0m0 15.1h0m.7-128.9h0m0 4.5h0m0 79.5h0m.4 1.9h0m.2-145.1h0m0 36.3h0m0 80.8h0m0 45.8h0m.1-45h0m0 39.3h0m.2-17.5h0m.1 14.5h0m.1-33.8h0m0 41.7h0m.1-71.6h0m0 45h0m0 35.4h0m0 14.5h0m.2-85.3h0m.4-21.5h0m.1 58.3h0m0 54.8h0m.2 1.2h0m.1-17.6h0m0 14.5h0m.1-86.1h0m.1 5.2h0m0 62.4h0m0 22.4h0m.5-41.9h0m0 38h0m.2-17.6h0m.1 21.9h0m.2-128.2h0m.1 46h0m0 46.5h0m.1 19.3h0m.2-7.4h0m.1-42.6h0m0 33.6h0m0 26.1h0m.2-22.4h0m0 14.6h0m.1-102.3h0m.1 12.7h0m.1 26.5h0m0 72.8h0m.1-74.3h0m0 29.9h0m.1-70.9h0m.1 59.9h0m.1-72.2h0m0 87h0m.1 10.2h0m.2 13.4h0m.1-139.7h0m0 80.8h0m.1-20.8h0m0 62h0m.3-8.2h0m0 6.9h0m.2 14.6h0m.3 25.1h0m.1-38.3h0m0 15.1h0m.4-13.1h0m.2 38.3h0m.2-93.6h0m.1 10.3h0m.1-12.5h0m.1 56.8h0m0 20.3h0m.1-44.6h0m0 3h0m.2-40.9h0m0 79.1h0m.1 20h0m.1-132h0m.3 59h0m0 47.3h0m0 2.6h0m.1-34.8h0m0 42h0m0 10.2h0m.1-47.6h0m0 10.5h0m0 13.7h0m.3-6.5h0m.1-87.4h0m.1 100.8h0m.2-83.1h0m.3-10h0m0 47.2h0m0 59.7h0m.1-70.3h0m.1 14.5h0m.2 22.9h0m0 14.4h0m.2-111.5h0m0 129.7h0m.2-106.9h0m0 97.5h0m0 3h0m.3-6.1h0m.2-86.6h0m.1 16.7h0m0 93.2h0m.3-188.4h0m.1 56.1h0m.2 54.1h0m.2-65.8h0m.1 105.3h0m0 14.4h0m.4-49.2h0m0 49.7h0m.1 11.8h0m.1-48.2h0m.4-58.8h0m.1-22h0m0 65.7h0m.1 39.2h0m0 3.9h0m.3 2.1h0m0 13.5h0m.1 3.2h0m.2-65.6h0m.1 37.7h0m.1 15.2h0m.4-118h0m.1 112.4h0m.1-22.7h0m.1 47h0m.1-29.4h0m.3-100h0m.2 110.4h0m0 24.4h0m.4-39.8h0m0 30.8h0m.1-136.5h0m.3 134h0m.5-26.8h0m0 19.5h0m.1-15h0m.1-17.1h0m0 52.1h0m.1-68.8h0m0 16.3h0m0 28.8h0m.1-23h0m.1-88.6h0m.6 29.6h0m0 50.9h0m0 27.6h0m.1-22.8h0m0 40.3h0m.1-93.5h0m.1 76.9h0m.4-38.9h0m.1 14.5h0m.1 9.8h0m.1-59.8h0m.2 71.1h0m.1-115.8h0m.1 93.5h0m0 36h0m.1-105.4h0m0 63.8h0m.2-12h0m.2 51.8h0m.2-87.3h0m0 17.4h0m.2 29.2h0m.2 8.9h0m0 9.3h0m0 39.8h0m.2-46h0m.1-5.9h0m.1-43.9h0m.1 38.3h0m0 19h0m0 21.6h0m.1-25.3h0m.1-13.5h0m.1 1.7h0m.1-24.7h0m0 46.5h0m0 28.6h0m.1 2.6h0m.1-57.1h0m.2-29.1h0m.1 6.1h0m0 39.4h0m0 33.1h0m.3-95.5h0m0 28.1h0m.1 70.8h0m.3-55.8h0m.5 16.4h0m.1-43.7h0m0 37.2h0m.1-80.6h0m0 129h0m.1-98.8h0m.2 35.7h0m.1 6.1h0m.1-61.1h0m.1 48.9h0m0 19.9h0m.2-46.5h0m.5-22.9h0m.2-23.1h0m0 128.7h0m0 3.6h0m.3-95.9h0m0 38.7h0m.5 44.9h0m.4 3h0m.2-14.8h0m.1-3.4h0m0 30.6h0m.2-87.6h0m.3 31.4h0m0 22.9h0m.5-26.1h0m.1-12.9h0m0 82.5h0m.2-99.8h0m0 53.7h0m0 27.6h0m.2-133.8h0m0 113.6h0m0 16.6h0m.1 .6h0m.1-191.4h0m0 152.2h0m.1-11.4h0m.1 40.9h0m.1 .8h0m.6 12.2h0m.1-.5h0m.2-64.2h0m0 19.7h0m.1 50.3h0m.1 2h0m.2-95.3h0m0 88.3h0m.1-4.6h0m.5-87.8h0m.2 38.4h0m0 49.5h0m0 3.8h0m.2-14.5h0m.2-5.5h0m0 28.2h0m.3 6.3h0m.4 2h0m.1-12.2h0m.4-77.8h0m0 61.1h0m.1-107h0m.1 61.9h0m.6 72.9h0m.1-9h0m.3-4.5h0m.4-68.7h0m.1 21.7h0m0 34.4h0m.1 14.7h0m0 13.6h0m.1-5h0m.1-88.7h0m0 87.4h0m.3-85.5h0m.1 50.3h0m0 19.4h0m.1-68.2h0m0 90.5h0m.1-113.5h0m.1-5.6h0m.3 105.4h0m.2-24h0m.2-102.7h0m0 136.1h0m.2-4.2h0m.1-60.9h0m0 10.2h0m.1 54h0m.2-3.4h0m0 6.7h0m.1-44.9h0m.2-14.6h0m.4 42.2h0m.1 1.9h0m.1-3.9h0m.1-82.6h0m.1 34.5h0m0 1.5h0m.1-15.7h0m.1 35.4h0m.1-75.2h0m0 110.4h0m.4-40.1h0m0 37h0m.2-92.4h0m0 83.9h0m.6-18h0m.2-52.1h0m.1 45.8h0m0 16.3h0m.1-120.4h0m0 75.9h0m0 36.2h0m.2-125.9h0m0 129.9h0m.2-7.9h0m.1 9h0m.1-43.9h0m0 59.8h0m.1-49h0m.2 16.2h0m0 4.9h0m.2-99.7h0m.3 116.8h0m.2-56.3h0m.1 34.2h0m0 31.2h0m.1-10.1h0m.1-79.3h0m0 111.9h0m.1-66.7h0m0 65h0m.1-34.2h0m0 13.8h0m.1-54.2h0m.1 16.1h0m0 52.5h0m.1-6.3h0m.1-34.2h0m.2-14.7h0m0 30.4h0m.3-55.9h0m0 83.8h0m.4-33.1h0m0 10.1h0m.1-38.4h0m.2-11.8h0m.3 23.5h0m0 31.8h0m.1-45.7h0m0 3.7h0m.1 14.1h0m.2 11.3h0m.3-23.2h0m.3-48.8h0m0 77.6h0m.1-43.4h0m0 9.6h0m.4 33h0m.2-51.9h0m0 81.9h0m.1-34.6h0m.1 26.1h0m.1-95.8h0m0 72.6h0m.1-73.6h0m0 66.8h0m.1-35.8h0m.2 27h0m.2 11.8h0m.1-45.7h0m.3 43.9h0m.1-37h0m0 1.1h0m.2 4.5h0m.1 20.7h0m.2-23.6h0m0 73.6h0m.1-116.4h0m.1 15.6h0m0 97.7h0m.1-59.4h0m.1 11.5h0m0 4.4h0m0 15.9h0m.6-31.5h0m0 32h0m.1-26.9h0m0 51.6h0m.2-88.1h0m0 37.7h0m.1 .1h0m.4 13.9h0m0 37.1h0m.3-46.6h0m.1 5.5h0m0 43h0m.2-56.5h0m.1-49.2h0m0 27.6h0m0 68h0m.1-9.6h0m.1-35.9h0m.1-11.7h0m0 61.3h0m.2-102.5h0m.1 72.5h0m.2 3.9h0m.1 3.3h0m.1 27.4h0m.4-40.1h0m.2-31h0m.1 31.4h0m0 41.9h0m.4-15.8h0m.1-81.5h0m0 62.8h0m0 3.6h0m.2-65.9h0m.3 60.4h0m.2 4.9h0m.2 18.2h0m.1-8.6h0m.2 23.9h0m.1-5.5h0m0 6.4h0m.3-74.8h0m0 46.2h0m0 7.3h0m.1-48.5h0m.2-40.3h0m.2 62.3h0m.1 20.8h0m.1-143.4h0m.1 102.5h0m.2-5.8h0m0 .7h0m0 9.9h0m0 52.3h0m.1-61.6h0m.1 51.9h0m.1-29.8h0m.3-10h0m0 21.9h0m0 30.2h0m.2-66.8h0m0 21.3h0m.3 33.3h0m.1-75.7h0m0 80h0m0 10h0m.3-4.9h0m0 2.8h0m.1-42.8h0m.1-38.2h0m.2-11.3h0m.1 22.3h0m0 13.9h0m.1-1.9h0m0 47.1h0m0 20.6h0m.1-84.5h0m.1 56.6h0m.1 16.3h0m.2-11.9h0m0 2.6h0m.2-11.7h0m.1 20h0m.2-40.8h0m.2 10.6h0m.1 16h0m.1-43.1h0m.1 58.6h0m.2-105.2h0m.3 80.1h0m.1-49.5h0m.1 74h0m.1-34.4h0m0 39.8h0m.2-67.9h0m.1 45.2h0m.3-8.2h0m0 16.9h0m.1-70.1h0m0 44h0m.1-33.1h0m0 20.5h0m.1-29.1h0m.1 87.1h0m.3-74.9h0m0 31h0m0 33.3h0m.2-32h0m0 37.7h0m.2-71.1h0m0 22.9h0m.4-18h0m.1 7.6h0m0 4.6h0m0 23.8h0m0 8.7h0m.1-96.2h0m0 80h0m0 40.2h0m0 1.7h0m.3-29.3h0m0 2.4h0m.4-5.3h0m.2 22.4h0m.3-21.4h0m0 14.6h0m0 1.4h0m.1-25h0m.1-22.5h0m.2 49.5h0m.1-57.4h0m.2-1.5h0m.2 15.1h0m0 28.1h0m.1-35.5h0m.1 11.8h0m.2-9.5h0m0 39.2h0m.1 6.2h0m.1-89.2h0m.1 60h0m.1-22.4h0m.6 46.6h0m.1-90.2h0m0 42.2h0m.1 19.5h0m0 44.8h0m.1-162.6h0m.2 139.3h0m.2-49.7h0m0 42.4h0m0 15.8h0m.1-25.3h0m.1-15.6h0m.4-73.1h0m.5-26.4h0m0 126.4h0m.3-47.5h0m.2 68.1h0m.5-21.6h0m0 10.1h0m.1 13.7h0m.1-1.3h0m.4-10.8h0m.1-43.6h0m0 62.3h0m.4-34.7h0m.4-26.8h0m.1 41.9h0m.2-32.6h0m.1-29.7h0m0 69.7h0m0 8.1h0m0 6.2h0m.3-35h0m.2-46.5h0m0 28.6h0m.2-32.3h0m0 71.6h0m.2-8.6h0m.1-4.9h0m0 14.4h0m.3-127.5h0m.1 110.5h0m.1-57.9h0m0 40h0m.3 20.6h0m0 .6h0m.1-14.5h0m0 6.4h0m0 31.4h0m.2-81.7h0m0 40.5h0m.1-36.7h0m.1-33.9h0m.4 46.7h0m0 17h0m0 16.8h0m.1 9.4h0m.2-28.9h0m.1-65.1h0m0 117.6h0m.4-74.1h0m.1 54.3h0m.1-31.2h0m.1 32.1h0m.5-21.2h0m.3-21.8h0m.1 2.1h0m.1 39.3h0m.4 1.3h0m.1 8.3h0m.4 13.7h0m.1-6.7h0m.2-35.8h0m.1-84.8h0m0 85.2h0m.2-.5h0m.2-42.4h0m0 51.4h0m.1-11.9h0m0 14.7h0m.1 17.9h0m.1-18.6h0m0 17.6h0m0 3.4h0m.3-59.6h0m.2 43.5h0m.1-67.9h0m.3 39.3h0m.1-8h0m0 43h0m.3-10.1h0m.1 25.7h0m.1-12.9h0m.3-39.8h0m0 53.6h0m.1-32.9h0m.2 39.5h0m.1-11.2h0m.1-6.2h0m.1-42.5h0m.3 51.2h0m.5-17.3h0m.1-11.9h0m.1-17.3h0m.1 3.3h0m0 43.5h0m.1-62.6h0m0 11.5h0m.1 8.4h0m.2 17.7h0m.1 19.7h0m0 5.2h0m.1-8.8h0m.1-49.2h0m.1-23.4h0m0 89.8h0m.4-59.1h0m0 20.2h0m.3-26.1h0m.1-19.5h0m.4-72.8h0m0 99.3h0m0 24.2h0m0 27.7h0m.2-13.2h0m.2-99.8h0m0 117.1h0m0 .9h0m.1-72.3h0m0 37.9h0m.1-18h0m.2 28.3h0m.1 13.8h0m.1-8h0m.1-65.2h0m0 27.8h0m0 28.9h0m.1 1.4h0m.1 20.2h0m.1-66.8h0m0 6.2h0m0 54.2h0m.1-25.9h0m0 22.6h0m.2-8.5h0m.3 13.3h0m.1-50.6h0m.5-3.4h0m.1-81.9h0m0 79.4h0m.2-71.7h0m.2 112.5h0m.1-32.7h0m0 34.3h0m.5 2.6h0m.4-45.2h0m0 43.3h0m.5-84.1h0m.2 67.4h0m.1 3.6h0m.1-113.7h0m0 50.6h0m.3 37.7h0m.1-20.8h0m.5 82.3h0m.3-33.6h0m.2-51h0m.2-61.3h0m0 94.9h0m.1 3.7h0m.1-91.2h0m0 115.1h0m.2-26.1h0m.1 6.2h0m.3-24.6h0m.1-22.9h0m.3 31.4h0m.1-48.1h0m.1 10.4h0m.2 91.8h0m.1-12.1h0m.5 16.6h0m.6-18.6h0m.1-28.7h0m0 2.2h0m0 40.4h0m0 5.8h0m.4-14.7h0m.3-80.9h0m0 65.4h0m.4 16.6h0m.2-8.5h0m.1 22.3h0m.1-53.5h0m.1 15.6h0m.5 4.9h0m.2 34.2h0m.4-27.7h0m.3-10.5h0m.4 4.5h0m0 1.5h0m.1-56h0m.1-26.1h0m.2 44.2h0m.1-9.9h0m.2 46.7h0m.5-16h0m.2 21.3h0m.2-9.1h0m0 28.6h0m.1-25h0m0 19.7h0m.1-83h0m.2 28.8h0m0 12h0m.1 8.8h0m0 29h0m.1 9.7h0m.2-59.8h0m.1 43.3h0m.2-18.2h0m0 15.9h0m.3 .2h0m.5-75.4h0m0 63.2h0m.1-62.9h0m0 50.5h0m.2 19.5h0m0 26.9h0m.1-130.6h0m.5 128.2h0m.1-23.4h0m.1-14.7h0m.1-16.4h0m.3 40.1h0m.1-15.5h0m.1-49.7h0m0 43h0m.1-22h0m0 17.2h0m.1-12.6h0m0 3.8h0m0 22.6h0m.2-35.7h0m0 52.7h0m1-5.6h0m0 15.6h0m.1-90.1h0m.1 53.3h0m0 44.8h0m.2-110.5h0m.3 41.1h0m.4 10.7h0m0 49h0m.1-5h0m.1-63.4h0m.2 .3h0m.1 24.3h0m.1-15h0m.1 26h0m.2-40.9h0m.1-75.8h0m0 32.8h0m.4 61.7h0m.1-29.4h0m0 18h0m.2 59.2h0m0 2.2h0m.1-116.8h0m.6 46.1h0m.1 11.8h0m.1 2.4h0m0 45.5h0m.1 25h0m.3-41.2h0m.1-21.5h0m.1-11.6h0m.1 52.2h0m.6-14h0m.1-38.3h0m.1-36.9h0m.3 63h0m.1 40.7h0m.3-1.6h0m0 2.9h0m.1-35.8h0m0 16.4h0m.3 15.2h0m.1-15.7h0m.1-19.8h0m.2-16.4h0m0 12.8h0m0 7.9h0m.4 7.1h0m.1 8.9h0m.1-122.9h0m0 26.7h0m0 108h0m.1-45.8h0m.1 37.8h0m.1 7.3h0m.2-9.9h0m.2-25h0m0 26h0m0 1.7h0m.1-8.6h0m.1-14h0m0 26.5h0m0 6.3h0m.2-75.8h0m0 42.9h0m0 2.8h0m0 9.6h0m.3-34.6h0m0 32.6h0m0 12.5h0m.2-20.2h0m.2-66h0m0 13h0m.1 80.8h0m.2-31.2h0m.1-28.6h0m.1-13.9h0m0 15.7h0m.3 13.7h0m0 26.6h0m.1-25.3h0m.1 42.7h0m.2 11.1h0m.1-129.8h0m0 88.9h0m.1 45.2h0m.3-17.7h0m.2-.7h0m.1 5.8h0m.5-34.7h0m.1-4.2h0m0 22.5h0m.4-14.6h0m.3-24.5h0m.3 60.3h0m.1-57.5h0m.2 8.4h0m0 22.6h0m.3-91.6h0m.1 48.9h0m.2 5.1h0m.1 39.7h0m0 1.8h0m.1 26.3h0m.2-42.8h0m0 22.7h0m.3-66.8h0m0 74.3h0m.2 7.7h0m.2-15.1h0m.3 3.1h0m.1-87.2h0m0 65.9h0m.3-113.4h0m.1 7.3h0m0 92h0m.2 21.7h0m.2-39.1h0m0 14.9h0m.1 36.4h0m.3-2.8h0m.1-56.8h0m.2-42.1h0m0 14.7h0m0 48h0m.2 39.6h0m.1-34.2h0m0 30.8h0m.1 20.7h0m.2-4.3h0m.1-23.3h0m.2-70.8h0m.1 37.5h0m0 23.8h0m0 29.4h0m.1-6.5h0m.1-32.9h0m.5 43.6h0m.5-10.1h0m.1-35.6h0m0 47.8h0m.2-92.1h0m.1 31.7h0m0 31.3h0m.2-10.5h0m.3-44.6h0m.1-9.2h0m.2 47.1h0m.1 4.7h0m.1 17.7h0m.1-8.9h0m.1-4h0m0 8.5h0m0 25.9h0m.4 7.1h0m.1-59.6h0m0 40.6h0m.3-5.3h0m0 11.6h0m.6-18.3h0m0 3.9h0m.1-46.2h0m0 62.2h0m.1-11.5h0m.4-12.2h0m0 24.3h0m.4-43.9h0m0 24.6h0m.2 10.1h0m.3 18.9h0m.2-19.1h0m.2-124.8h0m0 115.6h0m.1 28.8h0m.1-29.5h0m.3-16.5h0m0 29.8h0m.1-41.5h0m.1 57.4h0m.2-48.8h0m0 28.1h0m0 2.6h0m.4-52.1h0m.1 50.4h0m.1-83.8h0m0 93.7h0m.2-50.9h0m.1 44.9h0m.1 12.1h0m.2-9.7h0m.1-44.6h0m.1 46.5h0m.1-60.8h0m0 56.4h0m.1-51.2h0m0 36h0m0 28.6h0m.5-129.7h0m.1 126.3h0m.4-.8h0m.6-36.5h0m0 31.3h0m.2-45h0m.1 31.4h0m.1-28.4h0m.2-3.2h0m.3 40.1h0m.2-41.6h0m.1 35.5h0m.5-12.7h0m0 6.2h0m0 25.3h0m.1-30.2h0m.2-30.3h0m0 4.9h0m.2-38.3h0m.1 26.3h0m0 62.6h0m.1-39.3h0m0 1.3h0m0 40.2h0m.2-82.8h0m.4 23.9h0m.1 64.1h0m.2-19.3h0m.1-11.5h0m0 24.3h0m0 .7h0m.1 1.6h0m.1-73.5h0m.2 17.1h0m.2 10.7h0m.4 35.8h0m.4-6.8h0m.2-23h0m0 26.5h0m.2-41.3h0m0 37.4h0m.1-2.9h0m.4 9h0m.1-41.8h0m0 27.5h0m.2-50.5h0m.3 50.5h0m.5 3.8h0m.5-40.7h0m.1-29.4h0m.1 14.2h0m0 27.4h0m.1 49.2h0m.2-31.6h0m.1-170.5h0m0 103.5h0m0 89.9h0m.1-26h0m0 37.8h0m.1-130.5h0m.2 27.4h0m.1 88.3h0m.1 10.5h0m.1-37.4h0m.1 13.7h0m.1-146.9h0m.1 130.8h0m0 39.3h0m.1-64.2h0m0 55.3h0m.2-22.1h0m0 .6h0m.3 14.8h0m.1 26.4h0m.1-24.8h0m0 2.1h0m.2-19h0m.2 24.1h0m.1-15.1h0m0 32.7h0m.3-89.4h0m.1 27.1h0m0 24.3h0m0 16.8h0m.3 6.3h0m.1-7.5h0m.1-194.5h0m.2 84.5h0m.1 40.2h0m.1-25.5h0m.1 27.6h0m.2 60.3h0m.5-71h0m0 .9h0m.3 80.6h0m.1 12.6h0m.2-67.4h0m0 14.2h0m0 37h0m.2-47.9h0m0 63.9h0m.3-27.3h0m.1 15h0m.1-.4h0m.1-14.7h0m.4-54.2h0m.1-6h0m.3 49.6h0m.2 13h0m0 28.7h0m.2-51.8h0m0 1.1h0m0 44.9h0m.2-118h0m0 40.4h0m.6 28.6h0m.1 13.1h0m0 41h0m.1-83.4h0m.4 4.8h0m.1 10.6h0m.5-25.3h0m0 31.2h0m.2-10h0m.1 72.9h0m.1-93.2h0m.5 51.3h0m.3-8.9h0m.1 28.6h0m.2-52.6h0m.1 71.1h0m.2-51.2h0m0 18.5h0m.4 22.5h0m.4-73.8h0m.1 67.4h0m.1-36.9h0m0 35.3h0m.1-7.6h0m.1-5.9h0m0 6.4h0m.1-12.8h0m.4-7.4h0m.5-70.5h0m0 91.9h0m.3-70.8h0m.1 89.7h0m.1-42.2h0m.2-69.8h0m0 97.7h0m.2 22.7h0m.4-37.1h0m.4 36.7h0m.3-119.2h0m.1 107.2h0m.1-62.3h0m0 66.1h0m.1-9.6h0m0 14.7h0m.3-99.1h0m.1 23.8h0m.1 38.7h0m.3-10h0m.6-73h0m.1 116.5h0m.1-36.9h0m.2-37.2h0m.3 20.6h0m0 43.1h0m0 3.9h0m.5-17.7h0m.2-41.3h0m.6 50.5h0m.1-25.7h0m.1 27.7h0m0 .4h0m.1 4.6h0m.1 9.2h0m.1-20.2h0m.1-5.7h0m.5-24.2h0m.3-28h0m0 54.1h0m.2-122.6h0m.3 73.3h0m0 20h0m.2 6.4h0m.1 37.6h0m1-54.3h0m0 27.5h0m.2-65.8h0m0 53.9h0m.2 2.2h0m0 36.3h0m.1-21.4h0m.8 5.1h0m.1-45.4h0m.1 29.6h0m.1 48.4h0m.1-12.6h0m.1-48.5h0m0 3.2h0m.1-56.4h0m.1 8.7h0m0 72.5h0m.1 3.3h0m.3 7.8h0m.1-51.2h0m.1 33.2h0m.3 25.5h0m0 9.5h0m.4-19.8h0m.2-7.8h0m.1-62.1h0m0 79.6h0m.1-77.5h0m.1 14.9h0m.2 23.4h0m.1 41.9h0m.1-95.7h0m.1 32.1h0m.1 37.2h0m0 20.2h0m0 14.3h0m.1 4.4h0m.2-16.2h0m.1-53.4h0m0 57.5h0m.1-38.8h0m0 1.2h0m.1 8.9h0m0 19.5h0m.2-17.4h0m0 39h0m.1-67.6h0m0 53.3h0m.1-31.7h0m0 27.8h0m.3-16.2h0m.1-30.7h0m.2 0h0m.3 16.4h0m.4-9h0m.1 22.4h0m.1-18.8h0m.2 32.4h0m0 22.9h0m.3-50.9h0m.1 35.2h0m.1-13.7h0m.1-8.7h0m.1-87.7h0m0 102.1h0m.1 .9h0m.1-46.1h0m.1-60.3h0m0 65.6h0m0 28h0m0 29h0m.1-4h0m0 5.7h0m.1-19h0m.2-40.2h0m0 21.4h0m.7 16.8h0m.2 11.7h0m.1-18h0m.6-53.9h0m.4 49.4h0m.1 16.9h0m.1-68.3h0m.1-2.7h0m.1-27.2h0m.1 70.6h0m0 25.2h0m.1 3.5h0m.1-33.8h0m.5-4.3h0m0 34.1h0m0 17.1h0m.1-80.3h0m0 82.6h0m.3-30.3h0m.3-37h0m.1 16.6h0m0 44.9h0m.2-11.5h0m.1-114.3h0m0 79.4h0m0 22.5h0m.1 24.2h0m.4 4.8h0m.2-67.7h0m0 62.7h0m.2-12.6h0m.1-21h0m0 37.5h0m.2-77.1h0m.1-1.2h0m0 48.7h0m0 23.8h0m.1-32.7h0m.3-5.3h0m0 26.2h0m0 12.9h0m.2 .4h0m.2 7.3h0m.3-1.6h0m.1-59.4h0m.1 17.6h0m.1 18.4h0m.1-49.3h0m.3 48.8h0m.1-31.8h0m.5-11.2h0m.5-36h0m.1 20.7h0m0 7.8h0m0 17.2h0m.2 1.5h0m.1-26.5h0m.1 31.8h0m.5 22.8h0m0 7.7h0m.1-46.5h0m.3-17.1h0m.2 65.8h0m.1 20.4h0m.1-30.3h0m.1-73.7h0m.1 37.2h0m.3 48.3h0m.1-6.6h0m0 15.5h0m.3-120.5h0m.4-14.5h0m.1 113.7h0m.2 20.7h0m.1-23.9h0m.2-80.5h0m.1 48.4h0m.5 17.9h0m.4 2.2h0m0 22.7h0m0 3.1h0m0 .3h0m.1-32.7h0m0 18.4h0m.1-39.8h0m.3 41.5h0m.2 22.9h0m.2-23.8h0m.3 3.6h0m.2-33.5h0m.1 19h0m.2-12.9h0m0 48.2h0m.1-110h0m0 113.2h0m.3-23.2h0m0 24.3h0m.4-16.2h0m.4-60.4h0m0 66h0m.2 16.4h0m.1-80.1h0m0 55.6h0m.1-41.3h0m0 22.9h0m.2-83.7h0m0 38.1h0m.6-2.3h0m0 47.5h0m.1 42.9h0m.2-156.3h0m0 73.7h0m0 43.9h0m0 39.9h0m.1-76.8h0m0 53.8h0m.1-7h0m0 1.8h0m.1-14.7h0m.1 15.9h0m.1-34.3h0m.1-20.9h0m0 74.8h0m0 1.8h0m.2-45.4h0m.1 50h0m.1-30.6h0m.1-68.6h0m0 84.4h0m.1-43.5h0m.4 48.3h0m.1 0h0m.1-61.3h0m.2 68.9h0m.1-91.4h0m.2 29.7h0m.2 56.8h0m.4-52.2h0m0 3.9h0m.1 34.1h0m.1-83.9h0m0 97.8h0m.1-5.8h0m.2-34.5h0m.1 8.1h0m.1 1.8h0m0 1.7h0m0 29.9h0m0 5.4h0m.1-11.4h0m.2-100.8h0m0 93.7h0m.2-5.2h0m.1-46.2h0m0 17.8h0m0 43.8h0m.1-4.7h0m0 9.5h0m.3-4.1h0m.2-6.4h0m.1-54.2h0m.1-84.7h0m.1 75.3h0m.2 26.2h0m.4-24.7h0m0 36.2h0m.2-34.6h0m.2 63.9h0m.1 12.4h0m.2-78.9h0m.3 33.2h0m.2-71.4h0m.2 .2h0m.1 51.9h0m.1 51.2h0m.5-116.9h0m.4 104.1h0m0 3.8h0m.1-15.7h0m0 16.6h0m.1-100h0m0 107.2h0m.1-63.9h0m.1 18.5h0m.1 17h0m0 13.4h0m.2-78.6h0m.1 38h0m0 21.3h0m.1-2.7h0m.2 17.7h0m.1-7.2h0m0 24.5h0m.1-49.1h0m0 39.2h0m.2-76h0m.1 51.7h0m.2 32.4h0m.5 9.2h0m0 3.6h0m.1-13h0m.1-31.2h0m0 27.7h0m.2 22.3h0m.1-29.3h0m.2 10.4h0m.2-80h0m.2 26.8h0m.1 69.9h0m.3-13.7h0m.1-43.6h0m.1-9.6h0m.2-19.7h0m.1 51h0m.1-59.6h0m0 19.3h0m0 27h0m0 19.2h0m0 27h0m.1-4.3h0m.1-83.8h0m0 16.6h0m.1-17.6h0m.3 83.8h0m.2-48.8h0m.1 17.2h0m.2-57.5h0m0 21.5h0m0 65.5h0m.5-23.9h0m.3 16.9h0m.2-46.7h0m.3 12.6h0m.1 13.6h0m0 32.3h0m.1-81.6h0m0 44.7h0m.1-74.2h0m.1 87.3h0m.1 21.1h0m.2 1.3h0m.2-5.7h0m.1-79.5h0m0 39.2h0m.3-20.2h0m.1 32.9h0m.2-76.3h0m.1 99.6h0m.2-70.4h0m0 41.8h0m.2-82.2h0m0 81.4h0m.4 2.5h0m0 24.1h0m0 13.6h0m0 5.7h0m.1-35.2h0m.1-59.7h0m0 80.4h0m.2-85h0m.1 47h0m.1 30.1h0m.7-51.8h0m0 45.6h0m.1-82.5h0m.3 59.2h0m.4 14.1h0m.2 4.7h0m.1 5.1h0m.2-71.2h0m0 48.5h0m0 34.5h0m.1-94.6h0m0 53.6h0m.3 47h0m.2-31.2h0m0 7.8h0m0 18h0m.5-73.5h0m0 52.6h0m0 28.2h0m.3-1.6h0m.3-41.3h0m0 47.3h0m.3-13.4h0m.1-30.3h0m.4-17.2h0m.1 12.7h0m0 2.1h0m0 33.9h0m.2-27.3h0m.3 25.5h0m.2-93.9h0m.3 65.6h0m0 45.8h0m.1-54.4h0m0 52.8h0m.1-57.6h0m0 46.8h0m.1-5.1h0m0 12.9h0m.4-59.5h0m0 18.7h0m0 37.5h0m.1-41.7h0m0 18.5h0m0 6.9h0m0 6.3h0m.1-62.9h0m.5-24.8h0m.1-6.4h0m.6 88h0m0 .4h0m.1-16.9h0m.1 19.2h0m.1 23.8h0m.6-13.5h0m.2-77.6h0m.3 81.4h0m.1-81h0m0 88.9h0m.1-76.3h0m.2 .6h0m.1 69.9h0m.1-103.1h0m.1 51.9h0m0 26.6h0m.3-38.5h0m0 13h0m.5-43.1h0m.2 94.5h0m.1-19.6h0m0 25.8h0m.1-50.1h0m0 18.9h0m0 14.6h0m.1 16.5h0m.1-121.3h0m.1 56.7h0m.1 23.6h0m.1-65.7h0m0 39.3h0m0 60.8h0m.2-71.2h0m.3 48.2h0m.1 26.9h0m.1-2.3h0m.2-12.8h0m.1-45.4h0m.1 44.3h0m.1-14h0m0 11.4h0m0 12.3h0m.2 8.3h0m.2-14.6h0m.1-65.4h0m.2-5.5h0m.2 77.7h0m.3-33.4h0m.1 31.5h0m.1-72.6h0m.3 79.3h0m.1-34.8h0m0 27.4h0m.1 10.9h0m.1-103.7h0m0 6.3h0m0 38.8h0m0 30.1h0m.1 28.3h0m.4-54.9h0m0 5.5h0m0 16.7h0m.6-71.8h0m.2 91.9h0m.1-12.3h0m.1-16.7h0m.2-24.4h0m.2 2.5h0m.3 39.9h0m0 9.8h0m.2-53h0m.1 19.2h0m.2-29.1h0m.2 8.7h0m.1-28.9h0m.1 88.3h0m.4-73.1h0m.1 74.5h0m.1-15.8h0m.1-44.8h0m0 .5h0m.3 25.7h0m.2-76.2h0m.1 87.2h0m.1-42.4h0m0 32.4h0m0 4.8h0m.1 24.6h0m.5-20.3h0m.1-33h0m0 55.4h0m.2-4.1h0m.1-37.4h0m0 18h0m0 10.9h0m.6-9h0m.1-5.5h0m.2-66.6h0m0 66.5h0m0 2.3h0m0 6.1h0m.1-32.1h0m.2-2.3h0m0 23.1h0m.1-4.9h0m.1 38.4h0m.6-98.5h0m.1 101.5h0m.1-22.7h0m.1 20.7h0m.2-71.5h0m0 66.6h0m.1-46.9h0m.1 34.5h0m.1-17.5h0m.1 39.4h0m.2-110.8h0m.1 75.5h0m.6-.8h0m.5-35.1h0m.1-32.6h0m0 87.2h0m.1-60.4h0m0 46.2h0m.5-94.7h0m0 121.2h0m.1-84.4h0m0 46.5h0m.3-67.9h0m.2 62h0m.1-84.5h0m.1 41.6h0m.1 57.9h0m0 7.2h0m.2-66.8h0m0 59.2h0m.1 17h0m.3-109.2h0m.1 106.4h0m.2-10h0m0 21.9h0m.1-6.9h0m.1-99.9h0m0 23.5h0m0 53.7h0m0 37.8h0m.1-87.3h0m.2 13.8h0m0 12.8h0m0 54.1h0m.2-21.9h0m.1-53.4h0m0 26.2h0m.1-10.9h0m.1-83h0m0 102.8h0m.3-49.4h0m0 72.2h0m.5-46.1h0m.2-107.1h0m.1 50.7h0m.2 89.5h0m.2 32.4h0m.1 .7h0m.1-45.7h0m.1-45.4h0m.1 27.2h0m.1 66.5h0m.1-51.7h0m.1 53.3h0m.2-10.6h0m.1-50.7h0m.1 3.3h0m0 4.7h0m.2 43.1h0m.1-49.1h0m.1 2.1h0m.1 6.6h0m.5-9.3h0m.3 12.1h0m.1-53.5h0m.4 85.2h0m.1-145.4h0m0 144.9h0m.1-40h0m0 48.6h0m.1 .8h0m0 4.7h0m.1-36.6h0m.1-15.2h0m.1 18.4h0m.5 16.8h0m.1-153.5h0m.1 124.7h0m.1-41.6h0m0 80.1h0m0 2.5h0m.1 7.1h0m.1-50.8h0m.2 41.8h0m.2-24.7h0m0 3.5h0m.2 7.6h0m.1-20.3h0m.1 17.6h0m0 21.1h0m.1-23.4h0m.3-136.2h0m.2 125.2h0m.1-40.4h0m.5 78.6h0m.2-47.6h0m.1 41.7h0m.3-54.7h0m0 53.2h0m.2-49.3h0m.1-14.1h0m.1-122.8h0m.2 140.3h0m.3 45.4h0m.1-11.7h0m.4-65.5h0m0 55.2h0m.1-101.9h0m.1 102.6h0m.2-26.7h0m.2-16h0m0 65.8h0m.2-68.8h0m0 67.5h0m.1-34.7h0m.1 5.1h0m0 1.1h0m0 5.6h0m.3-65.9h0m0 62.5h0m0 .6h0m.1 5.1h0m.3-35.2h0m.1-.8h0m.3-22.9h0m0 65.3h0m0 14.6h0m.4-40.9h0m.2 .6h0m.3-10.4h0m.4-9.7h0m.2 23h0m.4-43.9h0m.1 79.8h0m0 .1h0m.1-72.4h0m.1 70.7h0m.1-142.8h0m.1 83.2h0m0 45.2h0m.1 15.3h0m.2-23.9h0m.6-25.9h0m.1-21.2h0m.2 37h0m.1-.5h0m.1-6.4h0m.4-58.9h0m0 80h0m.2-94.6h0m0 20.3h0m.4 89.9h0m.2-42.4h0m.1 29.6h0m.2-2.7h0m0 26.5h0m.1-41.4h0m0 3.7h0m.1 16.4h0m.1-80.5h0m.1-.7h0m.2 95.8h0m.3-57.3h0m0 44.8h0m.2 8.6h0m.1-106h0m0 80.5h0m.2-13.9h0m.2-12.6h0m0 51.6h0m.1-44.2h0m.2 15.1h0m.1 18.2h0m.1-118.9h0m.1 72.9h0m.1-25.4h0m.6 94h0m.2-102.2h0m.1-40.4h0m.1 89.2h0m.1-74.1h0m.2 49.4h0m.1 45.2h0m.2-17.3h0m.1-1.1h0m.1-23.5h0m0 30.4h0m0 38.3h0m.1-35.1h0m.1 4.4h0m0 11.8h0m0 11.5h0m.1 13.4h0m.3-141.5h0m0 67.4h0m.1-3.3h0m.1 52.9h0m.4-52.4h0m0 49.2h0m.8-57.5h0m.3-32.1h0m.1 86.6h0m0 18.8h0m.1-68.3h0m.1-64.1h0m.4 24.4h0m0 6.5h0m0 99.3h0m.4-32h0m0 6.7h0m0 12.3h0m.4-34.3h0m0 59.9h0m.2-33.9h0m.1 .8h0m.1-1h0m.3-23.6h0m0 15.3h0m.1 14.8h0m.1-36.8h0m0 31.8h0m.3-7.8h0m.2-48.6h0m0 30.5h0m.1-.2h0m.1 29.5h0m.1-65.4h0m.7 76.5h0m0 13.8h0m.1-4h0m0 2h0m.1-25.9h0m.1-61.7h0m0 42.5h0m0 27.9h0m0 15.9h0m.2-61.5h0m.4 42.1h0m.2-19.4h0m0 1.6h0m.2 40.6h0m.1-13.4h0m.1-74.4h0m.1 28h0m.2 30.1h0m.1-91h0m.2 107.1h0m.1-22.6h0m.1-10.2h0m.1 19.1h0m.1-59.4h0m.3 80.5h0m.1-60.4h0m0 49.8h0m0 16.3h0m.3-10.4h0m0 4.4h0m.2-66.5h0m.6 17.6h0m0 35.1h0m.2-.8h0m.1-23.1h0m.1-15.5h0m0 33.8h0m.1-40h0m0 19.2h0m.4-71.2h0m.1 108.6h0m.4-9.4h0m0 5.4h0m.2-7.2h0m.3 28.3h0m.1-89.6h0m.1 83.4h0m.1-31.5h0m0 24.1h0m.1-17.8h0m.1 9.3h0m0 20.5h0m.2-30h0m.1 16.6h0m.2-112.1h0m0 76.7h0m.1 10.7h0m.5-13.5h0m.1-13.6h0m0 39h0m.2 4.2h0m.3-50.7h0m.1-11.6h0m0 84.1h0m.2-78.3h0m.1-12h0m0 10.7h0m.1 19.8h0m.2-34.5h0m0 41.6h0m.1 40h0m.2-7.7h0m.1-25.6h0m.1 35.8h0m.1-15.8h0m.3 11.3h0m.1-63.6h0m.1 35.6h0m0 1.2h0m0 42.7h0m.2-116.2h0m0 99.7h0m.4-10.4h0m0 19.8h0m.2-10.3h0m.1 14.7h0m.3-48.7h0m.3 22.5h0m.5-92h0m.2 79.2h0m.5 38h0m.4-4.9h0m.1-44.8h0m.4-19.1h0m.1 51h0m.1-44h0m0 61.3h0m.1-62.6h0m.1-64h0m0 73.8h0m.1 44.2h0m.1 13h0m.1-112.6h0m0 43h0m0 37h0m.1 26.2h0m.3-50.7h0m0 12.7h0m.2 8.6h0m0 29h0m.1-66.7h0m.1 16.5h0m0 1.1h0m0 54.9h0m.1-84.8h0m.4-35.6h0m.2 84.8h0m.1 6.3h0m.1-43.2h0m0 34.1h0m.1 10.9h0m.1 28.5h0m.1-98.8h0m0 14.1h0m0 66.7h0m0 6.9h0m0 6.3h0m.3-62.9h0m0 17.4h0m.3-33h0m0 59.2h0m.2-70.4h0m.2 16.5h0m0 6.4h0m.1-5.5h0m.1-70.7h0m.2 123.7h0m0 15.5h0m.1-23.6h0m.2-36.7h0m0 31.4h0m.1 25.7h0m.1-64.6h0m0 6.3h0m.1 64.4h0m.1-31.6h0m.1 7.8h0m.1-76.7h0m0 35.2h0m.1 12.4h0m.1-24.8h0m.1 58.5h0m.1 7.1h0m0 14.9h0m.2-53.8h0m.5 28.8h0m.1-76.2h0m0 63.9h0m.1-64.2h0m0 2.6h0m0 53.2h0m.2 47.6h0m.4-55.3h0m.1 35.1h0m.1 18.5h0m.2 1.6h0m.1-64.1h0m0 29.4h0m0 6.1h0m.1-12.2h0m.1 7.5h0m.2-22.2h0m0 41.8h0m.1-67.6h0m.3 49.9h0m.4 4.7h0m0 2h0m.4-102h0m.3 7.8h0m0 85.1h0m.1-30.9h0m0 35.1h0m.3 7.7h0m.5 22.1h0m.2-3.8h0m.1-10.7h0m.1-35.8h0m0 8.4h0m0 32.5h0m.3-111.3h0m0 111.9h0m.5-36.8h0m0 27.4h0m.2-23.3h0m.3-35.6h0m.1-21.1h0m0 9.9h0m0 15.6h0m.1 71.3h0m.2-31.5h0m.3 1.2h0m0 20.3h0m.1-63.7h0m.3 72.6h0m.4-3h0m.1-2.4h0m.1-37.1h0m.8-132.9h0m.1 123.9h0m.2-7.9h0m.3 21.9h0m.1-2.5h0m.4-43.8h0m.1 54.2h0m.2 21.3h0m.1-15.9h0m.2 22.6h0m.1-62.3h0m0 12.5h0m.1 41.1h0m0 13.4h0m.1-123.8h0m.1 83.8h0m0 15.3h0m0 23.9h0m.1-16.2h0m.2-.2h0m.3-77.8h0m.1 45.1h0m.1 4.4h0m.1 15.6h0m0 12.8h0m.1 3.8h0m.2-46.4h0m.2 27.9h0m0 1.9h0m0 .1h0m.3 2.5h0m.1-22.3h0m.1 36.5h0m.1-101.4h0m.3 35.7h0m.3 26.2h0m.5-68.5h0m.3 120.3h0m.1-70.7h0m.2 5.1h0m.1-50.6h0m0 99h0m.1-18.2h0m.2-37.8h0m0 22h0m.1 28.5h0m.1-66.7h0m.1 33.9h0m0 37.3h0m.4 4h0m.1 6.2h0m.3-18.5h0m.2-6.9h0m.1-57.5h0m.4 41.7h0m0 3.1h0m.2-20.5h0m0 17.4h0m.1 15.7h0m.1 7.2h0m.5-91.8h0m0 66.8h0m.1-37.8h0m0 79h0m.1-45.3h0m0 38h0m.2-39.5h0m0 31.6h0m.2-40.3h0m.2 42.4h0m.4 11.8h0m.2-81.7h0m.1 78.1h0m.1-19.4h0m.2 4.1h0m.2-74.1h0m0 13.5h0m.1 85.9h0m0 4.4h0m.2-17.7h0m.1-36h0m.1-53.4h0m0 105.8h0m.2-25.8h0m.1-119.3h0m.2 87h0m.2 47.2h0m.3-10.6h0m.2-37.2h0m0 11h0m.5-6.1h0m.2 39.1h0m.2-36.3h0m.2 15.9h0m.1-44.9h0m.1 60.9h0m.1-25.3h0m.1-13.2h0m.2-72.7h0m0 116.6h0m.1-60.7h0m0 27.6h0m0 31.3h0m.1-7.9h0m.1-59.5h0m.1-27.4h0m.2 15.6h0m.1 85.4h0m.6-17.7h0m.1-28.9h0m.7 13h0m.1-25.3h0m.1 14.6h0m0 45.1h0m.1-115h0m0 86.3h0m0 34.4h0m.2-67.4h0m.3 55.9h0m.2-41h0m.2-42.6h0m0 47.2h0m.1 37h0m.1-106.7h0m0 62.3h0m0 .6h0m0 35.4h0m.1-130h0m.4 134h0m.1-26.7h0m.1 45.7h0m.2-30.5h0m.1-35.5h0m.2 30h0m.1 17.4h0m.1-39.7h0m0 18.4h0m.4-58.9h0m.6 18.4h0m0 45.5h0m0 29.2h0m.3-111.7h0m.5 118.9h0m0 .8h0m.1-45.8h0m0 10.3h0m.2 12h0m0 10.6h0m.1-15h0m.6 22.5h0m.1-24.2h0m.1-69.1h0m0 25.9h0m.1 65.3h0m.1-64.7h0m.2 33.4h0m.3 15h0m.1-.8h0m.1-9.2h0m.1 4.4h0m.5-17h0m0 1.5h0m0 14.5h0m.1-1.1h0m.2-21.7h0m0 38.1h0m.1-28.6h0m.3-3.6h0m.2 27.8h0m.2 9.4h0m.1-22.2h0m.2-98.4h0m.1 88.5h0m0 40.1h0m.1-82.9h0m0 22.3h0m0 26.6h0m.1-55.3h0m.1 28.6h0m0 39.1h0m.2-63.9h0m.5-30.4h0m0 88.8h0m.1-15.3h0m.1 36.4h0m.2-25.6h0m.1 13.2h0m.1 1.5h0m.2-9.2h0m.1-54.5h0m.1 36.1h0m.3-105h0m0 126.7h0m.4-67.8h0m.1-2.3h0m.1 17.8h0m.1-6h0m0 76.6h0m.1-25.9h0m0 10.1h0m.1-94.9h0m.1 101.5h0m.1-6.6h0m.5 13h0m.1-46h0m.4 45.4h0m.1-39.2h0m.2 25.7h0m.4-34.5h0m0 39.3h0m.6-13h0m.4 10h0m.1-32.3h0m.1 52.4h0m.3-83.2h0m0 78.6h0m.4-34.6h0m.1 5.6h0m.1-67.5h0m.1 94.3h0m.1-84h0m0 41.4h0m.1 6.2h0m0 18.6h0m0 6h0m.2 8.9h0m.2-48.9h0m.1-13.3h0m0 69.2h0m.4-9.4h0m.1-11.3h0m.1-65.8h0m0 47.8h0m.1 30.2h0m.1-63.2h0m.1-56.1h0m0 104.1h0m.1-77h0m0 80.2h0m.1-53.4h0m.1 25.7h0m.3 33.9h0m.4-5.3h0m.1-45h0m.2 43h0m.6-75.3h0m0 31.5h0m.1 33h0m.2 5.5h0m.3-32.3h0m.4-34.9h0m.3-48.7h0m.1 76.4h0m.4-29.5h0m0 43.6h0m0 37.2h0m.1-2.6h0m.2 13.6h0m.1-55h0m.5 62h0m.1-25h0m.1 2.8h0m.2 12.3h0m.2-32.9h0m.5 35.3h0m.1-19.3h0m.2-4.6h0m.2-19.8h0m0 32.4h0m0 16.7h0m.3-31.6h0m.2-1.9h0m0 6h0m0 1.7h0m0 16.2h0m0 11.5h0m.3-53h0m0 10.4h0m0 8.4h0m.2 29.7h0m.1-23.2h0m.1-10.3h0m0 34.9h0m0 2.8h0m.1-7.4h0m.1-61.9h0m.1-22.2h0m.1 46.9h0m.1-20.3h0m.1 39.7h0m.1-48.7h0m.3 32.9h0m.2-1.9h0m.3-45.5h0m.2-43.3h0m.2 103.2h0m0 4.3h0m.1-93.8h0m.2 2.6h0m0 49.8h0m.2 13.7h0m.3 21.6h0m.2 18.4h0m.1-137.2h0m.2 142h0m.1-55.4h0m.2 58.5h0m0 3.2h0m.1-74.7h0m.2 56.3h0m0 6.4h0m.3 11.8h0m.2-48.6h0m0 36.8h0m.1-76.5h0m.1 63.9h0m.4-34.5h0m.1 23.2h0m.3-69.3h0m0 22.4h0m.3 15.8h0m.1 18.1h0m.1-43.4h0m0 65.2h0m.2-39h0m.2 34.8h0m.2-10h0m.1-18.1h0m.1-2.1h0m0 18.2h0m.1-10.2h0m0 49.1h0m.2-54.4h0m.1 31h0m.1-6.5h0m.1-70.8h0m.1 94.2h0m.1-38.8h0m0 26h0m.1-31.1h0m.3 37.6h0m.3-26.9h0m.6 4h0m.5-6.2h0m.1 6.5h0m.6-.3h0m.2-27.6h0m0 44.2h0m.1-15.5h0m.2-34.3h0m.1-34.4h0m.1 13.8h0m0 25h0m.2 64.7h0m.4-.9h0m.3-41.8h0m.1 17.4h0m.1 10.6h0m.1 12.5h0m.1-40.2h0m.1-51.8h0m.5 30.5h0m.2-55.9h0m.3 55.5h0m.3 27.7h0m0 42.3h0m.1-20.5h0m0 1h0m.3 8.2h0m0 .2h0m.2 6.6h0m.1-17.9h0m.2-47h0m.3 42.8h0m0 12.9h0m.3-29.6h0m.1 34.1h0m0 8h0m.3-42.4h0m.2-37h0m.2 30.8h0m.1-18.5h0m.2 38.4h0m.1-69.9h0m0 72.3h0m0 6.9h0m.4 15.7h0m.2-14.1h0m.3-131.9h0m0 120h0m.1-212.3h0m0 205.5h0m.1-18h0m.1 .1h0m0 55.1h0m.1-78h0m0 10.1h0m.2-21.2h0m0 62.6h0m.4-26.6h0m0 21.5h0m.1-41.1h0m.2 42.9h0m.1-13.4h0m.2-35.6h0m0 .9h0m0 12.6h0m.2 47.6h0m.2-75.9h0m0 42.5h0m.2 22.5h0m.1 17.2h0m.5 10.2h0m.1-74.9h0m.2 17.1h0m.1 31h0m0 4.1h0m.1 11h0m.3 11.9h0m.2-16.6h0m.2-132.9h0m0 100.3h0m0 11.5h0m0 39.4h0m.1-87h0m.1-17.8h0m.2 69.3h0m.3-10h0m1-70.9h0m.2 41.6h0m0 38.8h0m.1 6.1h0m.1-59.4h0m.5-37h0m.2 27.6h0m.4 47.3h0m.1-8.3h0m0 36.7h0m.1-25.1h0m.2 28.2h0m.1 17.1h0m.1-136.4h0m0 75.4h0m.1 28.9h0m.1 16.3h0m.1-15.1h0m.1-3.2h0m0 26.9h0m.1-26.9h0m.2-46.3h0m0 34.3h0m0 35.4h0m.1-67.8h0m0 19.8h0m0 31.1h0m.2-75.6h0m.4 61.8h0m.1 43.8h0m.2-100.7h0m.1 29.5h0m.2 13.8h0m.1 20.6h0m.4-56.5h0m0 70.4h0m.1-9.3h0m.1-5.2h0m0 7.6h0m.2-100.5h0m0 130.5h0m.3-69.6h0m0 62.2h0m.1-6.2h0m.1-53.6h0m0 24.1h0m.2 29.6h0m.3-41.6h0m.2-22.7h0m0 14.2h0m.4-41.8h0m.1 93.3h0m.4-9.3h0m.1 16.9h0m.3-13.3h0m.3 1.1h0m0 3.7h0m.3-48.5h0m0 13.6h0m0 36.8h0m0 .9h0m.3-.5h0m.4-45.8h0m.9-51.8h0m.2 74h0m.1 28.3h0m.1-122.5h0m.4 94.3h0m.2-70.9h0m0 70.7h0m0 14h0m.2-15.3h0m.2 31.7h0m.3-72.1h0m.1 27.4h0m.1-27.7h0m.7 72.4h0m.1-97.2h0m0 13.8h0m.5 29.6h0m.1 2.5h0m0 56.6h0m.1-65.2h0m.2-81.4h0m0 88.5h0m.1 16h0m0 19.9h0m.1-26.5h0m.2-80.9h0m0 46.1h0m.2-3.1h0m0 16h0m0 59.2h0m.3-27.2h0m.1 34.3h0m.2-20.6h0m0 12.5h0m.1-118.1h0m.3 56.2h0m.1 13.7h0m.1 27.6h0m.1-13h0m.1-12.1h0m.2 54h0m.3-176.1h0m.1 135.1h0m0 3.1h0m.3 16.2h0m.3-9.5h0m0 26.7h0m.1-72.5h0m0 10.5h0m.5 49.7h0m0 13h0m.3-42.9h0m.4-41.1h0m0 30.8h0m0 14.2h0m0 2.5h0m0 27h0m.1-16.1h0m0 33.4h0m.4-64.2h0m0 63.4h0m.4-33.5h0m0 25.6h0m.1 7.2h0m.7-39.7h0m0 36.6h0m0 2.2h0m.1-103.3h0m.1-13.8h0m0 82.9h0m.1 13.4h0m.1 0h0m0 5.9h0m.1-90.5h0m.1 47.5h0m.6 42.8h0m.1-93.8h0m.1 46.9h0m0 36.1h0m.1-7.3h0m.6-67.2h0m.2 58.3h0m.1-1.9h0m.1-46.9h0m.3 67.1h0m.2-13h0m.1-23.7h0m0 32.1h0m.1-82.2h0m0 78.7h0m0 17.1h0m.4-31.9h0m.1-1.4h0m0 36.5h0m.1-98.5h0m0 93h0m0 5.6h0m.4-49.8h0m.1-13.4h0m.1 41h0m.1 10.3h0m.1-12.4h0m.1 27.9h0m.1-64.2h0m.1 10h0m.1 8.1h0m0 38.2h0m0 14.5h0m.1-39h0m0 1.5h0m.4-10.9h0m0 11.3h0m.1 23.1h0m.4-12.3h0m.1-60.8h0m0 67.6h0m.3-59.6h0m.2 78.6h0m.2-62.6h0m0 17h0m0 20.1h0m.1-31.9h0m0 2.3h0m.1 32.1h0m.1 9.7h0m.2-32h0m0 44.5h0m.1-45.4h0m.1 6.3h0m.1-43h0m.4 38h0m0 41.9h0m.1-83.3h0m0 61h0m.5-9.8h0m.6-47.3h0m.2 40h0m0 4.7h0m.1 8h0m0 9h0m.1-.3h0m.1-80.5h0m0 93.5h0m.4-108.4h0m.2 61.7h0m0 1.1h0m.1-32h0m0 70.5h0m0 6.2h0m.3-29.9h0m.1 41.9h0m.2-73.9h0m.2 13.6h0m.1 24.1h0m.1-52.8h0m0 20h0m.1 14.2h0m.1-60.6h0m.1 111.9h0m.3-61h0m.1 1.3h0m.1-52.5h0m0 106.7h0m.5-9.2h0m.1 10h0m.1-36.1h0m.1 12.5h0m.3-12.1h0m0 11h0m0 .3h0m.1-16.4h0m0 13.8h0m0 32.6h0m.1-51.6h0m.3-52.4h0m0 58.7h0m.1 35.6h0m.3-43.4h0m.1-101.1h0m.1 94.3h0m.6-15.5h0m.3 63.7h0m.1-27.1h0m.1 38.7h0m.1-38.2h0m0 21.6h0m.1-55.4h0m0 25.9h0m.2-50h0m.1 84.7h0m.4-103.4h0m0 111.9h0m.1-3.5h0m.4-73.4h0m.3-6.5h0m.1 65h0m.1-117.3h0m0 7h0m0 108.4h0m0 17.2h0m.2-74.3h0m0 51h0m.2-30.9h0m.1-33.8h0m0 49.3h0m.4 31.8h0m.1-85.5h0m0 57.5h0m.4-45.2h0m.2 30.5h0m0 43.2h0m.1-17.9h0m.4 12.7h0m.1-10.3h0m.2-25.5h0m0 34.3h0m.1-20.3h0m.1-68.6h0m.1 104.9h0m.3-46.5h0m0 16.4h0m.1-4.6h0m.2-3h0m0 4.9h0m0 25h0m.3-79.6h0m0 75.6h0m.1 2.7h0m.1-89.2h0m0 76.5h0m.1-124.7h0m.3 147.2h0m.1-78.1h0m.1 23.9h0m0 6.1h0m0 .4h0m0 34.7h0m.1 17.9h0m.1-21.3h0m.1-67h0m.1-30.2h0m0 94.4h0m.1 22.6h0m.1-12h0m.1-78.6h0m.3 54.7h0m.1 1.5h0m.8-35.2h0m0 3.4h0m.2 68.1h0m.3-51h0m.1 18.4h0m.2 11.8h0m.1 20.8h0m.1-24.3h0m.1-43.4h0m.2 56.8h0m.2 10.3h0m.1-111.8h0m.1 36.2h0m.1-36.3h0m0 61.2h0m.2 11.1h0m.1 4.4h0m.1-18.2h0m0 36.1h0m.3-12.1h0m.1-95.3h0m.1 93.9h0m.1-23.8h0m.1 40.2h0m.1-45.5h0m.4 25.2h0m.1-48.1h0m.1 27.9h0m.1 1.6h0m.1-30h0m0 .3h0m.1 79.8h0m.1-56.7h0m.4 2.4h0m.2 21.9h0m.1-17.8h0m.1 9h0m.1 16.8h0m.1 24.5h0m.3-49h0m0 25.5h0m0 2.6h0m.1-36.3h0m0 .4h0m.1 50.4h0m.2-12.3h0m.1-20.1h0m.2 20.1h0m.1-43.5h0m0 40.7h0m.1-21.6h0m.3 21.3h0m.4-35.2h0m0 39.5h0m.2-72.2h0m0 69.6h0m.2-32.5h0m.1 15.6h0m0 15.5h0m0 4.3h0m.3-72.3h0m.1 74.7h0m.2-23.6h0m.3-67.8h0m0 89.5h0m.1-82.8h0m.1 67.5h0m.1-29h0m.2 16h0m.1-70.1h0m.1 65.9h0m.1-81.7h0m.1 108.8h0m0 23.5h0m.2-104.2h0m.1-10.7h0m.1 40.5h0m0 40.6h0m.5-2.6h0m.1 34.2h0m.1-99.1h0m.1 59.8h0m0 6.9h0m0 16.6h0m.4 11.8h0m.2-75h0m0 34.7h0m.3 49.7h0m.2-29.6h0m.2-9.8h0m.3 20.8h0m0 17.3h0m.3-83.3h0m.3 48.9h0m.1-17.5h0m.5-64.5h0m.1 84.1h0m.3 1.1h0m.2-11.4h0m0 38.5h0m.1-41.7h0m.3 21.4h0m.1-13.4h0m0 36.9h0m.3-21.9h0m.4-67.5h0m.1-22.9h0m0 36.9h0m0 51.5h0m.2-15h0m.2 35.8h0m.1-14.6h0m.4-39.2h0m0 35h0m.1-62.2h0m.2 28.5h0m0 26h0m.2-25.8h0m0 41.2h0m.3-19.4h0m.1-18.9h0m.1-67h0m.1 114.5h0m.8-66.9h0m.1 38.6h0m.2-33h0m.1 16.5h0m0 48.1h0m.1-97.1h0m0 15.7h0m.2 37.9h0m.1 19h0m.1 15.3h0m.1-5h0m.2 10.2h0m.4-70.6h0m0 58.8h0m.1-88.6h0m0 73.6h0m.1-29.7h0m.1-30.8h0m0 14.5h0m0 3.2h0m.2 19.4h0m.2 49.7h0m.1-56.8h0m0 53.4h0m.1-70.8h0m.2 24.8h0m.2 46.1h0m.4-72h0m.1 27.1h0m0 17h0m0 35.8h0m.1-62.9h0m0 10.1h0m.1-12.8h0m0 19.9h0m.1 29.2h0m.3 2.3h0m.2-78.4h0m.1 15h0m0 34.5h0m0 32.5h0m.1-50h0m0 37.7h0m.1-37.2h0m.1 17.8h0m0 26.6h0m.1-5.7h0m.1-15.7h0m.4 27.5h0m.1-56h0m0 62.4h0m.1-125.6h0m.2 93h0m.1-6.3h0m.1 45.3h0m.5-51.2h0m.3 38.4h0m.3-73.4h0m0 35.2h0m.1-1.7h0m0 8.4h0m.1 1.8h0m.1 21.8h0m.1-67.3h0m0 2.6h0m0 40.4h0m0 7.3h0m.2 37.4h0m.6-134.6h0m0 97.3h0m.3 26.5h0m.2-65.4h0m.1 72.3h0m.7-16h0m.3-34.3h0m.3 52h0m.1-20h0m.2-19.8h0m.2 13.8h0m.5 16.9h0m.4-3.2h0m.2 12.4h0m.1-24.1h0m.2-66.4h0m0 21h0m.1-107.6h0m.1 142.9h0m.1-97.9h0m.3 98.5h0m.2-111.2h0m.2 116.7h0m.2-7h0m0 7.5h0m0 25.7h0m.1-79.2h0m0 71.5h0m.4-53.8h0m0 42.4h0m.5-7h0m.1-30.1h0m0 35.4h0m.1-9.8h0m.2-6h0m.1 41.5h0m.2-60.6h0m.1 31.1h0m.1-32.9h0m.1 40.4h0m.1-46.8h0m.1-19.6h0m0 16.6h0m.1-68.5h0m.1 47.4h0m.3-78.7h0m.3 171.8h0m.1-49.2h0m.1-40.9h0m0 89h0m.1-20.7h0m.1-29.8h0m.4-8.7h0m.5-68.3h0m.3 124h0m.1-32.2h0m.1 22.8h0m.5-56.5h0m.1-63h0m.1 81.3h0m.1-63h0m.1 43h0m.4 38.8h0m.5-10.4h0m.1-41.5h0m0 71.1h0m.1-51.1h0m.1-.3h0m0 26.2h0m.2-57.3h0m.1 88.4h0m.3-64.1h0m0 38.1h0m.2 29.1h0m.1-43.6h0m.1 24.7h0m.1-5h0m.4-83.8h0m0 79.1h0m.1 7.6h0m.3-20.3h0m.2-63.1h0m.2 39.3h0m.3-90.3h0m0 95.5h0m0 50.6h0m.1-18.7h0m.2-42h0m.1 14.6h0m.2 26.8h0m.1 18.4h0m0 5h0m.1 5.4h0m.1-26.7h0m1.1 7.3h0m.1-78.3h0m.1 69.1h0m.1-3.3h0m.4-130.6h0m.1 120.4h0m.2-22.2h0m0 18.5h0m0 8.9h0m.2 40.7h0m.2-94.9h0m.1 21.2h0m0 57.6h0m.2-27.7h0m.2 8.6h0m.2-56.6h0m0 71.4h0m.1-32.1h0m.1 30h0m.3-4.1h0m.3-3.1h0m0 24.3h0m.1-17h0m.1-75.2h0m.3 70.8h0m.3-11.8h0m.2-8.4h0m.1 4.3h0m.1 29.1h0m.1-14h0m.1-35.7h0m.1 9h0m.2-22h0m0 14.5h0m.1 36.7h0m.2 17.6h0m.2-21.8h0m.2-119.1h0m.1 75.5h0m.5 53.4h0m.3-57.5h0m0 2h0m0 32.9h0m.2 17.4h0m.2-54.5h0m.1-12.9h0m0 64.3h0m.2-35.6h0m.2-74.8h0m.2 123.1h0m0 14.2h0m.2-1h0m.1-35h0m.1 14.3h0m.2-89.1h0m.1 56.7h0m.1 40h0m0 4h0m.1 9.9h0m.1-23.2h0m.1-33.4h0m.1-8.8h0m.2 20.4h0m.1 2.5h0m0 2.3h0m0 9.8h0m.1 4.7h0m.1 15.6h0m.1-20h0m.2-3.5h0m.3-103.1h0m0 97h0m.1-43.5h0m.6 80.8h0m.1-49.8h0m.2 11.7h0m0 13.1h0m.2-4.9h0m.1-16.4h0m.5-55.5h0m0 63.9h0m.1-27.7h0m.1 32.2h0m.2-25.8h0m.2 33.9h0m.2-126.7h0m.1 155h0m.3-108.2h0m0 78h0m0 18.6h0m.5-58.5h0m0 63.7h0m.2-18.1h0m.1-8h0m.3 30.3h0m.1-59.9h0m.2-73.5h0m.2 126.3h0m.1 4.3h0m.3 .3h0m.4-35.3h0m.1 33.6h0m.2-69.2h0m0 53h0m.1-61.8h0m.1 27.8h0m0 9.1h0m.4 41.9h0m.3-90.9h0m0 21.2h0m0 37h0m0 .5h0m0 10.9h0m.1-14.5h0m0 37.9h0m.1-105.3h0m0 76.1h0m.2-3.3h0m.2-41.6h0m.1 7.1h0m.1 67.8h0m.1-106.4h0m.2-3.1h0m.3 59.2h0m0 42h0m.1-18.4h0m.1-18.8h0m.1-21.3h0m0 27h0m0 20.9h0m.1 .7h0m.3-57.2h0m.1 43.4h0m0 15h0m.1 18.6h0m.3-53.6h0m.1-55.7h0m.5 89.2h0m.1-66.4h0m.1 66.9h0m.1 3.7h0m.2-57.9h0m.1-2.2h0m0 38.8h0m.2-8.3h0m.3-54.8h0m.2 48.3h0m0 7.7h0m.1-36.4h0m0 53.4h0m.1-35.8h0m.1 62.3h0m.1-26.9h0m.1-30.6h0m.1-109h0m0 164h0m.1-58.4h0m0 54.6h0m.1-8.3h0m.1-118.6h0m0 87.6h0m.1-5.8h0m.2 54.9h0m.3-86.5h0m0 76h0m.2-11.6h0m.2-81.6h0m.1 64.1h0m.1 3.4h0m.2-40.6h0m0 63.1h0m.5-48.7h0m0 60.4h0m.1-48.7h0m0 1.2h0m.2 30.2h0m.1-45.3h0m0 13.5h0m.1 17.4h0m.1-7h0m0 37.7h0m.2-77.4h0m.1-17.4h0m.2 37.8h0m0 33h0m.3 5.3h0m.1-90.9h0m0 59.4h0m0 23.8h0m0 5.7h0m0 7.5h0m.2 4.4h0m.1-49.7h0m.1-3.6h0m.1 32.1h0m0 27.4h0m.2 4.4h0m.2-25.2h0m.2-59.3h0m.3 63h0m.1-38.9h0m.2 6.2h0m.1 21.9h0m.1-89h0m.1 23.4h0m.3 86.5h0m.1-76.3h0m.2 35.8h0m.1 46.5h0m.3-8h0m.3-12.3h0m.2-21h0m.2 33.4h0m.1-48.8h0m0 13.9h0m0 34.2h0m.2-21.3h0m.1 23.2h0m.1 2.2h0m0 4.6h0m.1-5.8h0m.3-85.3h0m.3 40.3h0m.4-62.5h0m.1 106.8h0m.1-65.5h0m0 43.3h0m0 32.4h0m.2-1h0m.2-40h0m0 42.5h0m.3-22h0m0 .5h0m.1 9.6h0m.1-55.5h0m0 46.9h0m.3-88.5h0m.2 39.1h0m0 58.7h0m.1-61.4h0m0 35.9h0m.1-20.9h0m0 12.2h0m.1-46.7h0m0 52.9h0m.1-30.6h0m0 46h0m0 13.3h0m.4 9.7h0m.1-82.6h0m.2 73.1h0m.1-31.5h0m.3 24.2h0m0 5.7h0m.1-75.9h0m0 6h0m.1 43.4h0m.1-8h0m0 8.2h0m.3-26.5h0m0 23.9h0m.1 16.9h0m.3-32.1h0m0 52.4h0m.2-49.2h0m0 7.6h0m0 36.4h0m.2-7h0m.1 10.8h0m.3-41.8h0m.2-10.9h0m.1 45.1h0m.3-157.4h0m0 105.8h0m.1 29.1h0m0 22.6h0m.1-83.4h0m.1-2.8h0m0 60.1h0m0 22.1h0m.2-45.5h0m.2-8.2h0m0 69.7h0m.2-74.2h0m0 30.6h0m0 16.5h0m.2-112.7h0m0 52.4h0m.2 19.9h0m.1-77.2h0m0 124.2h0m0 8.2h0m.1-57.6h0m0 67.7h0m.2-149.3h0m.1 138.2h0m0 7.6h0m.2-14.2h0m.1-55h0m.2 49h0m0 15.4h0m.2-35.3h0m0 23.8h0m.1-75.7h0m0 22.4h0m0 67.7h0m.3-39.6h0m0 19.1h0m.2-95.9h0m.1 101h0m0 22.6h0m.1-6.3h0m.2 3.8h0m.1-47.3h0m.1 14.1h0m.1-144.2h0m.2 154.8h0m.1-81.3h0m0 91.4h0m0 14h0m.1-46.1h0m.1 37.7h0m.5-157.2h0m0 92.7h0m0 75.6h0m.2-36.1h0m.3-10.8h0m.1-14.6h0m0 52.6h0m.1-78.5h0m.1 25.2h0m0 31.6h0m.1 12.3h0m0 1.4h0m.1-38.5h0m0 54.6h0m.1-73.7h0m0 9.6h0m.1 41.7h0m0 19.8h0m.5-17.7h0m0 7.5h0m.1-18.8h0m.1-2.3h0m.1 31.5h0m.1-127.4h0m.4-1.1h0m.1 59.5h0m0 17.8h0m.1-17.8h0m.1-9.4h0m0 55.2h0m.1 6.7h0m.1-34.5h0m.5 38.4h0m0 2.6h0m.4-117.8h0m.2 4.5h0m0 65.6h0m0 38.3h0m.1 1.4h0m0 9.8h0m.3 11.2h0m.1-42.2h0m.2 30h0m.1-69.1h0m.3 48h0m.1 2.2h0m.3-7.3h0m0 24.6h0m.1-44.6h0m.1-23.1h0m0 63.9h0m.1-99.5h0m.1 66.6h0m0 36.6h0m.1 14.6h0m.1-55.1h0m0 17.1h0m.4 5.5h0m0 25.6h0m.2-39h0m.3-33.5h0m.1 55.2h0m.1-29.5h0m0 14.6h0m.5-60.1h0m.1 75.9h0m0 7h0m.2-1.3h0m.3-11.6h0m.1-17h0m0 27.8h0m.2-29.6h0m0 37.5h0m.1-17.9h0m.2 2.3h0m.1-72.5h0m.2 47.1h0m.1-7.5h0m.2 26.1h0m.4 8h0m.1-5.8h0m.1-47.6h0m.1 10h0m0 51.2h0m.2-8.6h0m0 2.7h0m.1 13.3h0m.3-5.2h0m.1 3.5h0m.2-10.9h0m0 7.9h0m.1-83.2h0m.1 17h0m0 .3h0m0 63.2h0m0 11.1h0m.6-10.2h0m.1-34.2h0m.1-24.1h0m.5 44.3h0m.1-14.4h0m.1-36.2h0m0 15.4h0m.1-103.9h0m0 91h0m0 16.2h0m0 49.9h0m.3-36.1h0m0 27.1h0m.1-24.2h0m.2-47.9h0m0 54.9h0m.1-54.2h0m.3 12.9h0m.4 1.5h0m0 36.3h0m0 12.6h0m.1 23.5h0m.3-46.3h0m.1-103.6h0m.1 75.1h0m0 33.5h0m0 21.7h0m.3-33.6h0m0 20.3h0m.2 24h0m.3-40.9h0m.6-72.4h0m.1-13.3h0m.3 81.4h0m0 49.9h0m.2-27.5h0m.1 30.6h0m.1-51.4h0m.2 29.8h0m.1-24.1h0m.1 24.4h0m.3 23.1h0m.1-62.3h0m0 44.5h0m.2-14h0m.2-19.5h0m.1-9.3h0m.1 59.5h0m.1-58.2h0m0 48.4h0m.1-122.2h0m.1 93.9h0m.4 8.7h0m0 21.9h0m.1-38.7h0m.1-66.9h0m.1-28.5h0m.1 102.8h0m0 1.2h0m.1-194.6h0m0 225.2h0m0 7.2h0m.1-11.9h0m.1-28.7h0m.1-130.9h0m0 80.8h0m0 92.9h0m.2-69.5h0m0 20.9h0m0 4.2h0m0 12.1h0m.2-17.7h0m.3 7.4h0m.1-82.9h0m.3 91.3h0m.3-42.4h0m.2 71.6h0m.1-2.5h0m.3-4.9h0m.1 15h0m.2-45.5h0m.3 10.6h0m0 5.8h0m0 28.4h0m.1-33.9h0m.2-122.4h0m.1 103.8h0m.1 3.7h0m0 44h0m.1-32.6h0m.2-37.8h0m.2-72h0m.1 94.5h0m0 4.5h0m.1-110.2h0m.3 110.6h0m.1-37.1h0m.1 6.7h0m.3-41.9h0m.2 88.9h0m.1-63.3h0m.3-27.5h0m.2 85.9h0m.3 21.4h0m.2-6.7h0m.1-11h0m.4 23.8h0m.1-22.6h0m.2-29.3h0m.1 26.1h0m.2 34h0m.2-16.8h0m.2 8.8h0m.1-96.2h0m.1 56.5h0m0 47.8h0m.1-44.1h0m.1 23h0m.1-49.8h0m.2 6.3h0m0 9.1h0m.1-35.4h0m0 12.3h0m0 63.1h0m.3-136.5h0m.2 96.5h0m0 6.4h0m.3-48.4h0m.1 75h0m.4-7h0m0 2.4h0m0 8.6h0m.2-85.8h0m0 100.5h0m.2-100h0m.2 71.3h0m0 11.1h0m.3-28.8h0m.1 25.4h0m.3-15.1h0m.2-48.5h0m0 40.8h0m.3-21.7h0m.2 40.3h0m.1 30.9h0m.1-20.4h0m.1-19.8h0m.1-31.6h0m.3 7.2h0m.3-13.2h0m0 22.2h0m.1-9h0m.1-10.7h0m.1 6.2h0m0 9.1h0m.1-15.1h0m.1-4.6h0m0 33.3h0m0 8.1h0m.3-22.7h0m.1 41.9h0m.3-14.5h0m0 12.7h0m.1-35.8h0m0 49.6h0m.2-75.3h0m.1 39h0m0 23.3h0m.1-25.9h0m.2-61.8h0m0 95.3h0m.1-104.8h0m0 84.3h0m.1-112.9h0m.2 107.6h0m.1-79.3h0m0 19.9h0m0 13.2h0m.1 52.1h0m.1-61.7h0m0 82.4h0m.1-53.7h0m0 64h0m.1-28.5h0m.1-36.1h0m0 14.1h0m0 29.8h0m.1-82.9h0m.1 69.5h0m.1-3.2h0m.1 36.6h0m.1-28.4h0m.1 29.5h0m.9-62.1h0m0 53.1h0m.1-104.1h0m.1-33.3h0m0 118h0m0 26.5h0m.1-103.5h0m0 99h0m.6-24h0m.3-42.2h0m.2 23.4h0m.1-46.9h0m.1 88.8h0m.1-68.5h0m0 26.1h0m.1 43.7h0m.1-81.3h0m.1 69h0m.1-25.3h0m0 2.7h0m.1-99.7h0m.1 102.6h0m.3-7.8h0m.2-21.6h0m0 41.4h0m.1-38h0m0 61.4h0m.2-15.9h0m0 9.9h0m.2-79.9h0m0 88.8h0m.1-18.9h0m.2-161.2h0m0 166.1h0m0 2h0m.1-74h0m0 11.2h0m.1-49h0m.1 80.6h0m0 22.6h0m.1-91.2h0m.1 34h0m0 78.1h0m.1-82.9h0m0 39.2h0m.1 15.8h0m.1 26.7h0m.2-4h0m.2 .6h0m.1-67.7h0m.1-51.2h0m0 94.5h0m0 10.4h0m.4-81.2h0m.1 95.9h0m.1-46.1h0m.4-8.6h0m.2 26.3h0m.1 2.7h0m.1-3.8h0m0 12.7h0m.1-105.8h0m.1 118.7h0m.1-102.6h0m0 8.5h0m.2 50.1h0m0 41.1h0m0 9.8h0m.6-79.8h0m0 49.8h0m.1 6.4h0m0 .8h0m.2-32.6h0m0 5.7h0m.1 5.3h0m.1-19.2h0m0 46.9h0m.1-30.2h0m0 3.3h0m.1 17.6h0m.2 22.5h0m.4-7.4h0m.1-37.8h0m.3 31.4h0m.2-59.4h0m.2 69.3h0m.1-21.4h0m.1 26.8h0m.1-13.7h0m.1-3.9h0m.1 .9h0m.3-64.7h0m.2 59.8h0m.1-16.6h0m.1 38.4h0m.2-23.4h0m.4-68.2h0m.3 67.8h0m.3-58.4h0m0 13.5h0m.1-2.9h0m0 14.4h0m.1 40.7h0m0 6.9h0m0 7.7h0m.4-20.7h0m.1-75.7h0m0 47.5h0m.2-10.3h0m.2-24.9h0m0 18.1h0m.1 26.6h0m.1-44.4h0m0 69.5h0m0 13.4h0m.2-21.5h0m.1-44.2h0m0 30.9h0m.2 35.9h0m.1-89.6h0m.3 89h0m.1-125h0m0 96.7h0m0 11h0m.3-22.1h0m.2-118.8h0m0 84.6h0m0 26.9h0m.1-129.7h0m0 159.2h0m.2 6.2h0m.2-101h0m0 61.4h0m0 3.5h0m.1 26.9h0m.1-84.4h0m0 87.7h0m.2-82.3h0m.2-14.2h0m0 22.6h0m0 1.2h0m.3 4h0m0 36.9h0m.1 46.2h0m.1 .9h0m.1-75.9h0m0 .9h0m0 3.9h0m.1 3.9h0m.1-40.4h0m.1 95.5h0m.1-11.2h0m.2-4.4h0m.2 29.5h0m.2-79.8h0m.2 17.5h0m.1-149.3h0m0 157.5h0m.1 11.9h0m0 20.1h0m0 11.9h0m.1-7.8h0m.1-84.9h0m0 92.1h0m.1 5.1h0m.4-39.4h0m.2-37.7h0m.1 36.8h0m0 15.5h0m.3 14.4h0m.1-17h0m.1 17.8h0m.1 19.8h0m.1-32.9h0m.1-44.2h0m.2-65.2h0m.1 83.4h0m.1 15.4h0m.2 1.4h0m.2-26.8h0m.3-8.7h0m.1-13.1h0m.4-11.5h0m0 86.2h0m0 2.1h0m.1-103.9h0m.1 9.2h0m0 48.3h0m0 55.5h0m0 2.1h0m.1-58.8h0m.2 45.8h0m0 14.8h0m.2-169.5h0m0 31.4h0m0 124h0m.2-64.8h0m0 40.2h0m0 5.4h0m.1 27.5h0m.2-214.1h0m0 84.7h0m0 79.4h0m.1 55.7h0m.1-90.6h0m0 74.7h0m.2-47.6h0m.4-33.8h0m0 46.8h0m0 44.4h0m.7-98.7h0m0 53.6h0m.2 15.4h0m.1-22.8h0m.1 16.6h0m0 26.7h0m.1 8.1h0m0 4.1h0m.1-155.1h0m0 89.5h0m0 16.2h0m0 44.5h0m.1-50.8h0m.2 41.6h0m.1-3.4h0m0 19.5h0m.1-21.8h0m.1-135.6h0m.3 145.3h0m.2-3.3h0m.1-1.4h0m.1-10h0m.1 13.7h0m.3-18.7h0m.4 33.1h0m.4-105h0m.1-80.9h0m.1 94.8h0m.1 59h0m0 33.8h0m.2-22h0m.3 10.4h0m.2-72.2h0m0 63.3h0m.4-51.3h0m.2 31.2h0m.1 31.7h0m.1-45.7h0m.2-125.5h0m0 97.6h0m.1-76.2h0m.1 141h0m0 .8h0m.2-115.3h0m0 100.5h0m.2-69.4h0m0 55.2h0m.3-56.8h0m0 4.4h0m.1-118.7h0m0 215.8h0m.2-40.3h0m.2 .7h0m.1-23.1h0m0 31.2h0m0 23.2h0m.4-54.1h0m.1-2.6h0m.3 39.2h0m.1 2.8h0m.1-38.3h0m0 25.2h0m.1-36.4h0m.2 27.2h0m0 1h0m.4 32.3h0m0 10.2h0m0 3h0m.1-27.1h0m.2-4.7h0m.5 9h0m.2-19.9h0m.2 13.5h0m0 9.8h0m.1 17.5h0m.1-75.9h0m0 36.6h0m.1 1.4h0m.1-13.4h0m.1-74.7h0m.2 78.7h0m.2 45.3h0m.2-8.4h0m.2-211.3h0m.1 182.8h0m.1-48.5h0m.1 86h0m.1-74.6h0m.1-2.6h0m.1-5.9h0m0 9.6h0m.1-4h0m.5 42.8h0m.1-90.2h0m.2 80.1h0m.1-121.7h0m.1 144.3h0m0 18h0m.2-28.4h0m.1-.9h0m.1-29.4h0m0 45.9h0m0 4.1h0m.1-52.4h0m0 63.4h0m.2-77.3h0m0 70.8h0m.2-100.3h0m0 25.5h0m0 71.9h0m.1-102.5h0m0 49.3h0m.1-55.7h0m0 46.7h0m.4 62.1h0m.1-8.7h0m.2-106.7h0m.1-.6h0m.1 64.7h0m0 1h0m0 40.7h0m.1 1h0m.2-15h0m.1-59.9h0m0 45.3h0m.4 44.7h0m.1-44.1h0m0 26.4h0m.2-35.2h0m.1-35.5h0m.3-43.1h0m0 24.3h0m.1 42.3h0m.1 42.5h0m.1-9.4h0m.1-88.8h0m0 22.9h0m.2 42.3h0m0 41.5h0m.3-56.9h0m0 68.5h0m.1-39.5h0m0 14.5h0m.2-69.9h0m.2 27.9h0m0 43h0m.2 21.6h0m0 9.5h0m.1-125.2h0m.1 23.2h0m.1 20.2h0m0 44.6h0m.3-12.3h0m0 3.6h0m0 14.7h0m0 3.8h0m0 0h0m0 19.4h0m0 2.6h0m.3-73.7h0m.1 62.3h0m.1-114.9h0m0 132.7h0m.1-16.3h0m0 9.3h0m.2-75.3h0m0 83.3h0m.1-133.5h0m.5 85.6h0m.2-26.6h0m0 7.4h0m.1 31.2h0m.2-35.7h0m.1-7h0m.1 75.5h0m.1-5.6h0m.2-105.7h0m0 9.1h0m0 23.8h0m.3 28h0m0 25.2h0m.2-14.8h0m0 24.8h0m.1-11.7h0m.3-20.4h0m0 25.1h0m0 20.2h0m.1-.8h0m.1-66.2h0m0 70.8h0m.2-83.6h0m.1 20.5h0m.2-53.8h0m0 76.3h0m.3 2.6h0m0 17.7h0m0 13.4h0m.1 7.1h0m.3-10h0m.1-33.6h0m.2 31.5h0m0 7.3h0m.2-19h0m.3-11.5h0m.1-3.1h0m.2 33.6h0m.1-2.8h0m.8-52.3h0m0 36.9h0m.1-49.7h0m.1 4.1h0m.2-64h0m.1 31.5h0m0 89.9h0m.1-35.6h0m0 27.4h0m.1-15.6h0m.3 26.8h0m.1-103.4h0m.1-6.6h0m.1-10h0m0 116.2h0m.1-100.1h0m0 10.9h0m0 20.6h0m.1 71.1h0m.1 2.9h0m.5-67.9h0m.1 21.8h0m.1 41.5h0m.1-84h0m.1 8.5h0m.2-48.4h0m0 24.5h0m0 52.7h0m0 8.8h0m.5-8.8h0m.2-1.9h0m.1-93.8h0m.1 136.1h0m.2-52.1h0m0 34.4h0m.1 26h0m.2-86.1h0m0 7.2h0m0 23.7h0m.1 49h0m.1-27.9h0m.2 7.5h0m.1-4.7h0m.4-77.8h0m0 46.8h0m0 19.5h0m.2 8.1h0m.2 34.3h0m.3-174.6h0m0 145.2h0m.2 24h0m.1-102.1h0m0 89.1h0m0 5.4h0m.1-34h0m.1-13.2h0m.2-6.8h0m.4-15.3h0m0 44.7h0m.2-49.5h0m.2-66.2h0m.1 95.8h0m0 5.4h0m0 40.8h0m.1 14.9h0m.3-60.9h0m0 43.7h0m0 25.2h0m.1-21.2h0m.1-37.7h0m.1-78h0m0 12.7h0m0 98.6h0m.1-34h0m.1-72.7h0m0 44.4h0m0 78.2h0m.3-115.8h0m0 34.7h0m.1 56.8h0m0 .7h0m.1-69.3h0m0 77.5h0m.1-34.1h0m.1 2.5h0m.2 20.1h0m.5-89.2h0m.1 79.3h0m0 38.2h0m.1-37.6h0m0 30.4h0m0 4.8h0m.6-69h0m0 11h0m0 10.8h0m0 1.8h0m.1-63.7h0m.1 87.3h0m.1-57.1h0m.1 6.3h0m0 37.9h0m.3 27.6h0m0 1h0m0 9.3h0m.1-38.5h0m0 46.2h0m.1-50.7h0m0 15.3h0m0 11.3h0m0 10.4h0m.1-75.1h0m.1 72h0m.1-40.7h0m0 35.4h0m.1-12.9h0m.2 7.3h0m.2-16.7h0m.1 32.6h0m.1-37.9h0m.2 38h0m.1-128.6h0m0 121.1h0m.3-60.1h0m0 68.8h0m.2-99.2h0m0 47.8h0m.2-10.4h0m.1-5.3h0m.1-21.1h0m.2 82.6h0m.1-113.8h0m0 116.6h0m.7-44.7h0m0 23.6h0m.1-47.6h0m0 76.6h0m.1-35.6h0m0 21.8h0m.2-30.1h0m.1 21.4h0m.1-100.2h0m.2 40.7h0m0 68.7h0m.1 17.8h0m.1-109h0m.2 26.8h0m0 19.3h0m0 9.2h0m.1 49.5h0m.2-65h0m0 5.3h0m0 46h0m.1-109.6h0m0 95.9h0m.2 21.6h0m.1-35.2h0m.1-49.6h0m.2 18.9h0m.3-1.4h0m.1-123.3h0m.3 52.2h0m0 101.4h0m.2 8.3h0m.2-44.4h0m0 .7h0m.1 58.4h0m0 7h0m.1-13.5h0m0 4.5h0m.1-55.6h0m0 60.9h0m.5-34.1h0m.2-109.6h0m.2 145.3h0m.1-.4h0m.2-148.1h0m0 61.1h0m0 95.3h0m0 2.8h0m.2-7.9h0m.2-30.8h0m0 .4h0m.2-168.1h0m0 148.3h0m.3 33.1h0m.2 1.4h0m.4-62.4h0m0 43.8h0m.1 4.7h0m.1-79.6h0m0 114.8h0m0 7.4h0m.1-81.8h0m0 34.9h0m.2-42.4h0m.2 71.2h0m.3-19.8h0m.1 38h0m.3-21.4h0m.1-149.2h0m0 148.1h0m0 5.2h0m.2-8.8h0m0 28.6h0m.1-80.2h0m.1-.6h0m0 20.6h0m.1-118.9h0m0 3.3h0m0 117.9h0m.2 24.8h0m.2-43.2h0m.1 78.1h0m.1-82h0m0 14.8h0m.3 42.7h0m.4-30.5h0m.1 18.3h0m.1-18.1h0m.1 9.2h0m.1 .7h0m0 3.6h0m.1-16h0m.1-24.5h0m.2 60.8h0m0 3.1h0m.1-31.2h0m.1-44.2h0m0 14h0m0 13.8h0m0 52.4h0m0 4.6h0m.1-28.7h0m.5 26.7h0m.2-61h0m.2 48.8h0m.2-58.8h0m.1 73.9h0m.2-64.3h0m.3 31.2h0m.2-105.5h0m0 115.8h0m.2 5h0m.1-74.9h0m0 46.7h0m.1 15.1h0m.3 13.8h0m.1-61h0m0 80.2h0m.4-36h0m0 20.1h0m.2 17.8h0m.3-104.4h0m.1 78.1h0m.1-19.6h0m0 9h0m0 5.1h0m.6-55.4h0m0 .2h0m0 5.4h0m.1-33.8h0m0 4.8h0m.1 23.8h0m0 12.8h0m.1-1.2h0m.1 43.7h0m.1-176.8h0m.3 199.6h0m.4-40.1h0m.1 47.7h0m.1-73.2h0m.1 31.1h0m.1-4.8h0m.1-60.6h0m0 105.5h0m.1-114.4h0m0 92.5h0m.3-118.2h0m0 91.8h0m0 33h0m.1 4.5h0m.1-66.4h0m.1-68.6h0m0 33.1h0m.1 87.4h0m.1-39.1h0m.1 41.2h0m.1-55.4h0m0 68.3h0m.1-47h0m.1-96.5h0m0 96.3h0m.2 46.3h0m.1-24.6h0m0 38.9h0m.1 3.6h0m.2-200.8h0m.2 162.7h0m.3-8.3h0m.1-9.5h0m0 54.9h0m.3-49.2h0m.1-28.9h0m.1-59.7h0m.1 31.7h0m.4 91.2h0m.2-75h0m0 54h0m.4-35.9h0m.1 55.5h0m.5-2h0m0 19.2h0m.1-37.2h0m.2 36.4h0m.1-90.8h0m.1 86.6h0m.2-147.9h0m.1 110.4h0m.1 9.2h0m0 15.6h0m.1-3.6h0m.1-25h0m.1 27.7h0m.1-38.4h0m.1-64.3h0m.1 91.9h0m.1-123.6h0m0 126.9h0m0 25.1h0m.2-105.7h0m0 48.3h0m.1-126.2h0m0 73h0m0 68.7h0m.2 10.1h0m.1-77.8h0m.1-126.6h0m0 94.2h0m.4 90.1h0m0 14.9h0m.1-51.7h0m0 42.7h0m.1-5.6h0m0 14.4h0m.3 6.4h0m.1-130.1h0m0 45.2h0m0 47h0m0 39.1h0m.1-126.1h0m0 48.7h0m0 62.6h0m0 14.6h0m.1-20.9h0m.1-44.8h0m0 66.3h0m0 .1h0m.1-113.3h0m0 90.5h0m.1-168.6h0m0 151.4h0m0 45.8h0m0 23.7h0m.1-133h0m.2 109.5h0m0 4.7h0m.3-10h0m.6 16.8h0m.1-17.8h0m0 6h0m0 .2h0m.2 16h0m.1-3.9h0m.1-138.3h0m0 139.8h0m.1-144.5h0m.1 82.9h0m.1-55.9h0m0 80.9h0m0 9.8h0m.2 22.5h0m.1-126.4h0m.2 52.6h0m0 31.1h0m0 46.8h0m.1-136.7h0m.1 140h0m.1-26.6h0m.1-42.8h0m.1 30.5h0m0 39.2h0m.1-44.8h0m0 16.3h0m.1-62.2h0m.2-25.4h0m.2 28.9h0m0 47h0m0 26.6h0m0 1h0m.2-123.3h0m.1 68.4h0m.1 48.4h0m0 7h0m.1-86.2h0m0 43.7h0m0 1.4h0m.1-67.3h0m0 63.9h0m.2 .4h0m.1 54h0m.2-43.7h0m0 15.5h0m.2 15h0m.1-81.2h0m0 75.5h0m0 22.4h0m.1-110.8h0m0 41.1h0m0 59.6h0m.1-49.9h0m0 37.4h0m.1-21h0m.1 43.3h0m.2-85.4h0m0 57.2h0m0 15.7h0m0 14.1h0m.1-131.6h0m0 77.6h0m.2-42.1h0m0 15.4h0m.3-10h0m0 79.9h0m.1-84.5h0m.3-1.5h0m0 5.3h0m.2 19.3h0m0 75.7h0m.1-82.9h0m.1-75.4h0m0 50.1h0m0 95.7h0m.1-23.2h0m.1-245.2h0m.1 231.9h0m0 4.1h0m0 36.8h0m.1-155.2h0m0 115.2h0m.1-95.3h0m.2 86.8h0m.2-10.9h0m0 66.5h0m.1-4.1h0m.1-61.5h0m0 51.6h0m.1-79h0m0 10.3h0m.1 16.7h0m.1-8.2h0m.1-145.2h0m0 170.5h0m0 25.1h0m.2-96.4h0m.1 1.2h0m0 47.5h0m0 61.8h0m.1-52.1h0m.1-83.3h0m0 46.9h0m0 26.1h0m0 57.4h0m.3 1.6h0m.2-63.3h0m.5-.7h0m.1 41.2h0m0 5.7h0m.1 21.1h0m.2-181h0m0 108.4h0m.1 22.3h0m.1 24.5h0m.1-4.2h0m.1-36.7h0m.1 66.6h0m.1 4.5h0m.1-41.7h0m.1 28.4h0m.2-64.6h0m0 74h0m.1-79.2h0m0 86.9h0m.3-16.3h0m.1-77.1h0m.1-57.8h0m0 134.3h0m.1-7.4h0m.1-43.8h0m.1-42.9h0m0 72.1h0m.1-11.2h0m.7-71.9h0m.1-87h0m0 162.4h0m.1 48.9h0m.3-158.7h0m0 76h0m0 68h0m.5-14.7h0m.2 2.5h0m.1-72h0m.1 76.8h0m0 2h0m.1 7.2h0m.2-31.8h0m0 31.7h0m.1-38.7h0m.1-32.9h0m.1-97.4h0m.1 40.9h0m0 11h0m0 25.1h0m.3 25.4h0m.1 35.3h0m.4-42.8h0m0 16.1h0m.2-24.4h0m.1 30.6h0m.2 40.5h0m.1-48.2h0m0 3.3h0m.1 .8h0m.4-7.4h0m.5-1.1h0m.3-74.2h0m0 59.6h0m0 36.6h0m0 38.9h0m.1-79.3h0m0 10.6h0m.5 9.5h0m0 59.3h0m.3-90.8h0m.1-121.7h0m.1 201h0m.1-13.8h0m.1-22.2h0m0 52.8h0m.1-51.2h0m.3-84.5h0m0 91.4h0m.1-30.3h0m0 50.9h0m.1-40.6h0m.3-100.6h0m0 141.8h0m.1-81h0m0 6.3h0m0 27.6h0m0 26h0m0 39.3h0m0 8.7h0m.1-47.4h0m0 42.7h0m.1 3.1h0m0 4.6h0m.2-31.1h0m.2-31.3h0m.1 54h0m.1-46.7h0m.2-26.5h0m0 67.1h0m.3-194.4h0m0 144.7h0m.2 33.8h0m.6-7.2h0m.1-96h0m.2 122.9h0m.1-69.2h0m.1-90.1h0m0 134.3h0m.2-3.8h0m0 4.2h0m.2-136.3h0m0 115.5h0m.2 50.3h0m.1-108h0m.2 104.7h0m.2-55h0m.4 17.1h0m.3-86.2h0m0 15.8h0m.1 114.7h0m.4-60.4h0m0 28.5h0m0 31.5h0m.3 1.9h0m.1-122.4h0m0 51.2h0m0 15.2h0m0 47.3h0m.1-62.1h0m0 74.8h0m.2-63.4h0m.1-67.7h0m.1 108.5h0m.2 12h0m.4-20.3h0m.2-85.2h0m0 117.6h0m.2-142.8h0m0 141.4h0m.1-95.8h0m.1 81.4h0m.1-1h0m.1-.8h0m.1-68.8h0m0 68.6h0m.1-28.3h0m0 33.2h0m.2-73.5h0m0 27.9h0m.3-117.8h0m.4 36.2h0m0 56.6h0m.2 61.6h0m.6 10.4h0m.1-15.9h0m.2-67.8h0m0 5.8h0m0 47h0m0 6.1h0m.2-53.8h0m.2 44.6h0m.3-167.3h0m0 82.9h0m.1 104.2h0m0 3.9h0m.1-70.8h0m0 14.1h0m0 69.8h0m.1-140.7h0m.1 95.7h0m0 49.8h0m.2-80h0m.3-171.8h0m0 253.2h0m.1-95.2h0m.1 67.3h0m.5-92.4h0m.2 75.9h0m0 40.3h0m.1-102.1h0m0 71.6h0m.2-58.8h0m0 42.9h0m0 8.1h0m.1-50.1h0m.2 55.7h0m.2 22.7h0m.1 4.6h0m.1-182.8h0m.2 193.3h0m.1-35.6h0m0 17.9h0m.1-79.7h0m0 67.4h0m.1-59.8h0m.1-29.7h0m0 23.7h0m.2 28.6h0m.1-45.1h0m.1 63.8h0m0 18.1h0m.1-60.5h0m0 52.4h0m0 30.7h0m.1-57.4h0m.1 63.9h0m.2-162.9h0m.1 86.2h0m.2 17.4h0m.1-16.9h0m0 56.2h0m.2-90.8h0m0 65h0m.1-55.3h0m0 13.6h0m0 53.6h0m.1-4.2h0m.1-23.4h0m.1 54h0m.1-32.1h0m.1-35.8h0m.2 50.5h0m.1-62.6h0m.2-8.4h0m.2 80.3h0m.1-24.9h0m0 11.9h0m.1-64.2h0m0 73.6h0m.2-218.2h0m.2 204.8h0m0 4.5h0m.1 1.4h0m.2-70.3h0m.2 42.3h0m0 11.2h0m0 45.9h0m.1-135.2h0m.2 37.1h0m.2-27.7h0m0 32.8h0m0 21.6h0m.3 11.6h0m.1-16.2h0m0 76.8h0m.2-102.8h0m0 62.2h0m.2-89.7h0m.3-26.8h0m.3 38.5h0m0 11.7h0m.1 50.9h0m.1-83.3h0m0 132.2h0m.1-86.8h0m.1 70.5h0m.1 18.3h0m0 4.1h0m.1-172.4h0m.2 81.1h0m.1-23.3h0m.1 96.1h0m0 14.9h0m.2-185.9h0m.1 100.5h0m.1-34.8h0m0 29.1h0m.1 13.2h0m0 31.3h0m0 15.8h0m.2-126.8h0m0 116.8h0m.3 18.3h0m.1-225.8h0m0 24.6h0m0 193.1h0m0 2.9h0m.1-7.3h0m.5-24.1h0m0 4.2h0m.1 47.1h0m.2 2.6h0m.1-30.4h0m.3 29h0m.1-11.5h0m.1-28.7h0m.2-6h0m.1-40.2h0m.4 11.2h0m.1-7h0m0 86.4h0m.1-64.6h0m.1 18.3h0m0 38.3h0m.1-54.1h0m0 25.3h0m.1-43.1h0m.1 63.4h0m.1-173.6h0m.1 109.3h0m0 65.6h0m.1-11.1h0m.1-14h0m.2-32.7h0m0 70.4h0m.3-39.2h0m.2 30h0m0 0h0m0 11.6h0m.3-62.4h0m.2-21.2h0m.1-37.5h0m.3 107h0m.1-119.2h0m0 87h0m.1-24.6h0m.4-18.3h0m0 69h0m0 21.9h0m.2-138h0m.1 95.4h0m.2-7h0m.2-173.3h0m0 222.5h0m.2-34.1h0m.1 12.7h0m.1 4.9h0m.1-237.7h0m.4 210.2h0m.2-103.5h0m.2 21.8h0m.2 69.9h0m0 5.7h0m.3-37.3h0m0 34.5h0m0 47.3h0m.1-77h0m0 37.3h0m.1-38.2h0m.1 76.9h0m.1-76.9h0m.3-62h0m0 115.7h0m.3 12.6h0m.1-80.3h0m0 68.4h0m.1-33.4h0m0 28.6h0m.4-14.9h0m.1-50.4h0m.1 13.2h0m.1-16h0m.1-22.4h0m0 99h0m.1-46.7h0m.3-95.6h0m0 113.2h0m0 30.4h0m.1-272.7h0m0 287.8h0m.1-40.5h0m.1 18.1h0m.1 33.2h0m.1-66.6h0m.1-29.4h0m0 18.4h0m.2 68.8h0m.1-103.8h0m0 79.4h0m.2 2.9h0m.3-15.5h0m.4-23.2h0m.2 15.3h0m.4 10h0m.1-75.5h0m0 94h0m.1-14.9h0m0 1.6h0m.3-54.3h0m.1-130.5h0m.1 100.2h0m.1 50.7h0m.5-59.5h0m0 74.1h0m.3 59.7h0m.2-47.2h0m.3-9.3h0m0 58.1h0m.3-50.2h0m.1 23.5h0m.1-40.4h0m.3 38h0m.1-56.8h0m.1 58.5h0m0 7.4h0m0 17.3h0m.2-103.4h0m.1-91.4h0m.1 170.8h0m.1 16.4h0m.1-28.7h0m.3-61.7h0m0 72.1h0m.2-46.9h0m.3-7.8h0m.4 13.7h0m0 60h0m.3-33.7h0m.3 20.6h0m.1-34.4h0m.2 40.9h0m.2-114.8h0m0 26.7h0m.1 26.4h0m0 9h0m.1-120h0m0 24.8h0m.1 133.6h0m.3-194.8h0m.1 199.1h0m.1-11.5h0m.1-117.1h0m.1 143.3h0m.3-32.9h0m.1-96.6h0m.1 121.2h0m0 5.3h0m.2-24.4h0m.2 22.9h0m0 15.2h0m.1-127.4h0m.1 103.3h0m.1 .1h0m0 6.4h0m.1-153.5h0m0 88.2h0m0 37.4h0m.3 17.3h0m0 8.1h0m.1-141h0m.1 146.6h0m.2-18.4h0m0 28.4h0m.2 5.9h0m.1-87.1h0m.3 77.7h0m0 6.1h0m.1-17.8h0m.1-69.1h0m0 7h0m.2-59.2h0m.1 23.3h0m.1 108.8h0m.1-154.7h0m0 36.2h0m0 28.8h0m0 85h0m.1-47h0m.1-12.6h0m.5 44.8h0m.5-97.3h0m0 2.8h0m0 66.1h0m.1-12.7h0m.3-192h0m0 20.4h0m0 241.9h0m.2-120.1h0m.4-49.3h0m.1 48.6h0m.1 80.1h0m.2-19h0m0 50.4h0m.1-16h0m.2-105.3h0m0 63.5h0m.3-91h0m0 61.3h0m0 87.8h0m.1-89.4h0m.1 22.5h0m.1-2.5h0m.2-1.8h0m0 11.9h0m.2 42.1h0m.1-48.7h0m.1-16.7h0m.1 79.7h0m.1 .9h0m.1-215.8h0m0 109.5h0m.1 18.7h0m0 84.4h0m.1-83.1h0m.1 94.7h0m.2-7.6h0m.2-30.9h0m0 41.2h0m.2-47.1h0m0 8.7h0m.1-85.4h0m0 99.8h0m0 19.5h0m.1 3.2h0m.1 .3h0m.1-63.1h0m.1 4.1h0m.1-63.6h0m0 73.6h0m.1 20.4h0m.1-164.2h0m0 60.7h0m.3 53.4h0m.4 66.3h0m.1-81h0m.2-45.1h0m.3 94h0m0 1.7h0m.1 1.5h0m0 0h0m.1-25.1h0m.1-21.9h0m0 55.4h0m0 32.1h0m.4-90.7h0m.3 64.5h0m.3-82.4h0m.2-19.2h0m0 82.7h0m.1-17.3h0m0 28.4h0m0 19.6h0m.1-90.2h0m.2 95.3h0m.1-76.8h0m0 13.7h0m0 19.8h0m0 .3h0m0 33.7h0m0 7.9h0m0 9.7h0m.2-3.7h0m.3-12.5h0m.1-37.7h0m.5-55.3h0m.1 1.2h0m.2 31.1h0m.1 80.2h0m.1-53.4h0m.2-29.6h0m0 33.9h0m.2-79.1h0m0 118.3h0m.1-124.5h0m0 91h0m.1-34.2h0m0 5.9h0m.3-43.3h0m.2-52.5h0m0 65.6h0m0 11.1h0m0 63.7h0m.3-58.3h0m.3 77.8h0m.3 6.5h0m.3-126.1h0m0 113.7h0m.2-75.9h0m.1 .2h0m.2-73.4h0m0 162.1h0m.1-36.1h0m.1 23.3h0m.1-32.6h0m.2-8.8h0m.3-80.1h0m.1-5.7h0m0 124.5h0m.2 6.1h0m.1-16.6h0m0 18.6h0m.2-167.8h0m.1 53.9h0m.2 93.5h0m.1-76.3h0m0 16.3h0m0 27.6h0m.1-26h0m.1 76.9h0m.1-23.5h0m0 12.9h0m.1-78.8h0m.2-39.1h0m.2-13.3h0m0 116.2h0m0 16.8h0m.1-178.5h0m.4 46.6h0m0 121.9h0m.1-91h0m0 74.2h0m.1-41.4h0m0 67.7h0m.1 19.1h0m.1-156.4h0m0 68.1h0m0 27.4h0m.1-79.2h0m.1-3h0m0 134.8h0m.1 8.4h0m.2-63.9h0m.1 23.6h0m.4-23.8h0m.3-66.1h0m0 38.6h0m0 53.2h0m.1-108h0m0 117.6h0m.1-13.6h0m.2-93.6h0m.1 127.1h0m.2-139.3h0m0 105.8h0m.1-45.1h0m0 72.5h0m.1-42.9h0m0 45.1h0m.1-93.1h0m.1 94.7h0m.1-58.6h0m.1-34.9h0m.2 79h0m.1-39h0m.1-238.1h0m0 292h0m.1-11.6h0m.1-47.8h0m.4-76.6h0m0 76h0m.2-8.7h0m0 .5h0m0 59.4h0m.2-10.9h0m.3-105h0m.1 61.4h0m.1-42.5h0m0 55.1h0m.1 32.6h0m.4-60h0m0 54.7h0m.1 28.8h0m.1-148.7h0m0 121.2h0m.2-14.1h0m.2 8.4h0m.2-176.2h0m.1 157.4h0m.1 36.9h0m.2 17.2h0m.3-47.4h0m.3-23.5h0m0 57h0m.1-119.3h0m.1 35.7h0m0 60.2h0m.1-23.8h0m0 54.1h0m.1-16.7h0m.2-52.5h0m0 15h0m.1-25.2h0m.2 79.7h0m.4-29h0m.1 3.8h0m.1 24.6h0m.6-85.6h0m0 66.3h0m.1-21.2h0m.1 29.1h0m.2-37.4h0m.1-50.5h0m0 72.5h0m.1 13.4h0m0 4.7h0m.1-79.9h0m0 75.1h0m.5-39.3h0m.2-29.5h0m0 56.7h0m0 13.4h0m.3-60.7h0m0 15.3h0m.1-114.3h0m0 127.4h0m0 48.8h0m.1-62.9h0m.1-46.6h0m.1 52h0m.4-60.5h0m.4 27.9h0m0 29h0m.1 25.9h0m.1-106h0m.4 141.3h0m.1-19.5h0m0 6.7h0m.1-57.6h0m0 40.8h0m.1-114.5h0m.2 88.3h0m0 9.8h0m.1-81.3h0m0 119.5h0m.1-162.5h0m0 123.9h0m.1 2.5h0m0 2.1h0m.1 5.2h0m.2-62.2h0m0 31.1h0m.1 44.7h0m.1-89.9h0m.2 28.5h0m0 20.9h0m.1 42.4h0m.1 26.8h0m.1-43.6h0m.2-41.8h0m.2 44.5h0m.1-11.9h0m.1-88.6h0m0 31.2h0m.2 44.7h0m0 21.6h0m.3-12.5h0m0 36.3h0m.1-112.5h0m0 103.1h0m0 23.4h0m.2-1.3h0m.2-97.8h0m0 41.9h0m.1 28h0m.1 30.4h0m.1-33.3h0m.1-105.5h0m0 74h0m0 27h0m0 17.8h0m0 13.4h0m.1-71.5h0m.5 7h0m0 30.1h0m.1-57.2h0m0 2.8h0m.1 27.5h0m.3-80.5h0m.1 134.3h0m.1 13.8h0m.1-131.7h0m0 40.9h0m.2 24.2h0m.1 61.5h0m.1-66.3h0m0 18.2h0m0 31h0m0 4.9h0m0 17.4h0m.1-79.9h0m0 23.4h0m.1-16.3h0m0 77.7h0m.3-4.7h0m.1-36.6h0m0 39.6h0m.1-24h0m.4-.6h0m0 24.9h0m.1-34.5h0m0 21.6h0m.1-34.9h0m.3 40.6h0m.2-75h0m.2-122.4h0m0 98.6h0m.1-58.8h0m.1 41.5h0m.1-.2h0m0 57.5h0m.1-45.5h0m0 97.3h0m.1-159.8h0m0 133.5h0m0 17.3h0m.4-206.9h0m0 43.5h0m.3 177.7h0m.1 9.6h0m.1-37.9h0m0 19.9h0m.4-79.4h0m0 33.5h0m.1-177.3h0m0 18.9h0m0 213.5h0m.3-17.1h0m.9-48.5h0m.4 25.2h0m0 26.3h0m.2-7.6h0m.1-80.3h0m0 89.7h0m.2-16.7h0m0 23.6h0m.2-158.7h0m.1 131h0m0 3.5h0m.2 20.2h0m0 18.1h0m.1-73.6h0m.1 22.9h0m.5-32.1h0m0 82.8h0m.2-114h0m.2 109.7h0m.1-122.9h0m0 9.5h0m0 104.6h0m.1-16.3h0m.1-86.7h0m.1 75.6h0m.4-35.8h0m.4-67.9h0m0 126.1h0m.4 13.8h0m.2-45.3h0m.3 14.4h0m0 8.4h0m.4 8.1h0m.3-7.7h0m.1-52.5h0m0 24.2h0m0 24.5h0m0 19.5h0m.5 2h0m.2-108.4h0m0 44.1h0m0 37.8h0m.1 36.6h0m.1-82h0m.1 59.7h0m.5 8.7h0m.1-124.2h0m.3 45.7h0m0 20.8h0m0 26.4h0m.2 24.5h0m.1-150.8h0m0 100.4h0m.2-64.9h0m0 83.4h0m.2-19.6h0m.1 44.8h0m.2-85.4h0m0 66.5h0m.2-75.8h0m.3 33.8h0m0 80.3h0m.1-22.1h0m0 13.1h0m0 14.9h0m.1-3.8h0m.1-79.1h0m0 24h0m.1-187.9h0m0 70.9h0m0 130h0m.2-58.9h0m.1 56.7h0m.2-137.4h0m0 160.7h0m.3-36.7h0m.1-45.9h0m.1 95.9h0m.3-91.7h0m.1 64.8h0m.1 33.1h0m.1-18h0m.1-16.2h0m.3 10.9h0m.1-100.4h0m0 49.6h0m.1 40.3h0m.1 1.6h0m.2-73.2h0m.2 59.7h0m0 1.1h0m.1-83.3h0m.3 110.4h0m.3-48.4h0m.2-35.3h0m0 7.5h0m0 85.7h0m.1-109.3h0m.1 101.9h0m.2 19.3h0m.1 2.5h0m.1-104.6h0m0 101.6h0m.1-75.3h0m0 33.2h0m.1-25.4h0m.1-13.3h0m.2 1.1h0m.1-6.5h0m0 77.1h0m.1-17.4h0m.2-36.3h0m0 13.8h0m0 49.6h0m0 1.7h0m.3-162.1h0m0 91.2h0m0 36.4h0m.1 16.7h0m0 6.8h0m.1-136.5h0m.1 64.3h0m0 3h0m0 30.3h0m0 11.7h0m.2 0h0m.1-13.2h0m0 38.5h0m0 3.3h0m.1 10h0m.3-20.3h0m.1-9.1h0m.2 15.3h0m.3-72.4h0m.3 62h0m.2-28.7h0m0 52h0m.4-86.1h0m0 .9h0m.1-14.5h0m.1 29.7h0m.4 32.5h0m.3 23.4h0m.3-132.3h0m0 40h0m0 35.5h0m0 9.4h0m0 18.8h0m.2-15.1h0m.3 49.2h0m.1-38.7h0m0 5.4h0m.1-81h0m.1 20.7h0m0 20.5h0m0 24.3h0m0 25.2h0m0 6.6h0m.4-22.5h0m.1-173.3h0m0 172.2h0m0 46.4h0m.1-6.7h0m.1-133.6h0m.4 31.9h0m.1 48.7h0m0 28.1h0m.1-66h0m0 60.7h0m0 41.2h0m.1-187.9h0m0 176.2h0m.3-138.5h0m.2 86.3h0m.2 36.8h0m.1 1.1h0m.2 7.3h0m.1-33.5h0m.1 30.7h0m.1-11.6h0m0 7h0m.2-10.9h0m.1-19.5h0m0 6.7h0m.1-116.4h0m0 128h0m.1-134h0m.3 72h0m0 62h0m0 26.5h0m.2-43.6h0m.4-43.4h0m0 13.2h0m.1-25.6h0m0 58.7h0m0 14.1h0m.1 5.7h0m.3-3.2h0m.1 29.4h0m.1-.1h0m.2-91.6h0m0 85.8h0m.3-120h0m0 38.1h0m.3 64.3h0m.2-98.4h0m0 118.7h0m.1-126.4h0m0 86h0m.1 17.5h0m.2 27.7h0m0 1.4h0m.2-4.4h0m.2-38.3h0m.1-66.2h0m0 50.8h0m.2 10.4h0m.2-129h0m0 138.4h0m.1 17.3h0m.2-40.2h0m.1-1.4h0m.3-45.3h0m0 23.7h0m.1-36.2h0m0 53.8h0m.2-192.2h0m.4 108.7h0m0 66.7h0m0 71.8h0m0 .6h0m.1-17.3h0m0 23.6h0m.1-127.4h0m0 10.6h0m.2 102h0m.4-132.7h0m0 74.1h0m.1-67.4h0m.1 146.5h0m.2-45.5h0m.3-111.7h0m.2 62.2h0m0 92.5h0m.1 4h0m.2-39.2h0m.1 23.9h0m.6 7.6h0m.4-41.7h0m0 33h0m0 9.2h0m.2-57.4h0m.3 28.1h0m.2 7.6h0m0 10.8h0m.2 7.7h0m.3-107.7h0m0 13.7h0m.1 7.4h0m0 41.9h0m.1 17.3h0m.1-42.2h0m0 63.8h0m0 11.1h0m.2-69h0m.1-72.6h0m0 35.7h0m0 49.9h0m.1-22.2h0m0 53.2h0m.1-74.6h0m.2 85.1h0m.2-87h0m.2 64.1h0m.2-5h0m0 14.6h0m0 22h0m.1-100.2h0m.1-13.6h0m.4 18.2h0m0 90.4h0m.4-67.9h0m.2 71.3h0m0 9.3h0m.1-84.7h0m0 1.2h0m0 69.7h0m.1-97h0m.2 68.6h0m0 38.2h0m.2-115.6h0m0 79.1h0m0 39.1h0m.2-13.6h0m.2-2.1h0m0 6.6h0m.1-13.3h0m.1-82.6h0m0 18.6h0m.1 91.3h0m.2-1.4h0m.1-123.3h0m.1 31.4h0m.1 13.8h0m.1-64.1h0m0 128.6h0m.1-4.5h0m.1-116.2h0m0 18.8h0m.7 59.8h0m0 51.5h0m.2-171.2h0m0 105.6h0m0 60.8h0m.1-133.7h0m0 67.2h0m.1-70.9h0m0 110.6h0m.1-35.5h0m0 37.5h0m.1-129h0m.2 89.5h0m.1 59.2h0m0 15.3h0m0 1.9h0m.2-14.5h0m.1-130.8h0m0 70.1h0m0 18.1h0m0 28.3h0m.1 6.3h0m0 20.8h0m.1-2.3h0m0 4h0m.1-104.1h0m0 55.4h0m.2-77.2h0m0 7h0m0 72.7h0m.4-54.3h0m.1 99.9h0m.4-8.4h0m.4-47.8h0m.1-42h0m.4 42h0m.1 28.5h0m.3-73h0m.2 81.2h0m.1-233.6h0m0 224.5h0m.1-113.6h0m0 55.9h0m.1 15.3h0m.2 51.4h0m.2-28.5h0m0 28.9h0m.3 .3h0m.1-318.2h0m.1 336.4h0m.3-55.5h0m.1-31.7h0m0 79.6h0m.2-74.9h0m.2-143.2h0m0 153.9h0m0 9.7h0m0 11.6h0m0 35.3h0m.1-95.8h0m.2 6.6h0m0 38h0m.3-45.5h0m0 107.2h0m.4-69.1h0m0 5.8h0m0 52.3h0m.1-160h0m.1 90.3h0m.1 70.9h0m.1-33.8h0m.1-143.9h0m0 88.2h0m0 36.6h0m0 40.9h0m.1-2.5h0m.2-78.4h0m0 48.5h0m.1-97.3h0m0 33.6h0m0 76h0m.2-3.3h0m.3-59.5h0m0 61.9h0m0 1h0m0 24.9h0m.2-146h0m0 74.3h0m0 43.3h0m.4-41.6h0m.2 59.9h0m0 3.2h0m0 26.1h0m.1-39.5h0m.3-48.3h0m.1 7.3h0m.1 25.6h0m0 57.5h0m.1-34.2h0m0 9.4h0m.1-27.5h0m0 13.7h0m.1-8.6h0m.1 31.2h0m.2-196.3h0m0 197.3h0m.2-4.3h0m.1-97.5h0m0 26.4h0m0 89.4h0m.1-77.9h0m.1 54.9h0m.2-19.1h0m.1-37.2h0m.1-20.1h0m.2-84.4h0m.1 110.8h0m.2 15.9h0m.1 13.4h0m.1-10h0m.1 31.8h0m.1-.3h0m.1 9.4h0m.2-80.4h0m0 70.9h0m.2 18.3h0m.3-16.5h0m.1-104.7h0m0 112h0m.1-29.5h0m.4-28.8h0m.1 23.9h0m.1 25.5h0m.1-86.7h0m.3 78h0m.1-16.3h0m.3-38.4h0m0 57.6h0m.1-63.9h0m.1-43.6h0m0 63.1h0m.4-5.5h0m0 38.1h0m.1-11.1h0m0 36.8h0m.1-41.3h0m.1-82.1h0m0 120.8h0m.2-57h0m.1 19.3h0m0 25.5h0m0 12.7h0m.3-26.9h0m0 9.2h0m.1-49.2h0m0 69.2h0m.3-105.4h0m.1 62.4h0m.1-51.6h0m0 58.4h0m.3-2.5h0m0 28.6h0m.1-83.7h0m0 90.7h0m.1 7.5h0m0 .4h0m.1-77.3h0m.2 56.5h0m.5-43h0m0 74.8h0m.2-48.2h0m0 14.7h0m.1-5.5h0m.4-50.2h0m.1-9.8h0m0 61.7h0m.1-42.4h0m0 64.5h0m.2-153.9h0m.2 75.2h0m.1-21.7h0m0 68.6h0m0 23.1h0m.1-44h0m.1-10.5h0m.3-15.4h0m0 31.5h0m0 3.9h0m.1-34.6h0m.1-3.2h0m.1-138.3h0m.1 218.3h0m.2 14.5h0m.1-127.6h0m0 18.7h0m.1 20.4h0m.1-122.7h0m.1 145.8h0m0 27.8h0m.2 29h0m.1-11.7h0m.1-148h0m.1-17.4h0m0 125.6h0m.1 12.2h0m0 5.6h0m.2-42.8h0m.1-53.2h0m.2 97.1h0m.2-10.4h0m.3 47.8h0m.1-107.7h0m0 98h0m.1-181.1h0m0 77.2h0m0 46.1h0m.1-29.7h0m.1 54.9h0m0 37.8h0m.1-57.2h0m0 51h0m.2-46.1h0m0 53.2h0m0 5h0m.1-17.2h0m0 11.1h0m.1-85.6h0m.1-26.2h0m0 19h0m0 41.4h0m.1-17.6h0m0 74.4h0m.2-23.8h0m.1-4.3h0m.1-111.3h0m0 112.5h0m.2-131.8h0m.2 74.6h0m0 76.8h0m.1-8.3h0m.3-128.7h0m.3 123.7h0m.1-70h0m.2 73.6h0m.1 1h0m.4-3.9h0m.1-111.8h0m.2 64.6h0m.4-91.8h0m.1 141.9h0m.1-11.5h0m0 9.9h0m.1-102.8h0m0 103.5h0m.2-105.1h0m0 111.8h0m.2-14.5h0m0 3.2h0m.1-128.2h0m0 106h0m0 36.5h0m.4-68.5h0m0 2.4h0m0 58.7h0m.3-19.4h0m0 17.8h0m0 6.1h0m0 14.7h0m.1-28h0m.1-93.7h0m.1 11.4h0m0 45.6h0m.3 33.7h0m0 18.6h0m.1-10.7h0m.2 7.8h0m0 1h0m.1-51.9h0m0 19.6h0m.2-68.4h0m.2 32.2h0m.1 35.8h0m.3-67h0m0 114.1h0m.1-42.5h0m.2 36.3h0m0 5.1h0m.1-62.4h0m.2-51.4h0m0 14.6h0m0 21.3h0m.1 39.1h0m.1-13.7h0m0 14.2h0m0 15.5h0m.1-9.6h0m.1 9.8h0m.2 14.6h0m.1-13.1h0m.4-123.9h0m.3-3.1h0m.3 139.5h0m.1-103h0m0 54.8h0m.1 42.9h0m.1-21.4h0m.1-21.9h0m.2-40.9h0m.3-149.9h0m0 100.8h0m0 107.4h0m0 6.5h0m.1-97h0m0 43.8h0m.3-46.1h0m0 77.5h0m.1-52.1h0m0 36.7h0m0 16.5h0m0 7.5h0m.1-27.6h0m.2 62.4h0m.1-193.7h0m.1 206.6h0m.1-80.8h0m.1 49.2h0m.2-166.3h0m.1 55.5h0m0 97.1h0m.2 15.8h0m.1-7.9h0m.4 24.3h0m.2-73.2h0m.1 56.9h0m.1-10.3h0m.2-72.5h0m.1 87.1h0m.2-167.9h0m0 143.6h0m.1 28.1h0m.1-45.9h0m.1 9.7h0m0 39.1h0m0 5.1h0m.1-117.1h0m.1 83.6h0m0 7.6h0m.3-49.9h0m.1 23.7h0m0 44.9h0m.1-77.8h0m0 25.6h0m.1 54h0m.1-105.5h0m0 91.3h0m0 0h0m.1 .3h0m0 18.6h0m.1-30.2h0m.1 10.1h0m.2-25.7h0m0 24.8h0m.1-50.2h0m0 71.5h0m0 1.2h0m.1-30.1h0m.1 2.8h0m.1 1.5h0m.1-30.8h0m.3-23.1h0m.1-29.6h0m0 9.1h0m0 78.2h0m.3-19.1h0m0 15.3h0m.3-21.7h0m.5 4.8h0m.1 37.6h0m.1-40.2h0m0 38.6h0m.5-45.8h0m0 40.8h0m.3-143.3h0m0 109.5h0m.1-66.7h0m.2 59.7h0m.1 21.2h0m.1-39.3h0m0 51.6h0m.1-38.9h0m0 23.6h0m0 .2h0m0 38.9h0m.2-77.5h0m0 67.8h0m.2 10.6h0m.2 1.6h0m.1-76.7h0m0 46.8h0m.2-64h0m0 95.3h0m.2-89.8h0m0 76.9h0m.1-95.6h0m0 66h0m0 0h0m.4-51h0m.1 15.2h0m.2 47.5h0m.1-75.6h0m0 8.3h0m0 74.5h0m.2-18.9h0m0 22.4h0m0 24h0m.2-21.8h0m.3-47.9h0m.2 34.8h0m.1 9.6h0m.4-55.2h0m0 42.6h0m0 10.7h0m.1-54.9h0m.2 40.7h0m0 15.1h0m.1-11.6h0m0 21.3h0m.2-49.9h0m0 42.4h0m.1-56.1h0m.1 15.3h0m.2 24.9h0m.1-144.9h0m.1 149.7h0m.1-28.3h0m0 7.1h0m0 53.3h0m.4-153.7h0m0 84.8h0m.2 23.6h0m.3-50.1h0m.1 11h0m.1-106.9h0m.1 100.6h0m.1 52h0m0 .2h0m.1-57.5h0m0 77.3h0m.2-54.6h0m.1-16.8h0m0 61.1h0m0 21h0m.1-156h0m.1 77.7h0m0 33.8h0m.1 25.5h0m.4-62.8h0m0 21.1h0m0 51.1h0m.1 14h0m.1-93.6h0m0 89h0m.1-10.8h0m.3-20.4h0m.2-24.4h0m0 40.2h0m.1 22.1h0m.1-61.1h0m0 64.8h0m.1-20.5h0m0 4.7h0m.2-79.3h0m.1 94.4h0m.4-48.5h0m.1 48.1h0m.1-35.7h0m.2-18.5h0m.3 32.2h0m.1-11.5h0m.2-57.3h0m.1-33.8h0m0 54.3h0m.2 32.5h0m.1-74.8h0m0 87.2h0m.1-117.3h0m0 53.1h0m.1 67.9h0m.1-21.5h0m.2 36h0m.1-70.1h0m0 18h0m.3-62.1h0m0 47h0m.2-18.6h0m.1 79.5h0m.1-123.6h0m0 41.5h0m0 70.3h0m.1-95.2h0m.1 70h0m0 7.7h0m.1 19.8h0m.1-61.8h0m.3 7.3h0m0 46.3h0m.2-32.1h0m0 41.5h0m0 16.1h0m.1-30.4h0m.2-88.1h0m.3 46h0m.3 28.6h0m.1-10.5h0m.1-30.6h0m0 82.8h0m.1-56.6h0m0 53.7h0m.2-95.1h0m0 28.8h0m.1 26.7h0m0 34.3h0m.3-1.5h0m.3-113.4h0m0 79.9h0m.1-6h0m0 35.8h0m0 22h0m.1-30.4h0m.1-30.3h0m0 13.2h0m.1 31.6h0m.3 12.3h0m.2-54.4h0m.1-41.1h0m0 40.8h0m.1-42.7h0m0 40.3h0m.1-155.1h0m.1 162.1h0m0 55.8h0m.3-100.7h0m0 8.9h0m.1 85.1h0m.4-34.5h0m.1 13.2h0m0 6.5h0m.2-57.9h0m.1 40.8h0m0 36h0m.2-117.6h0m0 36.2h0m.1 18.5h0m.1-141.1h0m0 88.1h0m.1 31.8h0m.2 70.1h0m.1-87.2h0m0 11h0m0 87.3h0m.1-35.4h0m.1-44.1h0m.2 67.6h0m.1-85.6h0m.5 40.6h0m0 40.8h0m.6 5h0m.1-30.1h0m.2 5h0m.2 23.2h0m0 2.7h0m.1-36.1h0m0 36.1h0m.1-78.8h0m.1 83.2h0m.1-37.3h0m0 42.1h0m.1 6.8h0m.1-124h0m0 17.7h0m.1 52.4h0m0 20.9h0m0 13.5h0m.1-49.4h0m0 68.4h0m.1-91h0m.2-21.8h0m.2 100.7h0m.1-7.1h0m0 17.5h0m.1-155h0m.2 90.1h0m.3 33.8h0m.1 18.7h0m.1 6.8h0m.3-50.1h0m.2-52.1h0m.1-40.1h0m.2 100.1h0m0 27h0m.3-99h0m.1 74.8h0m0 16.7h0m0 2.8h0m.2-98.4h0m0 122.4h0m.1-190.8h0m.1 142.6h0m.1-10.2h0m.1-45.4h0m.1 64.7h0m.4-65.8h0m.1-27.8h0m.1-103.1h0m0 128h0m0 36.3h0m0 53.8h0m.1 13.2h0m.1-60h0m.2-17.6h0m0 60h0m.3-63.2h0m.2-32.6h0m0 39.7h0m.2-34.4h0m.4 103.7h0m.1-23.3h0m.1-53.5h0m.1 73.8h0m.1 .6h0m.1-92.7h0m0 53.9h0m0 25.1h0m.1-80.2h0m0 31.4h0m0 39.4h0m.2 25.6h0m.2-9.5h0m.1-54.5h0m.2-27.8h0m0 77.4h0m.1-72.8h0m0 79.3h0m.4-30h0m.1 34.3h0m.1-38.3h0m.3-39.3h0m.1-28.5h0m.2 69.7h0m.1 19.8h0m.2-43.2h0m0 55h0m.1-165h0m.1 61.8h0m0 91.6h0m.2 28.8h0m.2-54.3h0m.1-9.7h0m.1-36.9h0m0 63.3h0m0 34.9h0m.2 .2h0m.1-121.2h0m0 87.1h0m.2-58.4h0m.3-28.3h0m.2 27h0m0 56.3h0m.1-54.4h0m0 43.2h0m0 3.5h0m0 34.2h0m.2-104.2h0m0 85.1h0m.1 27.2h0m.1-48.7h0m0 13.7h0m.1-62.1h0m0 64h0m0 31.6h0m.3-165.6h0m0 82h0m0 42.5h0m.1 37h0m0 .9h0m0 2.9h0m.1-37.6h0m.2-45.6h0m0 63.4h0m.4-59.2h0m.1 .7h0m0 62.7h0m.1-13.9h0m.1-65.3h0m.3 20.1h0m.2 56.9h0m.3 23.8h0m.1-60.2h0m0 10.1h0m.3-175.4h0m0 153h0m.2 59.7h0m.1-26.6h0m.4-70.9h0m.3 75.2h0m.1-41.4h0m.1 28h0m0 33.2h0m.1-86.7h0m0 55.2h0m0 33.3h0m.4-24.4h0m.2-51.7h0m0 12h0m0 63.2h0m.1-51.5h0m.1-37.7h0m0 81.8h0m.2-2h0m.1-39h0m0 3.6h0m.1-37.3h0m.2-.8h0m0 55.3h0m.4 45.8h0m.1-28.4h0m.2-121.5h0m.3 101.2h0m0 21.6h0m.3 16.6h0m.1-43.1h0m.2 22.2h0m.1-59h0m.1 30.5h0m0 12.7h0m0 33.2h0m.2-54.6h0m.6 59h0m.1-23.2h0m.2-22.6h0m.1-9.9h0m.1-11.5h0m0 56.6h0m.6-45.3h0m0 45.7h0m.1-62.4h0m.1-75.1h0m0 109.5h0m0 21.7h0m0 8.8h0m.4-21.3h0m.2 17.3h0m.1-73.7h0m.1 4.6h0m.1 2h0m0 59.8h0m.1-22.5h0m0 6.9h0m.2-84.8h0m.1 94.2h0m.1-36.6h0m.1 28.1h0m.1 4.7h0m0 20.6h0m.3-35h0m.1 13.7h0m.1-.3h0m0 13.1h0m.2-27h0m.3-9.1h0m.1-58.9h0m.1 84.3h0m0 6.6h0m0 29.7h0m.1-128.7h0m0 102.7h0m.1-6.5h0m.1-22.6h0m.4-58.2h0m0 62.4h0m.1-47h0m0 21.8h0m.2 11.7h0m.1-57.6h0m.1 113.7h0m.1-102.1h0m.1 45.6h0m0 63.3h0m.2-186.2h0m0 31.2h0m0 95.9h0m.1-28.7h0m.1-48.9h0m0 33.5h0m0 71.7h0m.2-173.7h0m0 168.3h0m0 32.7h0m.2-36.1h0m0 7h0m0 2.2h0m.1 15.3h0m.2-60.4h0m0 27.7h0m.1 7.9h0m.3-6.4h0m.1 37.3h0m.1-151.1h0m.2 41.4h0m.1-48.8h0m.1 83.5h0m.1-15h0m0 19.1h0m.1 75.5h0m.5-111.1h0m0 94.7h0m.3-114.9h0m.6 26.9h0m.2 89.8h0m.4-61.9h0m.1-138.7h0m0 200.9h0m.1-143.9h0m.2 160.1h0m.1-5.5h0m.1 1.8h0m.1-89.1h0m0 30.2h0m.1 51h0m.5-4.8h0m0 .6h0m.2-43.1h0m0 7.7h0m.1-28h0m.1-37.5h0m0 107.3h0m.1-46.2h0m.1 1.6h0m0 12h0m.1-39.6h0m0 47h0m.1 15.7h0m.2 15.7h0m.1-54.1h0m.1 36.4h0m.6 13.6h0m.2-6.6h0m.2-38.8h0m.1-103.1h0m.1 59.7h0m0 68.9h0m.5-29.3h0m.1 61.8h0m.2-72.9h0m0 47h0m0 26h0m.4-54.1h0m.1-42.8h0m0 44.3h0m0 50.7h0m.2-93.9h0m0 94.9h0m.2-46.5h0m0 15.2h0m.2 4h0m.1-127.8h0m.3 29.4h0m0 123.5h0m.1-24.9h0m.1-41.4h0m0 10.9h0m0 3.2h0m.1 9.5h0m.2-54.8h0m.2 70.9h0m.2-267.9h0m0 156h0m0 128h0m.1-19.2h0m.1-19.7h0m0 4.1h0m0 29.4h0m.1-65.6h0m0 45.4h0m0 3.2h0m.1-43h0m0 73.4h0m.1-15.5h0m.3 4.8h0m.1-91.6h0m0 42.3h0m.1 20.5h0m0 18.9h0m.2-55.3h0m0 49.5h0m.1 3h0m.2-91.4h0m0 40.4h0m.1 62.8h0m.1-70.5h0m0 47.7h0m0 6.4h0m0 21.6h0m.1-28.5h0m0 8.8h0m0 12.5h0m.1 11.3h0m.1-66.7h0m.1-96.7h0m.1 171.3h0m.4-161.6h0m0 62.1h0m.3 47.5h0m0 .3h0m0 31h0m.1-118.3h0m0 134.8h0m.3 5.4h0m.1-121.8h0m.1 107.3h0m.1-29.7h0m.1 28.7h0m.1-49.7h0m.1-37h0m0 6h0m0 30.3h0m0 27.3h0m0 17.1h0m0 6.7h0m0 12.1h0m.3-112h0m0 91.3h0m.1 17.5h0m0 .2h0m.1-73.8h0m.2-21.7h0m.1 39.6h0m0 55h0m.2-68.3h0m.1 17.8h0m0 56.2h0m.1-85.2h0m.3 17h0m0 17.7h0m0 10.4h0m0 3.2h0m.2 26h0m.5-1.5h0m0 9.2h0m.3-85.5h0m.2 71.9h0m.2-80.9h0m.1-19.3h0m0 .5h0m.2 99.1h0m.2-72.9h0m.1 31.6h0m.2 25.9h0m.1-82.9h0m0 59.2h0m0 21.3h0m.2 2h0m.2-116.3h0m.1 123h0m.1-186.8h0m0 191.5h0m.1-128.8h0m0 93.7h0m0 54.3h0m.1 .9h0m.2 2h0m.2-14.1h0m.4-98.1h0m.1 12.5h0m.1 54.4h0m.2-62.2h0m0 50.9h0m.1-55.1h0m0 6.2h0m.1 49.5h0m.1-49.7h0m.1 72.6h0m.1-70.5h0m0 85h0m0 17.5h0m.1-14.6h0m.1-115.2h0m0 60.2h0m0 18.2h0m.3-67.7h0m.4 5.4h0m.3 111.9h0m.1-48.5h0m.1 37.4h0m.2-16.3h0m.1-28.3h0m0 45.7h0m.3-54.8h0m.2-5.7h0m0 14.9h0m.5-41.2h0m0 8.2h0m.2 47.5h0m.4-44.7h0m.2-4.4h0m.2 42.1h0m.5-26.7h0m.1-67.4h0m0 100.8h0m.1-32.4h0m.1-8.7h0m.1 4h0m.1 28.6h0m.2-69.7h0m0 12.4h0m0 105.7h0m.2-116.1h0m0 32h0m.1 .5h0m.3-5h0m.1 11.2h0m.2-2.1h0m.1 77.9h0m.2-67.8h0m.1-42.6h0m0 24.8h0m0 66.4h0m0 21.2h0m.1-101.2h0m0 102.9h0m.1-138.1h0m0 94.8h0m0 15h0m.1-135.1h0m0 151.6h0m.2-37.8h0m.1-30.7h0m.5 53.7h0m.1-73.7h0m0 99.4h0m.2-41.5h0m0 5.8h0m.2-10.8h0m0 24.9h0m0 3.1h0m.1-46h0m.2 47h0m.1-36.9h0m.1 17h0m.2-128.5h0m0 112.8h0m.2-29.8h0m0 39h0m0 11.2h0m.3-75.1h0m.2 27h0m.1 65.7h0m.1 9.9h0m.3-56.8h0m0 42.2h0m.3 10.8h0m.1-138.5h0m0 140.2h0m.1-100h0m0 28.2h0m0 75.2h0m.2-48.6h0m.1-3.7h0m.5-18.5h0m.2 57.2h0m0 18.7h0m.2-18.4h0m.1-7.8h0m.1-8h0m0 2.5h0m.2-106.3h0m0 2.1h0m0 99h0m0 10.5h0m.1-10.3h0m.1-9.8h0m0 .5h0m0 46.5h0m.1-65.4h0m0 5.2h0m.2-190.3h0m.1 146.1h0m.1 22.7h0m0 18.1h0m0 6h0m0 36.5h0m.2 6.4h0m.2-66.9h0m0 5.6h0m0 10.3h0m.1 59.4h0m0 3.9h0m.1-30.7h0m0 27.7h0m.1-27h0m.9-12.2h0m.2-18.2h0m0 19h0m0 19.4h0m.1-93h0m.1 28.6h0m.1 17.1h0m.2-197.2h0m0 249.2h0m.1-63.9h0m0 17.4h0m.1-39.1h0m.1 4.3h0m.1 12.5h0m0 62h0m0 24.1h0m.1-122.2h0m.2 43.2h0m.1-4.9h0m.2 60.7h0m.2 16.1h0m.1-89.7h0m0 5.8h0m0 88.6h0m0 5.8h0m.3-25.6h0m.1-92h0m.1-4.2h0m0 26.6h0m0 40.5h0m0 41.5h0m.3-5.5h0m.1-167.9h0m.3 159.7h0m.1-107.8h0m.1 7.6h0m.2 74.1h0m0 12.7h0m.1-87.4h0m0 10.9h0m0 44.9h0m.2 44.6h0m.2-91.5h0m0 48.8h0m.1 35.6h0m0 .1h0m.1-48.3h0m0 75.3h0m.1-57.5h0m.2-34.4h0m0 81.4h0m.1-2.3h0m.2-68.5h0m0 65.2h0m.2-3.2h0m.1-73.7h0m.1 62h0m.3-47.1h0m.1 18.9h0m0 17h0m0 49.3h0m.4-.8h0m.2-83.7h0m0 62.5h0m.2-107.5h0m.2 63.2h0m.3-102h0m0 164.3h0m.2-107.6h0m.1 54.3h0m0 28.1h0m.6-19.7h0m.1 19.7h0m.1-9.3h0m0 22.2h0m.2 2.1h0m.1-95.3h0m.2-121.4h0m0 96.3h0m0 27.1h0m.1 5.2h0m.2-58h0m.1 121.3h0m0 25.6h0m.1-101.2h0m0 79.4h0m.2-156h0m.1 157.2h0m0 10.2h0m.1-145.4h0m.1 96.8h0m0 30.2h0m.1-43.2h0m.1 26.4h0m0 12h0m0 40.8h0m.1-34.5h0m0 7.1h0m.1-96.6h0m.2 66.2h0m0 9.8h0m0 27.1h0m0 19.6h0m.2-128.6h0m.4 102.3h0m0 .4h0m0 23.7h0m.2-8.7h0m.2-76.8h0m.1 77.4h0m.1-64.7h0m0 65h0m.1-80.7h0m0 66h0m.1-90.8h0m.3 41.5h0m.1 49.9h0m.5-44.5h0m.1 26.2h0m.1-30.4h0m0 38.2h0m.2-57.7h0m.1 92.2h0m.1-75.3h0m0 20.6h0m.1 45.3h0m.1-29.4h0m0 24.7h0m.1-11.5h0m.2-29.6h0m.2 16.2h0m.1-49.7h0m.1 44.8h0m.1-53.6h0m.2 50.9h0m.1 48.6h0m.3-14.6h0m.1-86.7h0m.1-71.1h0m.3 142.6h0m.1-50.8h0m.4 3.7h0m0 38.6h0m.1-49.5h0m.2 82.5h0m.1-104.4h0m0 109.5h0m.3-138.6h0m0 6h0m0 64.7h0m0 59.1h0m.1-30.1h0m0 46.1h0m.1-52.8h0m.2-93.4h0m0 143.2h0m.2-46.7h0m.2-109.7h0m.1 139.9h0m.1-145h0m0 64h0m.1-49h0m0 35.1h0m0 85h0m.1-76.5h0m0 90.8h0m.2 .8h0m.3-82h0m0 20.2h0m.1-5.1h0m0 25.7h0m.1-41.4h0m.1 4.2h0m.1 66.2h0m.1-90.1h0m.1 97.9h0m.1-164.4h0m0 109.2h0m.2 2.2h0m0 1.7h0m0 19h0m.2-9.7h0m0 33.5h0m0 24.7h0m.1-50.8h0m0 11.5h0m0 31.2h0m.2-71.7h0m0 27.2h0m.1-27.4h0m.3 49.5h0m0 27.7h0m.1-90.4h0m0 80.7h0m.2-22.2h0m.1 11.2h0m.1-86.5h0m0 89.2h0m0 3h0m0 5.8h0m0 6.1h0m.1-75h0m.3-13.2h0m.2 4.4h0m.3-41.5h0m0 104.8h0m0 4.3h0m.1-48.8h0m.1-5h0m.2 58.1h0m.2-42.7h0m.2 58.6h0m.2-74.6h0m0 45.6h0m.1 11h0m.1-25.5h0m0 4.5h0m0 4.2h0m0 12.5h0m.1-8.2h0m.1-56.6h0m.1 82.3h0m.1-50.6h0m.1-10.3h0m.2-29.8h0m.1 79.2h0m.1-149h0m.1 69.2h0m.1 50.9h0m0 25.1h0m.5-78.5h0m.1-5.8h0m.1-1.1h0m0 8.5h0m.1 32h0m.2 56.4h0m.2-142.6h0m0 100.5h0m.1-107.6h0m.1 95.4h0m0 29.2h0m0 19.9h0m0 14.3h0m.2-62.1h0m0 37.4h0m.1-74.5h0m0 93.1h0m.2-87.3h0m.1 29.4h0m.3-21.9h0m0 83.3h0m.1-88.7h0m0 49h0m.1 26.4h0m.1-30.8h0m.1-125.9h0m0 132.8h0m0 37.7h0m.2-52.6h0m.4-69.7h0m0 14h0m.1-15h0m0 121.8h0m.1-166h0m0 29.6h0m0 60.9h0m.3-37.2h0m.1 2.8h0m0 60.7h0m0 43.6h0m.1 10.3h0m.1-21.6h0m.1-27.4h0m.2-38.3h0m.5 48.4h0m.3-16.4h0m.2-112.3h0m.1 142.9h0m.1-103.8h0m.2 107.1h0m.3-101.8h0m0 69.9h0m0 10.2h0m0 10.9h0m.3-90.7h0m0 85.7h0m.1-93.3h0m0 132.3h0m.1-67.5h0m.1 60.8h0m.2-10.1h0m.1-111.6h0m.1-91.9h0m0 137.5h0m.1-62.2h0m.1 46.7h0m0 67.3h0m0 11.9h0m.1-11h0m0 20.7h0m.1-47.7h0m0 48.4h0m0 8.5h0m.2-155.4h0m.1 111.5h0m.4-58.9h0m.1 76.7h0m.1-107.1h0m0 107.3h0m.2-35.5h0m.4 48.3h0m.2-71.5h0m.1-17.3h0m0 65.2h0m0 14.5h0m.2-67.3h0m.1-3.9h0m0 67.6h0m.1 19.2h0m.3-13.6h0m.1-38h0m.1-81.3h0m0 58.4h0m0 79.8h0m.2-107.4h0m0 29.7h0m.1 26.6h0m.1-22.6h0m0 43.9h0m.1 17h0m.3 8.6h0m.1-59.7h0m0 8.3h0m0 19.3h0m.1-6.3h0m.3-57.3h0m.3 33.8h0m.4-53.8h0m0 75.1h0m.2-72.2h0m0 84.3h0m.1-46.2h0m0 2.9h0m0 51.1h0m.2-147.8h0m.2 90.3h0m.1 35.1h0m0 10.3h0m.1-37.5h0m.1 40.4h0m.2-18.8h0m0 53.8h0m.1-33.4h0m0 17.8h0m.1-37h0m.1 20.3h0m.1-83.2h0m.1 75.5h0m0 18.5h0m0 6.3h0m0 16.6h0m.1-49.5h0m0 37.7h0m.3-5.9h0m.1-90.9h0m.2 91.1h0m.2-155.7h0m0 21.4h0m0 43h0m0 41.1h0m0 62.6h0m.1-15.7h0m.1-40h0m0 5.7h0m.2-117.6h0m.2 54.2h0m0 34h0m0 27h0m.1-49.8h0m.3 58.3h0m.2-142.4h0m0 92.6h0m0 26.3h0m0 58.3h0m.2-9.2h0m.3-73.2h0m0 72.2h0m.2-49.5h0m0 30.5h0m.1-49h0m0 58.8h0m.1-174.9h0m.2 58.2h0m0 95.4h0m.1 9.3h0m.1-125.8h0m0 98.2h0m0 25.1h0m.2-11.2h0m0 42.5h0m.1-155.2h0m.3 109.4h0m.1-112.6h0m.2 121.7h0m.1-31.6h0m0 63h0m.1 7.6h0m.1-79.4h0m.1 46.3h0m0 26h0m.2-15.2h0m0 16.8h0m.1-63.8h0m0 48.3h0m.1-40h0m.3 25.1h0m0 2.5h0m0 8.6h0m.1-102h0m.1 120.4h0m.1-142.3h0m0 99h0m.2 4.9h0m.3-67.1h0m.1 118.2h0m.1-31.6h0m.1-30.5h0m.3-112.6h0m0 98.4h0m.2 25.7h0m.5-18.8h0m0 56.4h0m0 20.1h0m.1-97.5h0m.1-68.1h0m0 149.7h0m.1-29.2h0m.3-35.2h0m0 56.6h0m.2-45.6h0m0 43.6h0m.1 23.7h0m.1-43.7h0m.2-7.3h0m.2-22.7h0m0 42.2h0m.1-2.2h0m.1 36.2h0m.5-71.4h0m.3-80.4h0m.4-16.2h0m0 83.4h0m.1 14.7h0m0 47.2h0m.2-33h0m0 22.6h0m.1-66.1h0m0 30.6h0m.1 43h0m.5-49h0m0 33.4h0m.4 12.1h0m.2-5.4h0m0 14.6h0m.1-135.1h0m.3 126.6h0m.2-30.8h0m.1-19.8h0m0 62.4h0m.1-105.5h0m.1 118.3h0m.1-9.1h0m.1-59.2h0m0 1.3h0m.1-29.3h0m.1-32.2h0m0 90h0m0 2.6h0m.1 2.4h0m.2-35.9h0m.1-31.2h0m.3 64.5h0m.3-67.7h0m0 73.8h0m.2-178.8h0m0 192.9h0m.1-105.7h0m.1 19.9h0m0 93.4h0m.1-106.5h0m0 14.4h0m0 8.3h0m.2 10.8h0m.3 66.4h0m.1-184.4h0m.1 165.2h0m.1 2.4h0m.4-134.5h0m.1 138.6h0m.1-10.9h0m.1-5.9h0m.1-30.5h0m.2 3.5h0m.4 44.2h0m.1-20.8h0m.2 40.1h0m.1-30.6h0m.2-103.5h0m0 99.5h0m.1 25.3h0m0 19.5h0m.2-97.2h0m0 36.3h0m.1 14.4h0m.2-33.1h0m.4-41.8h0m.1 65.4h0m.1-14.8h0m.2 40.1h0m.2-3.6h0m0 3.6h0m.7 13.1h0m0 3.1h0m.1-.6h0m.2-43.7h0m.1 54.7h0m.1-71.9h0m.1 43.2h0m0 6.5h0m0 22.1h0m.1-84.1h0m.1 7.2h0m.1-47.1h0m0 25.2h0m0 104.4h0m.5-128.4h0m0 69.8h0m0 31.2h0m.6-108.9h0m0 129.7h0m0 7.4h0m.1-139.4h0m0 132.4h0m.1-52.7h0m.3-16.8h0m0 28.1h0m0 11.4h0m.1-51h0m0 4.8h0m.2 40.8h0m0 26.5h0m0 13h0m.2-79.3h0m.2 41.4h0m.1 11h0m.1-27.8h0m0 37h0m0 15h0m.1-38.8h0m.4 32.2h0m.1-124.6h0m0 18.4h0m0 41.2h0m.4 10.4h0m.2-25.8h0m.1 69.4h0m.3 16.4h0m.1-58.7h0m.3-10.1h0m0 18.8h0m0 8.2h0m.2-12.3h0m.1-4.2h0m.2 33.2h0m.2-76.5h0m.3 79.5h0m.3-123.6h0m0 69.5h0m0 74.7h0m.1-146.4h0m.1-76.4h0m0 61.6h0m.1 75.8h0m.1-10.9h0m.1 61.5h0m.2 .9h0m.2 23.9h0m.1-18.2h0m.1-63.7h0m0 75.5h0m.1-31h0m0 11.5h0m.1-4.1h0m0 26.8h0m.1-124.2h0m0 49.9h0m.1 89.8h0m.1-142.4h0m0 95.6h0m.2-57h0m0 29.4h0m.1 4.6h0m0 65.8h0m.1-61.8h0m.1 .5h0m.3-37.2h0m.2 13.2h0m0 66h0m0 9.9h0m0 4h0m.2-72.9h0m.1-34h0m0 64.3h0m.4-26.6h0m.2 43.2h0m.3-117.8h0m0 101.9h0m.1-1.7h0m0 46.7h0m.1 11.1h0m.2-39.6h0m.1 32.1h0m.1-61.8h0m0 63h0m.2-59.1h0m.1 7h0m.1 32.7h0m.1-54.1h0m.1-28.7h0m0 29.1h0m0 16.9h0m0 57.7h0m.1-94.9h0m0 29.8h0m.1-46.4h0m0 12.9h0m0 38.6h0m.2 65h0m.3-31.4h0m.3 1.2h0m.1-19.9h0m.3-29.8h0m0 25.7h0m0 45.7h0m.1-137.6h0m0 104.2h0m0 2.4h0m.2-34.2h0m0 27.9h0m0 23.7h0m0 19.8h0m.1-139h0m0 29h0m.1 23.4h0m0 46.5h0m.3-36.5h0m0 16.5h0m0 17.3h0m0 28.9h0m.1-101.1h0m0 81.5h0m.2-76.9h0m.1 30.2h0m.2-47.1h0m.3 94.3h0m0 35.1h0m.1-125.7h0m0 123.7h0m.1-116.9h0m0 102.5h0m.3-10.7h0m.2-77.7h0m.1 32.7h0m0 40h0m0 3h0m.1-.6h0m.1-141.6h0m0 160.3h0m0 5.1h0m.1-106.9h0m0 83.5h0m.2-56.5h0m.2 83.4h0m.3-16.3h0m0 8.8h0m.2-110.3h0m0 41.1h0m.1 62.4h0m.4-76.4h0m0 92.1h0m.1-59.7h0m0 56.4h0m0 4.3h0m.1-16.5h0m.3 6.2h0m.2 2.9h0m.1-72.7h0m0 34.7h0m0 23.5h0m.1-35.5h0m.1 2.6h0m.6 53.6h0m.1-118.3h0m.1 57.8h0m.2 51.5h0m.4-89.1h0m.2 83.5h0m.1-41.7h0m0 19.3h0m0 11.5h0m.4-72.4h0m.1-2.3h0m0 7.4h0m.1 95h0m.4-12.8h0m.2-49.6h0m.4-12.9h0m.2 39.2h0m.1-12.1h0m.2-116.4h0m.1 84.6h0m0 2.5h0m0 6.8h0m.1-8.1h0m.2 13.3h0m0 12.1h0m0 28.4h0m0 3.7h0m.1-24.4h0m.1-13.1h0m0 3.8h0m.1 40.9h0m.3-154.5h0m.2 92.7h0m0 37.1h0m.1 7.9h0m0 6.1h0m0 13.1h0m.1-23.5h0m.1-73.5h0m0 41.3h0m0 27.5h0m.3-48h0m0 .5h0m0 83h0m.1-142.7h0m.1 119.6h0m.1-121.8h0m0 37.4h0m0 77.2h0m.1 31.9h0m0 .2h0m.4-91.1h0m.1-122.8h0m0 133.1h0m0 75.8h0m.1-85.7h0m0 55.8h0m.3-38.8h0m0 2.4h0m0 23.5h0m.2-65.6h0m.2 9.1h0m.1-21.3h0m0 49.9h0m.1 51.3h0m.1-101.1h0m.3 85.7h0m.3 16.5h0m.1 22.9h0m.1-196.8h0m0 89.3h0m0 1.2h0m0 37.7h0m.1 .7h0m.2 62.9h0m.3-97.4h0m0 73.4h0m0 7.8h0m.1-55h0m0 12.6h0m.1 10.4h0m.3-41.2h0m0 77.8h0m0 18.6h0m.1-82.4h0m.1 69.7h0m.1-60.7h0m.5-116.9h0m.2 158.7h0m.1 2.8h0m.1 15.7h0m.1-11.3h0m.3-128.6h0m.4 89.9h0m0 23h0m0 7.8h0m0 2.3h0m.4-47.3h0m0 58.2h0m.4-63.7h0m0 3.7h0m.1 51.6h0m.3-59.7h0m.1 77.1h0m.1-26h0m.2-19.7h0m.1-7.7h0m.1-27h0m.1-12.4h0m.2 24.7h0m0 21.4h0m0 42.4h0m.1-110.4h0m0 75.4h0m.4-24.4h0m.3-67.8h0m0 37.1h0m.2 104.7h0m.2-23.9h0m.2-104.2h0m0 75.9h0m0 37.2h0m.3-161.9h0m0 67.4h0m0 20.9h0m.1 40.5h0m0 19.3h0m.1-35.4h0m0 18.2h0m.2-28.9h0m.3 17.2h0m.2-50h0m.1 70.4h0m.2 25.4h0m.1-53.8h0m.1 13.7h0m0 30.4h0m.5-76h0m0 22.6h0m0 8.1h0m.1 53.3h0m.2 4.9h0m.1-4.3h0m.1-35.9h0m0 37.7h0m.1-38.7h0m.2 15.4h0m.4 .6h0m.1 1.3h0m.1-38.2h0m.1 16.2h0m0 15.6h0m.1-157.2h0m0 100.1h0m0 9.6h0m.1 72h0m.2-36.9h0m.1 15.5h0m.6-201.5h0m0 205h0m.1-16.6h0m.3 27.8h0m.1-13.1h0m.2-58.4h0m0 10h0m.1 51.4h0m.1-115.8h0m.1-22.4h0m0 156.9h0m.1-32.8h0m0 23.2h0m.2 9h0m.3-42.6h0m.3 47.1h0m.2-88.2h0m0 54.9h0m.1-61.3h0m0 73.3h0m0 22h0m.1 2.8h0m.8-52.8h0m0 42.3h0m.2-4.1h0m0 9.6h0m.2-59.7h0m0 48.7h0m.1-27.3h0m.1-5h0m0 7.9h0m0 30.3h0m.2 11.7h0m.1-129.1h0m0 45.7h0m.1 5.1h0m.1-2.6h0m0 72.6h0m.1-197.6h0m.2 152h0m0 32h0m.2 8.7h0m0 3.5h0m.1-136.4h0m.2 134.7h0m.4-23.2h0m0 6.3h0m.4-35h0m.1-6.5h0m0 16h0m.1-38h0m0 12h0m.1 33.6h0m.1-124.7h0m0 115.6h0m.1-1.7h0m0 35h0m.1-26.1h0m.1 30.2h0m.3-82.8h0m.1 55.1h0m.3 24.3h0m0 14.5h0m.1-122.9h0m.1 103.7h0m.3-35.9h0m.1 52.5h0m.3-144.9h0m0 72.1h0m.2 69.4h0m.2-209.1h0m0 158.1h0m0 54.9h0m.1-105.4h0m0 34.5h0m0 63.1h0m.2-100.3h0m0 33.2h0m0 56.9h0m.3-120.6h0m0 109.6h0m0 19.6h0m0 .9h0m.2-2.2h0m.1-25.9h0m0 13.1h0m.1 30.5h0m.1-52.7h0m.1-24.5h0m.2-35h0m.2 11.5h0m.4 32.3h0m.1 43.4h0m.2 7.5h0m0 10.2h0m.1-126.4h0m.1 128h0m.2-14.2h0m0 1.5h0m.1-88.2h0m.2 77.7h0m.1-45h0m0 9h0m0 58.5h0m.1 .9h0m.3-162.1h0m0 143.7h0m0 11.5h0m.4-79.2h0m.2 30.9h0m0 38.1h0m.1-19.8h0m.2-52.9h0m0 86.6h0m.1 4.5h0m.4-48.4h0m.2 10h0m0 5.5h0m.1-22h0m0 18.4h0m0 10h0m.1-12.8h0m.3 23.1h0m.1-56.6h0m0 30.1h0m.2 5.6h0m0 15.9h0m.3-144.5h0m.4 156.6h0m0 17.6h0m.1-65.7h0m.1-11h0m.2-7h0m0 46.2h0m.2-71.2h0m0 46.6h0m.1-17.2h0m.1 24.6h0m0 22.8h0m0 8h0m.1-13.6h0m.1-99.5h0m0 77.4h0m0 60h0m.1-134.6h0m0 103.6h0m0 3.3h0m.2-7.5h0m.1-108.9h0m.1 41.7h0m.2 74h0m.1-21h0m.3-32.2h0m0 74.1h0m.2-80.7h0m0 89.7h0m.1-68.7h0m0 63.7h0m.1 3.5h0m.1-129.8h0m0 123.4h0m.1-16.5h0m0 23.6h0m.1-16.9h0m.2-37.3h0m.3 6.6h0m.1-69.2h0m.2 51.5h0m0 39.5h0m.1-119.5h0m0 47.4h0m0 26.8h0m.1-18.3h0m.1 42.1h0m0 10.1h0m0 6.4h0m.1-25.1h0m.1-13.5h0m0 7.5h0m.1-31.6h0m0 85.6h0m.7-23.1h0m.1-23.4h0m0 4.7h0m.1-55.2h0m.2 94.3h0m.1-109.3h0m0 100h0m0 13.3h0m.2-56.9h0m.1 40.2h0m.2-37.8h0m0 24.9h0m.1 7.1h0m.1-81.8h0m0 25h0m.1 25h0m0 51.6h0m.1-24.9h0m.1-128.9h0m.2 136.4h0m.1 5.4h0m.2-65.3h0m0 41.8h0m.1-29.8h0m0 12h0m0 23.3h0m.1 13.5h0m.3-22.7h0m.6-55.9h0m.1 52.8h0m.1-57.5h0m0 68.6h0m0 27.2h0m.4-76.6h0m0 76.3h0m.1-24.5h0m.1 8.1h0m.2-90.5h0m.2 30.8h0m0 .7h0m0 9.7h0m0 50.8h0m.1-16.1h0m.1-85.1h0m0 17.8h0m.1 36.7h0m0 54.7h0m.1-16.7h0m.6-91h0m.1 129.2h0m.1-33.3h0m0 15.4h0m.2-141.7h0m0 144.6h0m.1-94.5h0m.1 11.2h0m0 48.4h0m0 35.5h0m.1-109.7h0m0 53.6h0m.1 21.2h0m.1-37.7h0m.1 56.4h0m.1-52.4h0m.3 33.9h0m.1 31.4h0m.1 15h0m.1-88.2h0m.2 70.6h0m0 15.7h0m.1-15.7h0m.1-95.3h0m0 32.8h0m0 13.9h0m0 50.7h0m.2-41.1h0m.2 27.8h0m.1-28.7h0m.1 48.5h0m.1-91.2h0m0 24h0m0 17.6h0m.1-21.9h0m.1-99.7h0m.3 175.9h0m.1-231.3h0m0 207h0m.2 3.3h0m.2-28.7h0m.1-16.6h0m0 2.7h0m0 65.4h0m.2-100.5h0m0 63.9h0m.2-79.7h0m.1 29.2h0m.1 46.5h0m.2-100.9h0m.4 76.8h0m.1-41.5h0m0 104.5h0m.2-165.6h0m0 27.5h0m.1 44.1h0m0 39.6h0m0 10.2h0m0 29.7h0m.1-85.3h0m0 103h0m.1-27.4h0m0 11.7h0m.2 17.2h0m.1-34.7h0m0 34.5h0m.1-138.7h0m0 23.4h0m0 25h0m0 21.9h0m.4 63.3h0m.1-23h0m.1-105.4h0m0 74.2h0m.5 50.9h0m.4-101h0m0 62.9h0m.1-34.9h0m.4 81.3h0m.6-111.1h0m.1 56.3h0m.1-3.3h0m.1 23.6h0m.1-95.5h0m.1 85h0m.1-33.9h0m.1-12.8h0m.4-33.3h0m.1 107.5h0m.4-60.7h0m0 32.1h0m0 38.4h0m.4-63.7h0m0 71h0m.2-.1h0m.1-28.1h0m0 23.4h0m.1-69.7h0m0 14.3h0m0 8.4h0m.1-52.5h0m.5-62.8h0m.3 137.9h0m.2-68.3h0m.3 51.6h0m.4 22.9h0m.1-48.7h0m.2 44.7h0m.1 22.9h0m.1-37h0m0 12.3h0m0 26.2h0m.1-71.6h0m.1 76.3h0m.1-3.2h0m.2-56.9h0m.1 20.8h0m.1 22h0m.2-139.1h0m0 53.1h0m0 21.3h0m.5 62.8h0m.1 4.3h0m.1 11.4h0m.1-41.8h0m0 29.5h0m.6-55.7h0m.3 11.8h0m0 35.4h0m.1 9.3h0m.2-63.4h0m.1 45.9h0m0 2.5h0m.2-74.3h0m.1 103.1h0m.2-119.1h0m.3-74.1h0m.2 21.5h0m0 92.4h0m.1 71.4h0m.3-30.1h0m.1-105.4h0m.1 67.4h0m.1 73.9h0m.4-142.1h0m.1 3.7h0m.5 29.4h0m.1 78.9h0m.1-96.9h0m.2 48.1h0m0 79.9h0m.1-28.9h0m.1-38.4h0m.2 56.8h0m.4-.7h0m.2-77.1h0m0 64.1h0m0 3.8h0m.1 23.5h0m.1-24.5h0m0 5.9h0m.7-19.5h0m.1-83.8h0m.1 65.6h0m.2-19.6h0m.1 45.3h0m.3-9.4h0m.4-20h0m.1 60h0m.2-222.6h0m.1 209h0m.2-96h0m.1-29.2h0m.5 36h0m.1-20.3h0m0 98.6h0m.2 24.3h0m.1-68.5h0m0 64.6h0m.3-18.8h0m.1-90.2h0m0 24h0m.2 26h0m.6-71.4h0m.1 110.4h0m.1-47.7h0m0 68.8h0m.2-38.3h0m.1 31.3h0m.4-129.2h0m.2 55.3h0m.2-153.9h0m0 48.3h0m.3 149.4h0m.2 11.1h0m.4-20.9h0m0 40.6h0m.1-77.6h0m0 57.7h0m0 6.1h0m.1-8.1h0m.3-10.5h0m0 .7h0m.1 4h0m0 5.7h0m.6-4.9h0m.1-10.5h0m0 39.2h0m.1-10.1h0m.1-4.6h0m.1 19h0m.1-36.2h0m.2 27.6h0m.2-26.2h0m.3-111.2h0m0 28.1h0m.1 96.7h0m.2 5.9h0m.2-226.8h0m0 171.3h0m0 52h0m.1-88.2h0m.4 62.1h0m.1-74.6h0m0 55.8h0m.1 55.8h0m.2-88h0m.2 72.4h0m.2-90.9h0m.4 75.8h0m.1-76.5h0m.1 109.6h0m.2-82.7h0m.2 86.9h0m.2-21.8h0m.1-8.2h0m.1 31h0m.1-222h0m.3 116h0m0 54.7h0m.1 49.5h0m.1-115.7h0m0 71.8h0m.6 6.1h0m0 20.6h0m.2-59.2h0m0 38.3h0m0 24.1h0m.2-74.1h0m.3 58.8h0m.3-9.7h0m.4-3.4h0m.1 39.4h0m.1-100h0m0 93.8h0m0 3.2h0m.4-.6h0m1-89.6h0m0 67.2h0m0 1.1h0m.6-52.4h0m.1 8.7h0m.2 61.6h0m.2-41.8h0m.1 9.8h0m0 33.3h0m.1-29.3h0m.3-94.6h0m.1 129.6h0m.1-40.6h0m0 41.6h0m.2-85.6h0m.1 51.1h0m0 9.8h0m.1-22.7h0m.1 3h0m0 49.9h0m.1-49.9h0m.1 46.5h0m.3-23.5h0m.5-79.4h0m.5 46.9h0m.1 47.9h0m.1-16.2h0m.1-3.3h0m.2-29.1h0m.2-12.8h0m.2 56.4h0m.7-15.1h0m.4-36.7h0m.2 .6h0m.1 1.8h0m0 59.1h0m.1-97.8h0m.2 76.3h0m.1-12.5h0m.1 42.8h0m.1-47.2h0m.1 14.9h0m0 1.3h0m.6-23.6h0m0 11.4h0m.3-13.1h0m.3 39h0m.1 5.9h0m.1-36.8h0m.4 15.2h0m.1-36.1h0m.1-200.7h0m.3 221.3h0m0 39h0m.3-48.5h0m.1-12h0m.1-1.3h0m.1 25h0m0 28.6h0m.2-28.1h0m.6-24.2h0m.1 53.6h0m.1-44.1h0m.3 57.6h0m.3-19.5h0m.1-15.3h0m0 1.6h0m.1-72.8h0m.1 16.2h0m.2 58.2h0m0 12.4h0m.5-149.8h0m0 93.5h0m0 17.7h0m0 55.7h0m0 0h0m.2-108.7h0m0 95.5h0m.2-25.7h0m.1 18h0m.1 9.1h0m.1 9.2h0m.4-79.9h0m.2 71.4h0m.1-136.6h0m0 107.7h0m.1-94.4h0m0 77.7h0m.1 22.7h0m.1-7.6h0m.2-18.7h0m.2 30.3h0m.3-87.6h0m.1 116.5h0m.4-54.3h0m.4 11.8h0m.1-52.5h0m0 96.5h0m.4-109.1h0m.1-13.2h0m.2 51.7h0m0 12.5h0m.5 40.5h0m.1-5.4h0m.1-75.8h0m.3 47.8h0m.1 26.9h0m.4-5.3h0m.1-7.5h0m.2-3.3h0m0 5.1h0m0 33.1h0m.1-73.4h0m.2 43.1h0m.3-44.3h0m0 57.1h0m0 21.9h0m.2-27.3h0m.1-137.2h0m.1 113.2h0m0 46.3h0m.1-57h0m.3-17.4h0m0 48.6h0m.2-77.6h0m.1 42.2h0m.1-3.4h0m0 11.1h0m0 26.4h0m.2-101.9h0m.3 69.6h0m0 6.4h0m.1 14.2h0m.2-7.1h0m.2-7.5h0m0 40.4h0m.5-3h0m.1-2h0m.1-33.8h0m.1 13.8h0m0 13.6h0m.1-88.8h0m.1 96.6h0m.3-48h0m.1-8.4h0m0 26h0m0 7.6h0m.2 4.7h0m.4 .3h0m0 40.2h0m.1-38.9h0m.6 19.9h0m.2-36.6h0m.2 19.4h0m0 19.4h0m.1 8.2h0m.1-26.9h0m.2-66.7h0m.1 42.9h0m.5 45.8h0m.3-125.9h0m.3 126.3h0m0 4.9h0m.2-35.4h0m.9-28.7h0m.1 72.5h0m.2-129.5h0m.2 84.1h0m0 23.3h0m0 9.2h0m0 7.5h0m.6-167.1h0m0 88.4h0m.1 58.1h0m.1-75.3h0m.7 50.5h0m0 49.2h0m.1-42.5h0m.1-18.8h0m.2-81.3h0m.6 125.4h0m.2-110.2h0m0 105.3h0m.1 19.5h0m.3-12.1h0m.1-74.4h0m.1 65.1h0m.1-108h0m0 128.1h0m.1-75.5h0m.2 71h0m.2-57.4h0m.4 43.7h0m0 20.2h0m.4-69.3h0m0 58.1h0m.4 8.4h0m.1-34.4h0m.2-67.4h0m.1 39.5h0m0 15.1h0m.4-91.7h0m.3 83.2h0m0 15.6h0m.1-129.7h0m.1 36.6h0m0 134.3h0m.2-46.3h0m0 35.7h0m.5-55.2h0m.1 31.1h0m.1 14.3h0m0 20.9h0m.2-33.4h0m0 17.7h0m.2-33.5h0m.2 51.1h0m.4-39.7h0m.2-132.7h0m.7 59.5h0m.1 68h0m.1-47.1h0m.3 70.1h0m.2-102.8h0m0 80.4h0m.2 31.5h0m.2-77.3h0m.1-4.6h0m.1-20.4h0m.1 68.4h0m.1 38.4h0m.1-87.1h0m0 54.2h0m0 5.7h0m.1-40.3h0m.2 69.3h0m.2-145.9h0m.2 122h0m.1-23.2h0m.2 34.3h0m.1 5.6h0m.2-22.5h0m.2-127.5h0m0 117.6h0m.1 32.1h0m.4-59.8h0m.1 69.2h0m.1-80.2h0m.1 73.4h0m.1-63h0m.2 40.7h0m.2-66.7h0m.2 33h0m0 54.9h0m0 12.5h0m.1-58h0m.1 1h0m.1 2.6h0m.3-97.3h0m.2 131.3h0m.3 11.5h0m.2-3.7h0m.2-63.4h0m.1 30.7h0m.3 19.5h0m.3-28.8h0m.1 32.4h0m.2-89.9h0m0 71.5h0m.2 3.8h0m.1-103.4h0m.1 101.7h0m.1 14.6h0m.1 10.1h0m.6-24h0m.2-11.5h0m.1 40.8h0m.3-41.4h0m.2-.6h0m.1 33.6h0m.3-161.3h0m0 166h0m.1 14h0m.1-17.8h0m.2 1.4h0m0 8.8h0m.3-1.1h0m.1-25.1h0m.7 3.8h0m0 29.1h0m.2-68.8h0m.3-16.4h0m.4 25.2h0m.4 43.3h0m.3-35.6h0m0 36.9h0m.1-121.2h0m.1 97.3h0m.2 3.9h0m.6 18h0m0 2.2h0m.1 14.1h0m.1-45.2h0m.3 46.2h0m.2-42.1h0m.4-41.7h0m.1 38.1h0m0 37.1h0m.3-34.5h0m.1-100.7h0m.2 112.8h0m.3-16.3h0m.1 16.1h0m.1-46.6h0m.2-12.7h0m.1 45.4h0m0 47h0m.1-67h0m.1 61.9h0m.1-129.7h0m.2 112.6h0m0 8.6h0m.2-42.7h0m0 41.7h0m.5 7.1h0m0 7.7h0m.4-28.3h0m.2-17.3h0m.1-41.2h0m0 33.2h0m.2 31.8h0m.5-23.7h0m0 16.5h0m.2 7.5h0m.5-23.1h0m.2 31.5h0m.2-166.1h0m.1 151.6h0m0 21h0m.1-101h0m.2 20h0m0 55h0m0 2.3h0m.1-10.2h0m.2-9.7h0m0 17.1h0m0 14.3h0m.5-104h0m0 72.7h0m.6 41.2h0m.2-56.7h0m.1 16.3h0m.3-4.1h0m0 24.1h0m.1 11.7h0m0 2.5h0m.2 .2h0m.3-47.6h0m.3 58h0m.2-53.3h0m0 5h0m.3-15.7h0m.2 13.1h0m.5-43h0m.2 45.1h0m.1 50.4h0m.1-16.9h0m.4-119.6h0m.4 90.3h0m.4 15.8h0m.1-20.4h0m.4 11.4h0m.1-7h0m.4-15h0m.2 20h0m.2-82.7h0m0 100.6h0m.4-79.6h0m.5 37.4h0m0 53h0m.4-19.1h0m0 29.7h0m.6-96.3h0m.1 55.4h0m.5-4.9h0m.2-53h0m0 78.6h0m.4-47.9h0m.1 16.9h0m.2-49.3h0m.2 3.3h0m.1-44.4h0m.2 78.8h0m.1 62.4h0m.1-118.7h0m.3 78.3h0m.1 16.7h0m.1 25h0m.2-2.4h0m.2-7.1h0m.1-146.7h0m.5 102.3h0m.1 9h0m.1 14.1h0m.1-1.9h0m0 32.4h0m.6-108.7h0m.3 82.3h0m.3-20.3h0m.3-52.2h0m.4 61.3h0m0 42.7h0m.5-51.3h0m0 12.3h0m.2-35.7h0m.1-30.6h0m.3-8.5h0m.3 52.8h0m.1-56.9h0m.1 56.1h0m.1-79.2h0m.3-12.2h0m.1 22.3h0m.3 84.3h0m.8 10.1h0m0 17.7h0m0 10.2h0m.2-86.5h0m0 58.8h0m0 32.1h0m.7-13.5h0m0 6.9h0m.1-48.3h0m.1 19.7h0m.6 37.8h0m.2-160.3h0m0 101.4h0m.2 24.4h0m.6-76.1h0m.1 65h0m0 25.5h0m0 17.3h0m.1-3.4h0m.1-37.2h0m.3-6.9h0m.2-121.9h0m.1 165h0m.2-85.2h0m.1 83.5h0m.1 2.1h0m.5-7.6h0m.7-5.7h0m.1-28.4h0m.5-37.7h0m0 85h0m.3-22.1h0m0 9.7h0m0 8.4h0m.1-111.9h0m0 70.1h0m0 47.3h0m.3-83.4h0m0 9.1h0m.2 2.4h0m.1-145.5h0m.2 135.8h0m0 38.6h0m.5-17.7h0m0 6.8h0m.2 13.5h0m0 25.1h0m.5-101.1h0m.2-25.9h0m0 49.5h0m.2 90.7h0m.1-70.7h0m.2 1.5h0m.2 72.3h0m.5-74.1h0m.1 66.9h0m.2-36.1h0m.3-22.4h0m.1-81.1h0m0 64h0m.2 45.2h0m.2-114.6h0m.1 49.4h0m0 68h0m.2-28h0m.2 61.2h0m.2-43.4h0m0 12.2h0m.1 30.5h0m.3-115.8h0m0 89.3h0m.2 2.3h0m.6-13.1h0m0 33.5h0m.2-2.6h0m.1-98.5h0m0 70.1h0m.3-32h0m0 38.5h0m.2-46.8h0m.2 26.4h0m.2 45.4h0m.2-53.2h0m0 19.7h0m.2-137.7h0m.1 110.2h0m0 13.3h0m0 39.9h0m.3-3.8h0m.1-40.4h0m.1-27.7h0m0 48.7h0m.2 24.3h0m.7-65.6h0m.4 75.4h0m.2-70.3h0m0 62.3h0m.3 .9h0m.3 2.6h0m.1 6.2h0m.1-137.5h0m0 94.7h0m0 9.7h0m.4-54.9h0m0 74.1h0m.7-7.7h0m0 .3h0m.1-7.3h0m0 15.6h0m.3-43.8h0m.4 40.4h0m.4 14h0m.6-17.5h0m.5-70.8h0m.3 21.5h0m0 25.2h0m.3-71.1h0m.1 98.5h0m.7-15.4h0m0 22.9h0m.3-48.4h0m.6-17.2h0m0 24.8h0m.5-107.2h0m.2 149.3h0m.3-60.6h0m0 43h0m.2 13.3h0m.1-44.9h0m0 25.7h0m.6 16h0m.3 .3h0m.2-49.3h0m.2 47h0m.3 6.2h0m.6-184.3h0m.3 96h0m.1 81.7h0m.1 .3h0m.1 16.6h0m.1-83.5h0m.2 71.2h0m0 8.1h0m.3-74.1h0m.3 29.4h0m.3 13.7h0m.1 26.7h0m.1-110.6h0m.1 34.8h0m.4-26.3h0m.2 24.6h0m0 48.6h0m.2-9h0m0 6.4h0m.1-24.3h0m.1 33.8h0m0 9.4h0m.2-86h0m.1-14.2h0m.2 81h0m.5-125.4h0m.1 66.2h0m0 91.4h0m0 7.1h0m.1-46.1h0m.2 42.2h0m.1-53.8h0m.1 18.7h0m.2 23.7h0m.2 11.6h0m.7-22.7h0m.1-88.9h0m0 104.9h0m.1-58.2h0m.2-24.8h0m0 52.3h0m.3 39.8h0m.5-12h0m.5-121.4h0m0 122.5h0m.2-70.1h0m.3 67.2h0m.6-22.7h0m.4-22.7h0m.1-25.5h0m0 64h0m.2-5.4h0m0 28.1h0m.4-40.2h0m.2-68.7h0m.3 99.6h0m.2-54.9h0m.2 9.6h0m.9-68.5h0m.1 35.5h0m0 42.4h0m0 22.1h0m.5-27.4h0m.3 32.8h0m0 6.5h0m.2-65.3h0m.2-4.7h0m.1-21.7h0m.1 36.5h0m.1 57.7h0m.3-77.1h0m0 45.8h0m.1-52.8h0m0 79h0m.2-56.4h0m.2-11.9h0m0 56.9h0m.2 25.7h0m.1-43.5h0m.2 9.5h0m.1-15.1h0m.1-11.5h0m.6-83.4h0m.1 130.2h0m.4 5.1h0m.5-8.5h0m.7-12.2h0m.4-30.7h0m.1 43.2h0m.4-26.8h0m.1-10.4h0m.1 13.1h0m.1-4.6h0m.7-19h0m.3-40.2h0m.2 80.9h0m.1 8h0m.3-21.1h0m0 21.3h0m.1-86.4h0m.2 86.9h0m.2-59.2h0m0 30.1h0m.2 27.2h0m.1-52.7h0m0 20.2h0m.4-29.8h0m.1 50.9h0m.3-31.2h0m0 37.3h0m.2-3.8h0m.1-21.7h0m.2 41.1h0m.4 2.6h0m.3-12.8h0m.3 13.7h0m.1-6h0m.5-16h0m0 .5h0m.1-48.5h0m.3 63.9h0m.1-82.5h0m0 26.7h0m.1 9.8h0m.1 20.6h0m.9 11.3h0m0 23.2h0m0 1.4h0m.2-2.8h0m.1-76.2h0m.5 45.7h0m.3-11.6h0m0 35.3h0m.1-11.5h0m0 11.9h0m.1-11.5h0m0 4.1h0m.4-15.1h0m0 26.6h0m.3-64.1h0m0 12.3h0m0 .1h0m.1-65.5h0m.1 117.2h0m.2-77.7h0m.1 28.4h0m.1 49.1h0m.4-67.1h0m0 69.1h0m.2-32h0m.3-24.1h0m0 59.5h0m.3-16.7h0m.1-60.1h0m.4 11.6h0m.3-10.5h0m.4 65.1h0m0 2.7h0m.3-29.6h0m0 35.8h0m.8 1.5h0m.3-61.5h0m.1-35.8h0m.1 93.1h0m.1-37.1h0m.1 29.3h0m.2-18.9h0m.2-6.2h0m.2-5.5h0m.3-18.8h0m.5 31.8h0m0 7.5h0m.3-112h0m0 95.3h0m0 12.7h0m0 3.2h0m.5-7.9h0m.2 15.6h0m.2-2.9h0m.1-35.2h0m.3 34.3h0m.1 17.6h0m.2-95.5h0m.3 62.1h0m.1-67.6h0m.1 82.3h0m0 5.3h0m.1-36.6h0m0 20.4h0m.1-33.2h0m.1-45.5h0m0 46.4h0m.6-33h0m0 84.3h0m.7-112.6h0m.2 83.3h0m.1-.7h0m.1-6.9h0m.6 1.7h0m0 .6h0m.6 41.1h0m.3-8.4h0m.2-78.9h0m0 81.9h0m.3 5.4h0m.2-35.5h0m.1 27.6h0m.2-1.8h0m.1-20.4h0m.5-18.1h0m.2-28.5h0m0 24.5h0m.1 48h0m.1-60.8h0m.3-5.9h0m.4 34.6h0m.3-22.2h0m.1-23.6h0m.2 30h0m0 10.4h0m.1-8.1h0m0 16.5h0m.1-73.2h0m.1 98h0m.2-92.9h0m.1-54h0m0 145.4h0m.1-77.8h0m.3 47h0m.2 9.8h0m.3 12.6h0m.4-54.6h0m0 17h0m.1 15.7h0m.3 43.3h0m.2-169h0m.1 143.5h0m.3-79.6h0m.5 60.1h0m0 34.8h0m0 6.3h0m.3-116h0m.1 96.4h0m.1-72.7h0m0 29.6h0m.8 44.8h0m.1 .9h0m.2-78.4h0m.3 40.4h0m0 8.4h0m.1 37.9h0m.1 8.4h0m.3-70.4h0m.4 25.4h0m1-50.9h0m.2 71.6h0m0 4.3h0m0 21.1h0m.5-2.1h0m.2-64.1h0m.1 55.5h0m.2 16.7h0m.2-55.9h0m0 2h0m0 40.4h0m.4-75.4h0m.4-41.8h0m.1 96.3h0m.1 17.2h0m.1-7.2h0m.5-86.5h0m.3 83.2h0m.2-106.5h0m.3 111.6h0m.1-108.4h0m0 66.6h0m0 23.5h0m.2-28.2h0m0 18.1h0m.1-33.2h0m.1-32.3h0m0 53.7h0m.1 3.2h0m.3 41.7h0m.1-87.4h0m.6 92.2h0m.3-18.5h0m.4-44h0m.2-81h0m.1 133h0m.1-10.3h0m.2-46.8h0m1.2 27.3h0m.4-8.8h0m.1 32.7h0m.6-44.6h0m.1-4.7h0m0 34.8h0m.8 13.5h0m.1 2.1h0m0 28.1h0m.1-97h0m0 30.2h0m0 .4h0m.1-83.2h0m.1 85.6h0m.3 7.5h0m.3 46.5h0m.1-21.9h0m.5 4.6h0m0 7.5h0m0 8.4h0m.1-78.1h0m.2 83.7h0m.2-31.7h0m.5-34.1h0m.1 2.6h0m.2-7.9h0m0 60.3h0m.2-24.5h0m.3-3.3h0m.1 14.5h0m.2-16h0m0 15.5h0m.1 25h0m.1-72.5h0m.3 28.6h0m.4 38.1h0m0 10h0m.1-11.8h0m.2-24.6h0m.3 22.6h0m.5-91.8h0m.3 35.6h0m0 57.4h0m.2-22.3h0m0 25.7h0m.2-42.9h0m0 16.1h0m.2 7.4h0m.2-11.5h0m0 12.1h0m.2 23.6h0m.2-47.7h0m0 19.5h0m.1 12h0m.1-29.8h0m0 17.5h0m.2-68.5h0m.3 93.4h0m.9-47.4h0m.2-35.6h0m0 76.4h0m.1 3.6h0m.2-64.5h0m.1 29.1h0m.4 37.5h0m.2-4.9h0m0 1.6h0m.2-58.6h0m0 61.5h0m.3-50.2h0m0 50.8h0m.1 4.9h0m.1-116.6h0m0 122.4h0m.1-116.2h0m0 74.4h0m.2 19.4h0m.1-104.1h0m0 119.9h0m.1-65.9h0m.1-4.5h0m0 51.9h0m.2-3.5h0m.1-19.3h0m.4 31.5h0m.4-35.1h0m.2-44.4h0m.2 86.7h0m.3-91.8h0m0 16h0m.7 15.4h0m.1 9.2h0m.1-25.7h0m.4 85.4h0m.3-48.4h0m.1 5.1h0m.2-57.2h0m0 57.5h0m.1 38h0m.4-68.6h0m.1 37.5h0m.3 16.3h0m.5-57.4h0m0 38.1h0m.1-51h0m0 81.2h0m.1-48.4h0m0 28h0m.5-38.5h0m.2 24.2h0m.1 22.2h0m.1-161.2h0m0 109.5h0m.2 18.4h0m.1-3.9h0m.1 7.2h0m0 1.5h0m.1 36.7h0m.4-19.4h0m.2 19.9h0m.1-25h0m.5-21.2h0m.3 37.8h0m.1-10.6h0m.1-30.6h0m.1 38.2h0m.3-53.2h0m.1 22.8h0m.2-12.2h0m.2-22.2h0m.1 65.9h0m.1-18.7h0m.1 34.3h0m.1-24.4h0m0 24.9h0m.7-56.1h0m.3-20.8h0m.4 56.7h0m.1-111.4h0m.3 113.3h0m.1-53.1h0m0 31.8h0m.1-7.3h0m.1-12.6h0m.3 47.3h0m.1 18.2h0m.2-5.7h0m.2-8.1h0m.1 3.2h0m.1-63.6h0m.1-20h0m.5-60.1h0m.5 128.2h0m0 26.6h0m.3-5h0m1-96.3h0m.7 88.5h0m.2 3h0m.2-6.4h0m.1-13.4h0m.5-97h0m.3 98.4h0m0 21.8h0m.2-4.4h0m0 8.7h0m.1-91.6h0m.5 26.9h0m.1-1.2h0m.1 24.5h0m.8 17.1h0m.1-25.7h0m.1 3.5h0m0 28.3h0m.1-100h0m0 104h0m.6-13.7h0m.3-3.6h0m.1-12.6h0m.7-11.8h0m0 10.5h0m.1 6.4h0m.4-77.6h0m0 60h0m.3 21.3h0m.2 .2h0m.3-23.4h0m.8-14.3h0m0 63.3h0m0 8.8h0m.1-5.2h0m.5 2.5h0m.4-11.1h0m.1-18.9h0m0 27.1h0m.2-150.9h0m.3 139.3h0m.6 4.1h0m.5 .4h0m.1 8.8h0m.1-99.9h0m.1 66.8h0m.1 24h0m.1-7.7h0m.5-32.7h0m.1 44.3h0m.4-66.7h0m0 13.9h0m.2 30.9h0m.2 25.7h0m.5-83.5h0m.1 29.7h0m0 60.1h0m.2-60.8h0m.1 39.3h0m.1-2.9h0m.4 13.7h0m.2-53.6h0m.4 67.3h0m.3-43.8h0m.1 1.2h0m0 2h0m.7 18.2h0m.1-11.2h0m.1-30.6h0m.3-44.2h0m0 17.7h0m0 30h0m.2 44.9h0m.2-27.4h0m0 5.1h0m0 33.1h0m.1-40.3h0m.2-4.9h0m.4 26.9h0m.2 12.8h0m.1-59.5h0m0 57.6h0m0 5.4h0m.1-51.9h0m0 42.8h0m.2-45.1h0m.1 38.7h0m0 9.7h0m.4-33.9h0m.1-93.8h0m0 130h0m.1-37.3h0m.1-21.6h0m.4-2.4h0m0 22.1h0m.1-38.1h0m.3 31h0m.4 8.8h0m.1-35.2h0m.2 12.1h0m.1-7.6h0m.1 64.7h0m.6 1.1h0m.2-10.9h0m.8 19.9h0m.4-17.5h0m0 4.5h0m1-40.3h0m.3-19.4h0m0 50.8h0m.4-116.4h0m0 97h0m.2-15h0m.5-13.2h0m.1 46.2h0m.4 16.9h0m.7-54.6h0m.3 20.8h0m.1-7.3h0m.3-2.7h0m.3-38.3h0m.2 24.8h0m.1-39.2h0m.1 80.1h0m.8-75.8h0m.4 13.3h0m0 2.8h0m.6 .5h0m0 48.1h0m.1-13.8h0m.1-1.6h0m.5 19.9h0m0 8h0m.2-39.5h0m.3-34.9h0m.8 37.7h0m.2 43h0m.4-4.2h0m.3-84.8h0m.3 13.7h0m0 85.4h0m.2-108.8h0m.1 17.6h0m.3 33.4h0m.2 21.4h0m.2-28.7h0m.1-36.9h0m.1 101.4h0m.1-35.4h0m.5 25.7h0m.5-4.4h0m.4-47.7h0m.1-.3h0m.3 59.5h0m.1-36.7h0m.4-8.3h0m0 48.6h0m.2-149.2h0m0 135.9h0m.8-79.9h0m0 74.9h0m0 1.8h0m.1 14.2h0m.2-34.1h0m.1 19.1h0m0 16h0m.2-46h0m.2-86.5h0m.2 54.8h0m.3 65.4h0m.1-17.9h0m1.1-32.1h0m0 58.9h0m.1-23.3h0m.1-99.6h0m0 10.6h0m0 67.1h0m.3 6h0m.6 46.1h0m.1-52.3h0m.3 47.4h0m.5-103.2h0m0 11.1h0m.2 57.6h0m0 20.8h0m.2 19.1h0m.6-42.7h0m.2 7.7h0m0 16.3h0m.5-7.9h0m0 12.8h0m.1-57h0m.1-43.9h0m0 55.3h0m.3-93.6h0m.1 83.3h0m0 74.7h0m.5-64.1h0m.1 48.1h0m.1-100h0m0 39.2h0m0 28.4h0m.1-32.7h0m.3 62.1h0m.2-95h0m0 92.5h0m.1 .1h0m.3-80.3h0m.2 36.5h0m.2-18.3h0m.3 79.6h0m.2-35.8h0m0 34.5h0m.1-45.1h0m.1-89.2h0m0 98.8h0m.2 39.4h0m.2-29.5h0m.3-17h0m.1-4.8h0m0 36h0m.3-.2h0m.2 8.4h0m.1-88.7h0m0 12.9h0m.5 56.9h0m0 10.8h0m.1 4.3h0m0 11.6h0m.1-49.5h0m.1 41.4h0m.3-71.5h0m0 45.3h0m.2-130.8h0m.2 161h0m.3-37.8h0m.1 20.8h0m.1-10.2h0m.7 2.8h0m.1-59.7h0m0 7.8h0m.1 16.2h0m0 33.6h0m.1 23.4h0m.1-34.5h0m.2 2.8h0m0 4.4h0m.2 22.5h0m.4-23.6h0m.3-18.3h0m.3-12.2h0m.2 4.8h0m.1-22.7h0m.6 35.4h0m.1-30.8h0m0 78.6h0m.2-100.8h0m0 90.4h0m.4-26h0m.1 31.2h0m.7-49.1h0m.1-15h0m0 14.2h0m0 13h0m0 18.9h0m.1 .7h0m.1 9.5h0m.3-18.9h0m.1 27h0m.4-12.3h0m.1-99.9h0m0 18.7h0m0 56.1h0m.3 17.4h0m.3 4.5h0m.1-19h0m.5 6.1h0m.7 23.7h0m.1-21.9h0m.1 1.1h0m.3-6.4h0m.4-25.9h0m0 23.5h0m.1 27.5h0m.1-28.7h0m.2 6.4h0m.1-21.9h0m.3-19.9h0m.4-95.6h0m.3 165.5h0m.2-9.1h0m0 5.6h0m.1-72.1h0m0 19.7h0m.2 16.4h0m0 26.3h0m.1-69.3h0m.2 4.3h0m.1 .5h0m.2-9.9h0m.2-44.1h0m0 108h0m.4 3.8h0m.1-28.9h0m0 43.4h0m.1-102.9h0m.4 72.2h0m.1-39.5h0m.4 23.2h0m.1-13.1h0m.1-.3h0m.1 4.8h0m.3 64.8h0m.1-46.8h0m0 9.9h0m0 13.2h0m0 5.6h0m.1 1.7h0m1.1-55.7h0m0 72.3h0m.2-136.1h0m.2-25.2h0m.1 93.2h0m0 27.7h0m.7-11.7h0m.2 41.2h0m.4-65.4h0m.2-28.2h0m.3 60.2h0m0 7.3h0m.1 19.1h0m.1-70.4h0m.1 14.7h0m0 55.9h0m.2-41h0m.6 13.3h0m.2 27.8h0m0 10.3h0m.3-5.7h0m0 14.2h0m.1-76.3h0m.2 67h0m0 3.8h0m.1-35.3h0m0 19.5h0m.1-63.9h0m0 70.7h0m.1-47.1h0m.1-1.2h0m1.3 62.9h0m.3-35.7h0m.2 21.6h0m.1 4.9h0m.2-143.7h0m.6 119.7h0m.7 34h0m.4-127.6h0m.1-20.6h0m0 53.1h0m.1 92.7h0m.1-68.6h0m.4-72.1h0m.2 100.2h0m.1 27h0m.6-15.3h0m.1-58.4h0m0 68.1h0m.1-103.5h0m.6 57h0m0 31.5h0m0 8.9h0m.2-24.4h0m0 19.4h0m.3-12.5h0m.2 40h0m.3-53.4h0m0 26.7h0m.1 33.4h0m.2-19.2h0m.3-49.4h0m.1 31.1h0m.1 27.6h0m.3-66.9h0m0 12h0m.2-.4h0m0 40h0m.1-4.5h0m.3-69h0m.5 41.6h0m.6-75.2h0m.2 49.6h0m.2 29.6h0m0 26.1h0m.1-11.7h0m.1-38.5h0m.1 41.5h0m.1-84.7h0m.2 50.9h0m.1-19h0m0 41.5h0m0 28.9h0m.9-28.2h0m.1-47.3h0m0 1.5h0m0 60.9h0m.1-47.2h0m.2-58.5h0m0 126.8h0m0 9.6h0m.2-49.8h0m.1-13h0m.4-62.7h0m.4 18.5h0m.1 85.2h0m.3 10.7h0m.1-23.1h0m.2 13h0m.2-70.8h0m.4 67.7h0m0 2.9h0m.4 20.6h0m.7-.4h0m.5-101.2h0m0 92h0m.8-48.4h0m0 42h0m.1 6.9h0m.1 1.5h0m.1-73.3h0m.5 42.6h0m0 30.9h0m0 7h0m.2-55.1h0m.5 50.3h0m.1-95h0m.1 24.6h0m.1 .2h0m0 70.8h0m.4-59.3h0m.3-34.5h0m.2 3.7h0m0 71.4h0m.2-59.3h0m.2 75.7h0m.2-66.4h0m.1 46.5h0m.2-80.5h0m0 106.5h0m.2-69.6h0m.6 31.2h0m0 20.7h0m.1 4.1h0m.1-212.6h0m0 128h0m.2 45h0m.4-40h0m.2 91.6h0m.2-54.5h0m.1 34.2h0m0 15.8h0m.1-32.2h0m.1 2.7h0m.1-37.4h0m.1 65.3h0m.3-2.9h0m.2-75h0m.1-50.6h0m0 16.9h0m.2 1h0m0 75.6h0m0 29.2h0m.1-15.5h0m.2-56.4h0m.1-58.1h0m.1 61.9h0m.1 73.8h0m.1 3.9h0m.1-106.1h0m.2 86.1h0m.1-83.5h0m0 92.8h0m.6-60.4h0m.1-8.6h0m0 8.9h0m.2 37.8h0m.1-15.2h0m.3 25.4h0m.1 25.6h0m.1-67.8h0m.1 51.3h0m.2 11h0m.1-25.3h0m.5-46.1h0m.1-25.1h0m.1 66.8h0m.1 24.9h0m.3-47.3h0m.1-51.6h0m0 46.5h0m0 31.2h0m.1-57.9h0m.1 91.7h0m.1-45.7h0m.1 28.5h0m.2-1.7h0m0 2.4h0m.1-4.2h0m.2 11.7h0m.2-95.7h0m.1 63h0m.1 37.5h0m.1-34.3h0m.1 5.1h0m0 22.3h0m.5-78.6h0m0 46.6h0m0 28.2h0m0 8.1h0m.1-84.8h0m.1-1.1h0m0 72.7h0m.1-96.9h0m.1 101.1h0m.3-59h0m.1 4.7h0m.2-36.5h0m.1 105.7h0m.2-67.7h0m.7 69.2h0m.3-101.2h0m.7 4h0m0 80.7h0m.1-122.8h0m.2 29.2h0m0 61.3h0m.1 48h0m.1-31h0m0 21.8h0m.1-66.6h0m.2-13.5h0m.2 16.5h0m.3 38.1h0m.1 3.6h0m.3-41.1h0m.1-30.5h0m0 92.1h0m.2-146.6h0m.2 146.2h0m.2-38.1h0m0 28.2h0m.1-28.3h0m.3-52.9h0m.4-.2h0m.2 102.4h0m.6-45.4h0m.2-19.2h0m0 26.4h0m.6 29.1h0m.3-25.3h0m.1-3.9h0m.1-92.9h0m0 102.7h0m.3-33.5h0m.1-4.3h0m.1 38.4h0m.1-72.6h0m0 51.8h0m0 12.6h0m.3 14h0m.1-90.1h0m.1-6.2h0m0 114.6h0m.5-90h0m0 92h0m.3-145.2h0m.1 78.2h0m.3 26.2h0m0 6.4h0m0 29.4h0m.1 5.4h0m.3-27h0m.3-83h0m.1 58.3h0m.1 30.9h0m.1 9.5h0m.1-69.2h0m.2 54.6h0m.1-32.7h0m.1 6.6h0m.2-98.1h0m0 142.3h0m.2-100.5h0m.2 91.4h0m.1-46.4h0m.1 54.4h0m.3-42.5h0m0 51.8h0m.2-61.9h0m.1-86.3h0m.2 101.3h0m.2 30h0m.4-19.9h0m.1-28.4h0m0 28.6h0m.1-15.4h0m.1 37.6h0m.1-56.6h0m0 73.4h0m.3-69.8h0m.1-8.6h0m.1 54.1h0m.3-23.4h0m0 46h0m.1-2.7h0m.1-6.3h0m.3-50.4h0m.6-26.3h0m0 29.7h0m0 15.3h0m.6-8.3h0m0 23.7h0m.1-128.7h0m.2 91.8h0m.1-9.5h0m.1 14.5h0m.1-43.6h0m.1 68.7h0m.1-67.6h0m0 100.6h0m.6-28.4h0m.3-10.7h0m.1-67h0m0 7.9h0m.9-64.5h0m.3 114.1h0m.1-44.8h0m0 43.6h0m0 42h0m0 6.8h0m.3-14.7h0m.1-103.1h0m.5 34.1h0m0 42.6h0m.1 3.9h0m.1-5.9h0m.3-29.2h0m.2 56h0m.2-18h0m0 28.5h0m.2-71h0m.1-27h0m.2 56.4h0m0 46.2h0m.1-60.5h0m.2-19.8h0m.3 29.4h0m.3 51.6h0m.1-73.8h0m0 40h0m.6-59.6h0m.3 73.8h0m0 6.4h0m.2-42.9h0m.5-24.2h0m0 73.5h0m.1-50.4h0m.1 30.6h0m0 11.3h0m.5-16.4h0m.1 17.3h0m.1-37.5h0m.3 9.4h0m.2-107h0m.1 62h0m0 86.7h0m.1-42.5h0m.1-48.4h0m.5 16.8h0m0 59.8h0m.3-71.8h0m.1 80.8h0m.1-93.6h0m0 31h0m.2 .3h0m.4-62.9h0m0 72.7h0m.1-40.3h0m.1-27.5h0m.1 63h0m0 35.5h0m.1 22.9h0m.2-129.2h0m.1 68h0m.1 30.6h0m.1-33.3h0m0 51.1h0m.1-37.3h0m.7 19.8h0m.2-47h0m.1 73.9h0m.1-27.7h0m.2-28.2h0m.1 20.6h0m.2-115.9h0m.1 126.3h0m.1-68h0m0 71h0m.1 1.1h0m.1-3.6h0m.1-57.7h0m.2 56.7h0m.2 12.3h0m.4-1.8h0m.1 3.6h0m.2 6.9h0m.1-37.7h0m.1 51.7h0m.4-129.8h0m0 2.9h0m0 59.5h0m0 39.4h0m.3-3.2h0m.2-39.4h0m0 47.6h0m.4 15h0m.3-55.9h0m0 26.7h0m.2-20.2h0m.1-1h0m.5 43.4h0m.2-22.7h0m.1-25.1h0m0 37.9h0m0 20h0m.2-57.7h0m.1 15.4h0m.2 41.2h0m.2-46.9h0m.3-14.3h0m.2-29.4h0m.1 86.6h0m.3-3.7h0m.1-10.5h0m.2-23.6h0m.2 25.4h0m.1 6h0m.3-158.9h0m0 136.4h0m.2-6.7h0m.1-38.8h0m.1 13.1h0m.1-52h0m0 95.5h0m.1-42.4h0m.5 64.1h0m.1 4.4h0m.1-54.4h0m0 30.5h0m0 11.9h0m.3 10.8h0m.1-36.6h0m.2-87.3h0m.3 102.2h0m.1-13.6h0m0 3.7h0m0 14.4h0m.1-49.9h0m.1 35.3h0m.2-1.6h0m0 18.6h0m.1-109.9h0m.1 36h0m.1 37.3h0m.1 13.9h0m0 35.4h0m.1-50.3h0m.2-2.7h0m.1 50.5h0m.2-19.9h0m.1-93.3h0m.2 83.5h0m.3 35.1h0m.1-60.3h0m0 8.1h0m.4 4.1h0m.1 38h0m.6-62.7h0m0 1.6h0m0 37.1h0m0 10.9h0m.1-83.3h0m0 70.5h0m.1 25.7h0m.2 11.2h0m.3-25.6h0m.1-71.7h0m0 76.2h0m.4 20.4h0m.4-27.8h0m.1 10.8h0m.8-28.2h0m.2 24.8h0m.3-149.3h0m0 144.8h0m.1 1.4h0m.5-15.6h0m0 23.7h0m.3-7h0m.1-14.7h0m.4-62h0m.3 94.4h0m.2-63.3h0m.1 8h0m0 21.2h0m.3 9.3h0m.3 11.1h0m.8 6.5h0m.4-43.4h0m.4-1.8h0m.1-12.7h0m.6-62.4h0m0 110.3h0m.5-68.8h0m.1 68.3h0m.2-105.1h0m0 24h0m.1 74.4h0m.3-7.3h0m.2 19.5h0m.1-60.4h0m.1 7.5h0m.7-6.6h0m.3 6.4h0m.3 22.5h0m.5-81h0m0 77.3h0m0 36h0m.1-2.2h0m0 10h0m.1-.9h0m.1-99.5h0m.4 68.2h0m.1 4.9h0m.1-6.8h0m.3 .4h0m.2-88.9h0m.3 123.3h0m.1-4h0m.1-25.1h0m.6-57.7h0m.1 16.3h0m.2-13.1h0m0 57.8h0m.4-40.1h0m.1 20.2h0m.2-27.4h0m.1-55.7h0m0 127h0m.1-84.4h0m0 93.1h0m.3-142.4h0m.3 127.8h0m.3-10.6h0m.1-73.3h0m.1 7.8h0m.1 91.5h0m.2-30.4h0m0 5.1h0m.7-.8h0m.2 27.6h0m.4-24.1h0m.3-9.2h0m0 6.4h0m.1-17.3h0m.2 18.6h0m.1-68.2h0m0 58.3h0m.3 24.3h0m.2-57.1h0m.4 18.1h0m0 43.2h0m.3-24.6h0m.2-9.9h0m.3-.7h0m.4-10.9h0m0 19h0m.4-43.8h0m0 63.5h0m.1-113.8h0m0 63.2h0m.1 60.6h0m.3-71.4h0m0 13.6h0m.7 14.7h0m.2-40.8h0m.3-23.3h0m.1-26.7h0m0 16.5h0m.1 69.3h0m.2-36.5h0m.3 46.3h0m.3-6.5h0m.1-112h0m.2 143.7h0m.1 4.7h0m.1-58.9h0m.3 61.9h0m.2-34.7h0m.3 28.7h0m.3-30.6h0m.3-51.3h0m0 79.4h0m.1-18.4h0m0 2.7h0m.4-5h0m.4-2.5h0m.5-84h0m.3 120.2h0m.4-62.3h0m.5 6.9h0m.2-31.4h0m0 66.6h0m.1-55.1h0m0 69.4h0m.3-75.4h0m.3 56.9h0m.5 7.3h0m0 17.3h0m.1-32.7h0m.2 2.9h0m.1 9.1h0m.3-31.6h0m.1-80.9h0m.4 105.2h0m.2-15.9h0m0 27.6h0m.6-67.1h0m0 80.7h0m.1-75.9h0m0 59.3h0m0 9.8h0m.5-111.4h0m.2 121.6h0m.1-18.5h0m.2-13.2h0m.8-24.8h0m.1-6.6h0m0 64.4h0m.2-59.6h0m.4 9h0m.1 53.1h0m.5-36.9h0m.4-18.9h0m.1-74.2h0m.6 115.1h0m.6 9.4h0m.2-48.5h0m.1 43.5h0m.1-70.1h0m0 29.4h0m0 4.6h0m.2-87.3h0m.1 98.2h0m.2-25.3h0m.1 3.9h0m.1-18.9h0m0 42.5h0m.2 22.3h0m.5-88.1h0m.3 80.3h0m.3-13.6h0m0 15.3h0m.4-127.1h0m0 39.1h0m.9 47.5h0m.1 39.9h0m0 17.3h0m.3-78.3h0m0 62.2h0m.2-69.7h0m.3 45.1h0m.1 2.4h0m0 1.8h0m.1-6.8h0m0 11.3h0m.2-42.8h0m.6 26.1h0m.3 24.5h0m.1-61.3h0m0 13.7h0m.1 34.5h0m0 8.4h0m.3 2.3h0m.1-77.5h0m.1 94.2h0m0 4.9h0m.2-91.6h0m0 67.6h0m0 27.9h0m.1-47.6h0m0 11.1h0m.2-5h0m0 11.5h0m.4-84h0m.5-27.8h0m.2 71.3h0m0 61.9h0m.1 7.4h0m.7-23.4h0m.4 7.9h0m0 2.3h0m.1-65.3h0m0 45.3h0m.2-71.9h0m0 91.4h0m.1-4.8h0m.1-9.2h0m.1-21h0m.3-33.7h0m0 31.9h0m0 23.4h0m0 4.6h0m.1 1.1h0m.1-52h0m0 16.9h0m.4-17.2h0m.1 34.3h0m.1 20.7h0m.1-96.6h0m.2 103.5h0m.2-20.1h0m0 34.2h0m.5-51.4h0m.5 0h0m.3-23.3h0m.3 22.9h0m0 12.1h0m.1-74h0m0 49.8h0m.1-42.2h0m.3 53.3h0m.1 8.9h0m.8-28.4h0m.1-86h0m0 120.4h0m.1 2.2h0m.4-47.6h0m.3-4.1h0m.2 81.6h0m.3-16.7h0m.2-58.8h0m.2 20.3h0m.2 6.8h0m.1-5.7h0m.2 22.4h0m.2-3.2h0m0 15.8h0m0 1.3h0m.3-56h0m.1-14.5h0m.1 40.2h0m1.5-48.8h0m0 7.7h0m0 59.8h0m.2-65.8h0m.2 82.4h0m.2 2.8h0m0 6.4h0m.1-30.3h0m.1-28.7h0m0 54.8h0m.6-68.4h0m.1 57.6h0m.1-82.2h0m.2 105.2h0m.2-44h0m0 17.6h0m.4 15.2h0m.2-23.7h0m.5-3.8h0m.1-31.9h0m.7 27.4h0m.1 12.2h0m.4-97.8h0m0 119.5h0m.4-44.6h0m.1-13.9h0m0 32.3h0m.5 26.7h0m.2-55.2h0m.9 43.4h0m0 9.3h0m.2-5.1h0m1-53.5h0m.1 22.5h0m0 26.6h0m.1-8h0m.6-40.3h0m0 25.4h0m.3 39.7h0m.1-44.2h0m.1 16.2h0m.1-53.6h0m0 3.6h0m.1 44.1h0m.2 38.2h0m.1-2.5h0m.2-54.2h0m.3 41.6h0m.2 10.4h0m.3-49.9h0m0 3.9h0m0 22.3h0m0 3.6h0m.1-57.6h0m0 49.7h0m.1 20.8h0m.1-2.4h0m.2-27.6h0m.5 40.4h0m.1-95.8h0m0 10.5h0m.1-45.2h0m0 97.1h0m0 18.6h0m.4-9.1h0m.1-69h0m.1 81.2h0m.4 10.8h0m.1-108h0m.2 106.6h0m.1-34.1h0m.1 23.8h0m.3-.6h0m.7-44.2h0m.1 28.7h0m.9-53.4h0m0 68.4h0m0 2.1h0m.1-74.1h0m.4 64h0m.2-26.7h0m0 21h0m.4-6.3h0m.1 36.5h0m.1-53.4h0m.1 26.1h0m.4-178.7h0m.2 187.3h0m.1-46.9h0m0 20.9h0m0 21h0m0 24h0m.1-30.5h0m.1-80.1h0m0 47.5h0m.2 18h0m.2-26.6h0m.2 56.4h0m.2-10.8h0m0 8.6h0m.3-83.3h0m0 37.1h0m0 34.9h0m.4-147.6h0m0 46.5h0m0 20.3h0m0 101.2h0m.2-6.2h0m.1-49h0m0 16.4h0m.4-85.4h0m.1 105.5h0m0 .3h0m.1 23.8h0m.2-4.3h0m1.1-19.2h0m.1 5.5h0m.4 16.4h0m.5-25.3h0m0 6.2h0m.1-82.8h0m0 93.1h0m.1-35h0m.1-65.2h0m.3 52.3h0m.4-40.3h0m0 88h0m.3-108.9h0m.3 65.5h0m.1 29.5h0m.1 21.5h0m.5-66h0m.1 40.3h0m.1-83.5h0m0 66.2h0m.2-93.2h0m.1 77.8h0m0 20.9h0m.3-3.3h0m0 46.1h0m.2-1.5h0m.4-113.4h0m.2 87.5h0m.2-107.4h0m0 88.1h0m0 4.9h0m.1-120h0m.2 121.2h0m0 21.2h0m.3 17.9h0m.1-11.3h0m0 1.2h0m.3-116.8h0m0 26h0m.2 48.9h0m.2-33h0m0 82.4h0m.1-68.7h0m.5 58h0m.2-42.1h0m.3 57.2h0m.1-15.7h0m.5-11.8h0m.3 18.6h0m.2-44.3h0m.3 1.2h0m.5 13.2h0m.2 23.4h0m.2 11.9h0m.1-74.2h0m.2 18.7h0m1.4 50.7h0m0 5.9h0m.1-10.4h0m.1-67h0m.3 36.7h0m0 28.4h0m.5-96.8h0m.3 94.5h0m.1-32.9h0m.1 9.2h0m.1 25.1h0m.2-80.8h0m.1 82.6h0m.1 11h0m.1-13.7h0m.1-84.3h0m.1 36.5h0m0 11h0m.1 46.7h0m.2-104.4h0m.6 82.9h0m.1-10.4h0m0 37.2h0m.3-1h0m.7-105.2h0m0 95.7h0m0 6.3h0m.1-112.5h0m.1 44.9h0m.3 45.2h0m.1-104.7h0m.2 127.9h0m.1-97.4h0m.1 69.1h0m.1-3.8h0m.8-102.6h0m1 18.2h0m.1 75.4h0m0 40.1h0m.4-46.9h0m.1-5.2h0m.2 36.9h0m.1 .1h0m.2-16.5h0m.6-43.9h0m0 8.1h0m.3-35.1h0m.1 66.8h0m0 30h0m.5-66.7h0m.1 38.7h0m.4-61.3h0m.2 69.5h0m0 10.7h0m0 9.7h0m1.3-9.1h0m.1-40.9h0m0 13.6h0m.4-76.6h0m0 108h0m.2-28.5h0m0 13.6h0m.3-35.3h0m.2 53h0m.1 3.5h0m.2-54.7h0m.1-27.9h0m0 44.9h0m0 12.2h0m0 10.5h0m.1 17.1h0m.1-88.8h0m.4 57.7h0m.2 4h0m.2-69.5h0m1 85.8h0m0 9h0m.2-56.6h0m.1-13.5h0m0 47.1h0m0 5.1h0m.1-65.5h0m0 50.6h0m.1-10.9h0m.4 9.7h0m.2-94.7h0m.1 88.9h0m.4-27.9h0m.1 69.3h0m.1-33.7h0m.1 20.3h0m.3-7.7h0m.1-31h0m.1-35.6h0m0 2.5h0m.5-7.3h0m.1 81.9h0m.2-26.8h0m.2 11h0m.5-24h0m0 9.9h0m.2 15.3h0m.6 9.3h0m.6-1.2h0m.4-45h0m.1 55.7h0m.4-23.4h0m.1 16.2h0m.2-14.5h0m.3 24.8h0m.1-14.3h0m.1 3.8h0m.4-114.7h0m.1 95.6h0m.7 2.7h0m.3-51.2h0m.2-32.6h0m.1 66.2h0m.1-32.2h0m0 74.4h0m.1-86.4h0m.4 91.6h0m.3-48.4h0m0 50h0m.1-28.8h0m.2-28.9h0m.1-45.5h0m0 64.8h0m0 10.9h0m.3-27.3h0m.3-53.5h0m.1 73.3h0m0 10.6h0m.2-28.7h0m.4-14.8h0m0 27h0m.3-41h0m0 41.4h0m.3 9.5h0m.1-58.4h0m.6 84.5h0m.1-73.9h0m.3 1h0m.5 48.6h0m.4-87.3h0m.1 115.7h0m.2-41h0m.1 10.3h0m0 6.3h0m0 21.1h0m.2-118.3h0m.2 93.6h0m.1 26.1h0m.1-4.4h0m.2-79.5h0m0 7.3h0m.4 69.7h0m.1-101.3h0m.2 42h0m.2 75.2h0m.6-19.2h0m.2-78.9h0m.2 9.7h0m.1-75.3h0m0 122.9h0m.4 22.9h0m.1-67.1h0m.1-27h0m0 108.9h0m.2-119.2h0m0 40.5h0m.2 5.1h0m0 51.6h0m.1 6.7h0m.2 11.8h0m.3-5.8h0m.3-161.1h0m.1 57.1h0m0 77.1h0m.1-14.2h0m.5 34.3h0m0 4h0m.1-24.6h0m.1-7.5h0m.1-78.2h0m.7 89.9h0m0 4.8h0m.1-.8h0m.1 33h0m.1-47.6h0m0 18.8h0m.1-72.2h0m0 24.3h0m.3 7.2h0m1.3-32h0m0 85.4h0m.2 13.9h0m.1-62.2h0m1.6 57.6h0m.2-63h0m.4 55.7h0m.3-102.7h0m.5 31.5h0m.2 64.3h0m.6-90.9h0m0 110.4h0m.3-93.3h0m0 89.4h0m.2-39.2h0m.5 2h0m.4-35.3h0m.6 3.5h0m.1 39h0m.1-35.4h0m.1 48.8h0m.3-33.1h0m0 52.6h0m.1-76h0m.2 16.4h0m.1 41.5h0m0 11.6h0m0 8.7h0m.8-81.6h0m0 28.7h0m.2 33.1h0" fill="none" stroke="#34C1CA" stroke-width="13.4" stroke-linecap="round" shape-rendering="crispEdges"/>
<line x1="390" y1="505" x2="2446.5" y2="505" stroke="#FF0000" stroke-width="14" stroke-dasharray="43.9 42.23"/>
<polyline points="411.1,875.3 431.6,854.7 452.2,858.0 472.7,860.3 493.3,851.7 513.9,845.7 534.4,841.5 555.0,842.4 575.5,837.4 596.1,841.1 616.7,848.4 637.2,839.0 657.8,837.1 678.3,846.0 698.9,837.7 719.5,842.2 740.0,849.3 760.6,848.4 781.1,845.4 801.7,844.1 822.3,854.7 842.8,856.5 863.4,859.5 883.9,862.1 904.5,863.4 925.1,855.3 945.6,853.5 966.2,865.7 986.7,863.4 1007.3,872.6 1027.9,872.9 1048.4,875.3 1069.0,876.3 1089.5,868.7 1110.1,877.0 1130.7,872.0 1151.2,872.0 1171.8,881.5 1192.3,882.3 1212.9,884.1 1233.5,876.3 1254.0,881.7 1274.6,884.3 1295.1,875.2 1315.7,877.0 1336.3,881.5 1356.8,872.0 1377.4,872.0 1397.9,872.4 1418.5,863.2 1439.1,864.3 1459.6,864.3 1480.2,865.6 1500.7,860.9 1521.3,860.5 1541.9,848.9 1562.4,832.5 1583.0,845.0 1603.5,841.7 1624.1,833.9 1644.7,849.5 1665.2,841.7 1685.8,844.8 1706.3,843.0 1726.9,848.6 1747.5,844.9 1768.0,848.6 1788.6,847.9 1809.1,858.7 1829.7,848.0 1850.3,855.3 1870.8,849.0 1891.4,863.4 1911.9,863.4 1932.5,853.7 1953.1,860.3 1973.6,846.5 1994.2,868.5 2014.7,871.7 2035.3,874.5 2055.9,875.8 2076.4,867.3 2097.0,866.8 2117.5,878.7 2138.1,880.3 2158.7,877.4 2179.2,886.6 2199.8,879.4 2220.3,880.3 2240.9,877.4 2261.5,877.9 2282.0,878.2 2302.6,883.5 2323.1,884.5 2343.7,879.9 2364.3,879.9 2384.8,883.4 2405.4,873.7 2425.9,873.4 2446.5,869.1" fill="none" stroke="#0047DD" stroke-width="20" stroke-linejoin="bevel" stroke-linecap="butt" shape-rendering="crispEdges"/>
<circle cx="1405" cy="199.3" r="6.7" fill="#34C1CA"/>
<line x1="1310.9" y1="320.4" x2="1500" y2="320.4" stroke="#FF0000" stroke-width="13" stroke-dasharray="44.4 41.6"/>
<line x1="1310.9" y1="442" x2="1500" y2="442" stroke="#0047DD" stroke-width="20"/>
<text transform="translate(191.01,103.90) scale(0.9473,0.9900)" fill="#262626">0.08</text>
<text transform="translate(190.91,313.90) scale(0.9470,0.9900)" fill="#262626">0.06</text>
<text transform="translate(190.92,523.90) scale(0.9456,0.9900)" fill="#262626">0.04</text>
<text transform="translate(190.84,733.90) scale(0.9655,0.9900)" fill="#262626">0.02</text>
<text transform="translate(308.44,943.90) scale(1.0143,0.9900)" fill="#262626">0</text>
<text transform="translate(364.93,1041.70) scale(0.9917,0.9900)" fill="#262626">0</text>
<text transform="translate(624.00,1041.70) scale(1.0000,0.9900)" fill="#262626">50</text>
<text transform="translate(887.12,1041.70) scale(0.9650,0.9900)" fill="#262626">100</text>
<text transform="translate(1172.58,1041.70) scale(0.9686,0.9900)" fill="#262626">150</text>
<text transform="translate(1459.17,1041.70) scale(0.9563,0.9900)" fill="#262626">200</text>
<text transform="translate(1744.14,1041.70) scale(0.9641,0.9900)" fill="#262626">250</text>
<text transform="translate(2029.17,1041.70) scale(0.9667,0.9900)" fill="#262626">300</text>
<text transform="translate(2314.25,1041.70) scale(0.9695,0.9900)" fill="#262626">350</text>
<text transform="translate(957.59,1189.90) scale(1.1355,1.0800)" fill="#262626">Fault phase angle(°)</text>
<text transform="translate(1508.33,219.70) scale(0.9388,0.9000)" fill="#000">Single simulation error</text>
<text transform="translate(1511.23,340.90) scale(0.9170,0.9000)" fill="#000">0.04ms error</text>
<text transform="translate(1513.06,458.80) scale(0.9415,0.9000)" fill="#000">Average error</text>
<text transform="translate(123.7,752.29) rotate(-90) scale(1.1308,1.0800)" fill="#262626">Errors(ms)</text>
</svg>
</body></html>
